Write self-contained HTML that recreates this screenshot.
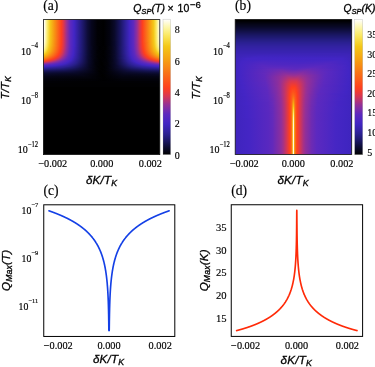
<!DOCTYPE html>
<html><head><meta charset="utf-8"><title>figure</title>
<style>
html,body{margin:0;padding:0;background:#fff;}
body{width:375px;height:367px;overflow:hidden;font-family:"Liberation Sans",sans-serif;}
svg{display:block}
.s{font-family:"Liberation Serif",serif;fill:#000;stroke:#000;stroke-width:.16px}
.i{font-family:"Liberation Sans",sans-serif;font-style:italic;fill:#000;stroke:#000;stroke-width:.3px}
.n{font-family:"Liberation Sans",sans-serif;fill:#000;stroke:#000;stroke-width:.3px}
</style></head><body>
<svg width="375" height="367" viewBox="0 0 375 367">
<defs>
<filter id="gs" filterUnits="userSpaceOnUse" x="0" y="0" width="375" height="367" color-interpolation-filters="sRGB"><feColorMatrix type="saturate" values="0"/></filter>
<linearGradient id="a0" gradientUnits="userSpaceOnUse" x1="43" x2="161" y1="0" y2="0"><stop offset="0.0042" stop-color="#fff"/><stop offset="0.0127" stop-color="#fffdeb"/><stop offset="0.0297" stop-color="#fcf18f"/><stop offset="0.0381" stop-color="#fae967"/><stop offset="0.0551" stop-color="#f6d12b"/><stop offset="0.0636" stop-color="#f4c418"/><stop offset="0.0975" stop-color="#f79313"/><stop offset="0.1483" stop-color="#fe491c"/><stop offset="0.1568" stop-color="#fc3f21"/><stop offset="0.1737" stop-color="#de384a"/><stop offset="0.1992" stop-color="#9c3190"/><stop offset="0.2246" stop-color="#692ab6"/><stop offset="0.2331" stop-color="#5c29be"/><stop offset="0.2585" stop-color="#4726c4"/><stop offset="0.2669" stop-color="#4025c1"/><stop offset="0.3263" stop-color="#221b79"/><stop offset="0.3771" stop-color="#0e0d39"/><stop offset="0.411" stop-color="#06061d"/><stop offset="0.4619" stop-color="#010105"/><stop offset="0.5127" stop-color="#000001"/><stop offset="0.5636" stop-color="#03030f"/><stop offset="0.6059" stop-color="#0a0a2a"/><stop offset="0.6483" stop-color="#17145a"/><stop offset="0.6992" stop-color="#2f219b"/><stop offset="0.7331" stop-color="#4225c3"/><stop offset="0.7669" stop-color="#5e29bd"/><stop offset="0.7924" stop-color="#8d2f9d"/><stop offset="0.8008" stop-color="#a0318c"/><stop offset="0.8178" stop-color="#cf355c"/><stop offset="0.8347" stop-color="#f13b31"/><stop offset="0.8432" stop-color="#fe401f"/><stop offset="0.911" stop-color="#f6a313"/><stop offset="0.9364" stop-color="#f4c71a"/><stop offset="0.9449" stop-color="#f6d331"/><stop offset="0.9619" stop-color="#fbeb6f"/><stop offset="0.9788" stop-color="#fef9c4"/><stop offset="0.9873" stop-color="#fffef2"/><stop offset="0.9958" stop-color="#fff"/></linearGradient>
<linearGradient id="a1" gradientUnits="userSpaceOnUse" x1="43" x2="161" y1="0" y2="0"><stop offset="0.0042" stop-color="#fff"/><stop offset="0.0127" stop-color="#fefde8"/><stop offset="0.0297" stop-color="#fcf08d"/><stop offset="0.0381" stop-color="#fae865"/><stop offset="0.0551" stop-color="#f6d02a"/><stop offset="0.0636" stop-color="#f4c417"/><stop offset="0.0975" stop-color="#f79313"/><stop offset="0.1483" stop-color="#fe481d"/><stop offset="0.1568" stop-color="#fc3e22"/><stop offset="0.1737" stop-color="#dd374a"/><stop offset="0.1992" stop-color="#9b3090"/><stop offset="0.2246" stop-color="#692ab6"/><stop offset="0.2331" stop-color="#5c29be"/><stop offset="0.2585" stop-color="#4726c4"/><stop offset="0.2669" stop-color="#4025c1"/><stop offset="0.3263" stop-color="#221b79"/><stop offset="0.3771" stop-color="#0e0d39"/><stop offset="0.411" stop-color="#06061d"/><stop offset="0.4619" stop-color="#010105"/><stop offset="0.5127" stop-color="#000001"/><stop offset="0.5636" stop-color="#03030f"/><stop offset="0.6059" stop-color="#0a0a2a"/><stop offset="0.6483" stop-color="#17145a"/><stop offset="0.6992" stop-color="#2f219b"/><stop offset="0.7331" stop-color="#4125c3"/><stop offset="0.7669" stop-color="#5e29bd"/><stop offset="0.7924" stop-color="#8c2f9d"/><stop offset="0.8008" stop-color="#a0318c"/><stop offset="0.8178" stop-color="#ce355c"/><stop offset="0.8347" stop-color="#f03b31"/><stop offset="0.8432" stop-color="#fe401f"/><stop offset="0.911" stop-color="#f6a212"/><stop offset="0.9364" stop-color="#f4c619"/><stop offset="0.9449" stop-color="#f6d330"/><stop offset="0.9619" stop-color="#fbea6d"/><stop offset="0.9788" stop-color="#fef8c1"/><stop offset="0.9873" stop-color="#fffdf1"/><stop offset="0.9958" stop-color="#fff"/></linearGradient>
<linearGradient id="a2" gradientUnits="userSpaceOnUse" x1="43" x2="161" y1="0" y2="0"><stop offset="0.0042" stop-color="#fff"/><stop offset="0.0127" stop-color="#fefce5"/><stop offset="0.0212" stop-color="#fdf7b6"/><stop offset="0.0381" stop-color="#fae864"/><stop offset="0.0551" stop-color="#f5d029"/><stop offset="0.0636" stop-color="#f4c317"/><stop offset="0.0975" stop-color="#f79213"/><stop offset="0.1483" stop-color="#fe481d"/><stop offset="0.1568" stop-color="#fc3e22"/><stop offset="0.1737" stop-color="#dd374b"/><stop offset="0.1992" stop-color="#9b3091"/><stop offset="0.2246" stop-color="#692ab6"/><stop offset="0.2331" stop-color="#5c29be"/><stop offset="0.2585" stop-color="#4626c4"/><stop offset="0.2669" stop-color="#4025c1"/><stop offset="0.3263" stop-color="#211b79"/><stop offset="0.3771" stop-color="#0e0d39"/><stop offset="0.411" stop-color="#06061d"/><stop offset="0.4619" stop-color="#010105"/><stop offset="0.5127" stop-color="#000001"/><stop offset="0.5636" stop-color="#03030f"/><stop offset="0.6059" stop-color="#0a0a2a"/><stop offset="0.6483" stop-color="#17145a"/><stop offset="0.6992" stop-color="#2f219b"/><stop offset="0.7331" stop-color="#4125c3"/><stop offset="0.7669" stop-color="#5e29bd"/><stop offset="0.7924" stop-color="#8c2f9d"/><stop offset="0.8008" stop-color="#9f318d"/><stop offset="0.8178" stop-color="#ce355c"/><stop offset="0.8347" stop-color="#f03b32"/><stop offset="0.8432" stop-color="#fd401f"/><stop offset="0.911" stop-color="#f6a212"/><stop offset="0.9364" stop-color="#f4c619"/><stop offset="0.9449" stop-color="#f6d22f"/><stop offset="0.9619" stop-color="#faea6b"/><stop offset="0.9788" stop-color="#fdf8bf"/><stop offset="0.9873" stop-color="#fffdef"/><stop offset="0.9958" stop-color="#fff"/></linearGradient>
<linearGradient id="a3" gradientUnits="userSpaceOnUse" x1="43" x2="161" y1="0" y2="0"><stop offset="0.0042" stop-color="#fff"/><stop offset="0.0127" stop-color="#fefce2"/><stop offset="0.0212" stop-color="#fdf7b3"/><stop offset="0.0381" stop-color="#fae762"/><stop offset="0.0551" stop-color="#f5cf27"/><stop offset="0.0636" stop-color="#f4c317"/><stop offset="0.0975" stop-color="#f79214"/><stop offset="0.1483" stop-color="#fe481d"/><stop offset="0.1568" stop-color="#fc3e22"/><stop offset="0.1737" stop-color="#dd374b"/><stop offset="0.1992" stop-color="#9b3091"/><stop offset="0.2246" stop-color="#692ab6"/><stop offset="0.2331" stop-color="#5c29be"/><stop offset="0.2585" stop-color="#4626c4"/><stop offset="0.2669" stop-color="#4025c1"/><stop offset="0.3263" stop-color="#211b79"/><stop offset="0.3771" stop-color="#0e0d39"/><stop offset="0.411" stop-color="#06061c"/><stop offset="0.4619" stop-color="#010105"/><stop offset="0.5127" stop-color="#000001"/><stop offset="0.5636" stop-color="#03030f"/><stop offset="0.6059" stop-color="#0a0a2a"/><stop offset="0.6483" stop-color="#17145a"/><stop offset="0.6992" stop-color="#2f219b"/><stop offset="0.7331" stop-color="#4125c3"/><stop offset="0.7669" stop-color="#5e29bd"/><stop offset="0.7924" stop-color="#8c2f9d"/><stop offset="0.8008" stop-color="#9f318d"/><stop offset="0.8178" stop-color="#cd355d"/><stop offset="0.8347" stop-color="#f03b32"/><stop offset="0.8432" stop-color="#fd3f20"/><stop offset="0.911" stop-color="#f6a112"/><stop offset="0.9364" stop-color="#f4c518"/><stop offset="0.9449" stop-color="#f6d12d"/><stop offset="0.9619" stop-color="#fae969"/><stop offset="0.9788" stop-color="#fdf8bc"/><stop offset="0.9873" stop-color="#fffdec"/><stop offset="0.9958" stop-color="#fff"/></linearGradient>
<linearGradient id="a4" gradientUnits="userSpaceOnUse" x1="43" x2="161" y1="0" y2="0"><stop offset="0.0042" stop-color="#fff"/><stop offset="0.0127" stop-color="#fefcdf"/><stop offset="0.0212" stop-color="#fdf6b0"/><stop offset="0.0381" stop-color="#fae75f"/><stop offset="0.0551" stop-color="#f5ce26"/><stop offset="0.0636" stop-color="#f4c217"/><stop offset="0.0975" stop-color="#f79114"/><stop offset="0.1483" stop-color="#fe471d"/><stop offset="0.1568" stop-color="#fb3e23"/><stop offset="0.1737" stop-color="#dc374c"/><stop offset="0.1992" stop-color="#9a3091"/><stop offset="0.2246" stop-color="#692ab6"/><stop offset="0.2331" stop-color="#5c29bf"/><stop offset="0.2585" stop-color="#4626c4"/><stop offset="0.2669" stop-color="#4025c1"/><stop offset="0.3263" stop-color="#211b79"/><stop offset="0.3771" stop-color="#0e0d39"/><stop offset="0.411" stop-color="#06061c"/><stop offset="0.4619" stop-color="#010105"/><stop offset="0.5127" stop-color="#000001"/><stop offset="0.5636" stop-color="#03030f"/><stop offset="0.6059" stop-color="#0a0a2a"/><stop offset="0.6483" stop-color="#17145a"/><stop offset="0.6992" stop-color="#2f219b"/><stop offset="0.7331" stop-color="#4125c3"/><stop offset="0.7669" stop-color="#5e29be"/><stop offset="0.7924" stop-color="#8c2f9d"/><stop offset="0.8008" stop-color="#9e318d"/><stop offset="0.8178" stop-color="#cd355e"/><stop offset="0.8347" stop-color="#ef3b33"/><stop offset="0.8432" stop-color="#fd3f20"/><stop offset="0.911" stop-color="#f6a112"/><stop offset="0.9364" stop-color="#f4c418"/><stop offset="0.9449" stop-color="#f6d12b"/><stop offset="0.9619" stop-color="#fae967"/><stop offset="0.9788" stop-color="#fdf8b9"/><stop offset="0.9873" stop-color="#fefde8"/><stop offset="0.9958" stop-color="#fff"/></linearGradient>
<linearGradient id="a5" gradientUnits="userSpaceOnUse" x1="43" x2="161" y1="0" y2="0"><stop offset="0.0042" stop-color="#fffffe"/><stop offset="0.0127" stop-color="#fefbdb"/><stop offset="0.0212" stop-color="#fdf6ad"/><stop offset="0.0381" stop-color="#fae65e"/><stop offset="0.0551" stop-color="#f5ce24"/><stop offset="0.0636" stop-color="#f4c117"/><stop offset="0.0975" stop-color="#f79114"/><stop offset="0.1483" stop-color="#fe471d"/><stop offset="0.1568" stop-color="#fb3e23"/><stop offset="0.1737" stop-color="#dc374c"/><stop offset="0.1992" stop-color="#9a3092"/><stop offset="0.2246" stop-color="#682ab7"/><stop offset="0.2331" stop-color="#5c29bf"/><stop offset="0.2585" stop-color="#4626c4"/><stop offset="0.2669" stop-color="#4025c1"/><stop offset="0.3263" stop-color="#211b79"/><stop offset="0.3771" stop-color="#0e0d39"/><stop offset="0.411" stop-color="#06061c"/><stop offset="0.4619" stop-color="#010105"/><stop offset="0.5127" stop-color="#000001"/><stop offset="0.5636" stop-color="#03030f"/><stop offset="0.6059" stop-color="#0a0a2a"/><stop offset="0.6483" stop-color="#17145a"/><stop offset="0.6992" stop-color="#2f219b"/><stop offset="0.7331" stop-color="#4125c2"/><stop offset="0.7669" stop-color="#5e29be"/><stop offset="0.7924" stop-color="#8b2f9e"/><stop offset="0.8008" stop-color="#9e318e"/><stop offset="0.8178" stop-color="#cc355e"/><stop offset="0.8347" stop-color="#ef3b33"/><stop offset="0.8432" stop-color="#fd3f20"/><stop offset="0.911" stop-color="#f6a012"/><stop offset="0.9364" stop-color="#f4c417"/><stop offset="0.9449" stop-color="#f5d02a"/><stop offset="0.9619" stop-color="#fae865"/><stop offset="0.9788" stop-color="#fdf7b6"/><stop offset="0.9873" stop-color="#fefce5"/><stop offset="0.9958" stop-color="#fff"/></linearGradient>
<linearGradient id="a6" gradientUnits="userSpaceOnUse" x1="43" x2="161" y1="0" y2="0"><stop offset="0.0042" stop-color="#fffffd"/><stop offset="0.0127" stop-color="#fefbd8"/><stop offset="0.0212" stop-color="#fdf6aa"/><stop offset="0.0381" stop-color="#fae55c"/><stop offset="0.0551" stop-color="#f5cd23"/><stop offset="0.0636" stop-color="#f4c117"/><stop offset="0.0975" stop-color="#f79014"/><stop offset="0.1483" stop-color="#fe471d"/><stop offset="0.1568" stop-color="#fb3e23"/><stop offset="0.1737" stop-color="#dc374d"/><stop offset="0.1992" stop-color="#993092"/><stop offset="0.2246" stop-color="#682ab7"/><stop offset="0.2331" stop-color="#5b29bf"/><stop offset="0.2585" stop-color="#4626c4"/><stop offset="0.2669" stop-color="#4025c1"/><stop offset="0.3263" stop-color="#211b79"/><stop offset="0.3771" stop-color="#0e0d39"/><stop offset="0.411" stop-color="#06061c"/><stop offset="0.4619" stop-color="#010105"/><stop offset="0.5127" stop-color="#000001"/><stop offset="0.5636" stop-color="#03030f"/><stop offset="0.6059" stop-color="#09092a"/><stop offset="0.6483" stop-color="#171459"/><stop offset="0.6992" stop-color="#2f219b"/><stop offset="0.7331" stop-color="#4125c2"/><stop offset="0.7669" stop-color="#5d29be"/><stop offset="0.7924" stop-color="#8b2f9e"/><stop offset="0.8008" stop-color="#9d318e"/><stop offset="0.8178" stop-color="#cc355f"/><stop offset="0.8347" stop-color="#ef3b34"/><stop offset="0.8432" stop-color="#fd3f21"/><stop offset="0.9025" stop-color="#f79313"/><stop offset="0.9364" stop-color="#f4c317"/><stop offset="0.9449" stop-color="#f5cf28"/><stop offset="0.9619" stop-color="#fae862"/><stop offset="0.9788" stop-color="#fdf7b2"/><stop offset="0.9873" stop-color="#fefce1"/><stop offset="0.9958" stop-color="#fff"/></linearGradient>
<linearGradient id="a7" gradientUnits="userSpaceOnUse" x1="43" x2="161" y1="0" y2="0"><stop offset="0.0042" stop-color="#fffffb"/><stop offset="0.0127" stop-color="#fefad3"/><stop offset="0.0212" stop-color="#fdf5a6"/><stop offset="0.0381" stop-color="#f9e559"/><stop offset="0.0551" stop-color="#f5cc21"/><stop offset="0.0636" stop-color="#f4c017"/><stop offset="0.0975" stop-color="#f78f14"/><stop offset="0.1483" stop-color="#fe461d"/><stop offset="0.1568" stop-color="#fa3d24"/><stop offset="0.1737" stop-color="#db374d"/><stop offset="0.1992" stop-color="#993093"/><stop offset="0.2246" stop-color="#682ab7"/><stop offset="0.2331" stop-color="#5b29bf"/><stop offset="0.2585" stop-color="#4626c4"/><stop offset="0.2669" stop-color="#4025c1"/><stop offset="0.3263" stop-color="#211b79"/><stop offset="0.3771" stop-color="#0e0d39"/><stop offset="0.411" stop-color="#06061c"/><stop offset="0.4619" stop-color="#010105"/><stop offset="0.5127" stop-color="#000001"/><stop offset="0.5636" stop-color="#03030f"/><stop offset="0.6059" stop-color="#09092a"/><stop offset="0.6483" stop-color="#171459"/><stop offset="0.6992" stop-color="#2f219b"/><stop offset="0.7331" stop-color="#4125c2"/><stop offset="0.7669" stop-color="#5d29be"/><stop offset="0.7924" stop-color="#8b2f9e"/><stop offset="0.8008" stop-color="#9d318f"/><stop offset="0.8263" stop-color="#de3849"/><stop offset="0.8432" stop-color="#fc3f21"/><stop offset="0.8856" stop-color="#f97816"/><stop offset="0.9195" stop-color="#f5ab14"/><stop offset="0.9364" stop-color="#f4c217"/><stop offset="0.9449" stop-color="#f5ce26"/><stop offset="0.9619" stop-color="#fae75f"/><stop offset="0.9788" stop-color="#fdf6ae"/><stop offset="0.9873" stop-color="#fefbdd"/><stop offset="0.9958" stop-color="#fffffe"/></linearGradient>
<linearGradient id="a8" gradientUnits="userSpaceOnUse" x1="43" x2="161" y1="0" y2="0"><stop offset="0.0042" stop-color="#fffef8"/><stop offset="0.0212" stop-color="#fdf4a1"/><stop offset="0.0381" stop-color="#f9e356"/><stop offset="0.0551" stop-color="#f5cb1f"/><stop offset="0.0636" stop-color="#f4bf17"/><stop offset="0.0975" stop-color="#f78e14"/><stop offset="0.1483" stop-color="#fe461d"/><stop offset="0.1568" stop-color="#fa3d25"/><stop offset="0.1737" stop-color="#da374e"/><stop offset="0.1992" stop-color="#983093"/><stop offset="0.2246" stop-color="#672ab7"/><stop offset="0.2331" stop-color="#5b29bf"/><stop offset="0.2585" stop-color="#4626c4"/><stop offset="0.2669" stop-color="#4025c1"/><stop offset="0.3263" stop-color="#211b79"/><stop offset="0.3771" stop-color="#0e0d39"/><stop offset="0.411" stop-color="#06061c"/><stop offset="0.4619" stop-color="#010105"/><stop offset="0.5127" stop-color="#000001"/><stop offset="0.5636" stop-color="#03030f"/><stop offset="0.6059" stop-color="#09092a"/><stop offset="0.6483" stop-color="#171459"/><stop offset="0.6992" stop-color="#2f219b"/><stop offset="0.7331" stop-color="#4125c2"/><stop offset="0.7585" stop-color="#5528c0"/><stop offset="0.7669" stop-color="#5d29be"/><stop offset="0.7924" stop-color="#8a2f9f"/><stop offset="0.8008" stop-color="#9c318f"/><stop offset="0.8263" stop-color="#de374a"/><stop offset="0.8432" stop-color="#fc3e22"/><stop offset="0.8686" stop-color="#fb5f19"/><stop offset="0.9195" stop-color="#f6aa13"/><stop offset="0.9364" stop-color="#f4c117"/><stop offset="0.9449" stop-color="#f5cd24"/><stop offset="0.9619" stop-color="#fae65c"/><stop offset="0.9788" stop-color="#fdf5a9"/><stop offset="0.9873" stop-color="#fefbd7"/><stop offset="0.9958" stop-color="#fffffc"/></linearGradient>
<linearGradient id="a9" gradientUnits="userSpaceOnUse" x1="43" x2="161" y1="0" y2="0"><stop offset="0.0042" stop-color="#fffef3"/><stop offset="0.0212" stop-color="#fcf39b"/><stop offset="0.0297" stop-color="#fbec74"/><stop offset="0.0381" stop-color="#f9e252"/><stop offset="0.0551" stop-color="#f4c91d"/><stop offset="0.072" stop-color="#f5b215"/><stop offset="0.1059" stop-color="#f88115"/><stop offset="0.1483" stop-color="#fe451d"/><stop offset="0.1568" stop-color="#f93d26"/><stop offset="0.1737" stop-color="#d9374f"/><stop offset="0.1992" stop-color="#973094"/><stop offset="0.2246" stop-color="#672ab8"/><stop offset="0.2331" stop-color="#5b29bf"/><stop offset="0.2585" stop-color="#4626c4"/><stop offset="0.2669" stop-color="#4025c0"/><stop offset="0.3263" stop-color="#211b78"/><stop offset="0.3771" stop-color="#0e0d39"/><stop offset="0.411" stop-color="#06061c"/><stop offset="0.4619" stop-color="#010105"/><stop offset="0.5127" stop-color="#000001"/><stop offset="0.5636" stop-color="#03030f"/><stop offset="0.6059" stop-color="#09092a"/><stop offset="0.6483" stop-color="#171459"/><stop offset="0.6992" stop-color="#2f219a"/><stop offset="0.7331" stop-color="#4125c2"/><stop offset="0.7585" stop-color="#5528c0"/><stop offset="0.7669" stop-color="#5d29be"/><stop offset="0.7924" stop-color="#892e9f"/><stop offset="0.8008" stop-color="#9b3090"/><stop offset="0.8263" stop-color="#dd374b"/><stop offset="0.8432" stop-color="#fb3e23"/><stop offset="0.8602" stop-color="#fd531b"/><stop offset="0.9195" stop-color="#f6a813"/><stop offset="0.9364" stop-color="#f4c017"/><stop offset="0.9449" stop-color="#f5cc21"/><stop offset="0.9619" stop-color="#f9e458"/><stop offset="0.9788" stop-color="#fdf5a3"/><stop offset="0.9958" stop-color="#fffef9"/></linearGradient>
<linearGradient id="a10" gradientUnits="userSpaceOnUse" x1="43" x2="161" y1="0" y2="0"><stop offset="0.0042" stop-color="#fffdec"/><stop offset="0.0212" stop-color="#fcf294"/><stop offset="0.0297" stop-color="#fbea6d"/><stop offset="0.0466" stop-color="#f6d432"/><stop offset="0.0551" stop-color="#f4c81a"/><stop offset="0.089" stop-color="#f79913"/><stop offset="0.1483" stop-color="#fe441d"/><stop offset="0.1568" stop-color="#f83d27"/><stop offset="0.1737" stop-color="#d83751"/><stop offset="0.1992" stop-color="#963095"/><stop offset="0.2246" stop-color="#662ab8"/><stop offset="0.2415" stop-color="#5327c1"/><stop offset="0.2585" stop-color="#4626c4"/><stop offset="0.2669" stop-color="#4025c0"/><stop offset="0.3263" stop-color="#211b78"/><stop offset="0.3771" stop-color="#0e0d39"/><stop offset="0.411" stop-color="#06061c"/><stop offset="0.4619" stop-color="#010105"/><stop offset="0.5127" stop-color="#000001"/><stop offset="0.5636" stop-color="#03030f"/><stop offset="0.6059" stop-color="#09092a"/><stop offset="0.6483" stop-color="#171459"/><stop offset="0.6992" stop-color="#2f219a"/><stop offset="0.7331" stop-color="#4125c2"/><stop offset="0.7585" stop-color="#5528c0"/><stop offset="0.7669" stop-color="#5c29be"/><stop offset="0.7924" stop-color="#892ea0"/><stop offset="0.8008" stop-color="#9a3091"/><stop offset="0.8263" stop-color="#dc374c"/><stop offset="0.8432" stop-color="#fb3e24"/><stop offset="0.8517" stop-color="#fe461d"/><stop offset="0.9195" stop-color="#f6a713"/><stop offset="0.9364" stop-color="#f4be17"/><stop offset="0.9449" stop-color="#f5ca1e"/><stop offset="0.9619" stop-color="#f9e253"/><stop offset="0.9703" stop-color="#fbec75"/><stop offset="0.9873" stop-color="#fef9c7"/><stop offset="0.9958" stop-color="#fffef4"/></linearGradient>
<linearGradient id="a11" gradientUnits="userSpaceOnUse" x1="43" x2="161" y1="0" y2="0"><stop offset="0.0042" stop-color="#fefce1"/><stop offset="0.0212" stop-color="#fcf08b"/><stop offset="0.0297" stop-color="#fae966"/><stop offset="0.0466" stop-color="#f6d12d"/><stop offset="0.0551" stop-color="#f4c519"/><stop offset="0.089" stop-color="#f79713"/><stop offset="0.1483" stop-color="#fe431d"/><stop offset="0.1568" stop-color="#f73c29"/><stop offset="0.1737" stop-color="#d73652"/><stop offset="0.1992" stop-color="#953096"/><stop offset="0.2246" stop-color="#662ab9"/><stop offset="0.2415" stop-color="#5327c1"/><stop offset="0.2585" stop-color="#4525c4"/><stop offset="0.2669" stop-color="#4025c0"/><stop offset="0.3347" stop-color="#1d196e"/><stop offset="0.3856" stop-color="#0b0b30"/><stop offset="0.428" stop-color="#040413"/><stop offset="0.4788" stop-color="#000002"/><stop offset="0.5297" stop-color="#010103"/><stop offset="0.5805" stop-color="#060618"/><stop offset="0.6144" stop-color="#0c0b32"/><stop offset="0.6737" stop-color="#221b7a"/><stop offset="0.7331" stop-color="#4125c2"/><stop offset="0.75" stop-color="#4e27c2"/><stop offset="0.7669" stop-color="#5c29be"/><stop offset="0.7924" stop-color="#882ea0"/><stop offset="0.8008" stop-color="#993092"/><stop offset="0.8263" stop-color="#db374e"/><stop offset="0.8432" stop-color="#fa3d25"/><stop offset="0.8517" stop-color="#fe451d"/><stop offset="0.9195" stop-color="#f6a513"/><stop offset="0.9449" stop-color="#f4c81b"/><stop offset="0.9619" stop-color="#f8e04e"/><stop offset="0.9703" stop-color="#fbea6d"/><stop offset="0.9873" stop-color="#fdf8bd"/><stop offset="0.9958" stop-color="#fffdea"/></linearGradient>
<linearGradient id="a12" gradientUnits="userSpaceOnUse" x1="43" x2="161" y1="0" y2="0"><stop offset="0.0042" stop-color="#fefad4"/><stop offset="0.0212" stop-color="#fbee81"/><stop offset="0.0297" stop-color="#fae65d"/><stop offset="0.0466" stop-color="#f5cf27"/><stop offset="0.0551" stop-color="#f4c317"/><stop offset="0.089" stop-color="#f79413"/><stop offset="0.1483" stop-color="#fe421d"/><stop offset="0.1568" stop-color="#f53c2b"/><stop offset="0.1737" stop-color="#d53654"/><stop offset="0.1992" stop-color="#943097"/><stop offset="0.2246" stop-color="#652ab9"/><stop offset="0.2415" stop-color="#5327c1"/><stop offset="0.2585" stop-color="#4525c4"/><stop offset="0.2669" stop-color="#3f24bf"/><stop offset="0.3347" stop-color="#1d196d"/><stop offset="0.3856" stop-color="#0b0b30"/><stop offset="0.428" stop-color="#040413"/><stop offset="0.4788" stop-color="#000002"/><stop offset="0.5297" stop-color="#010103"/><stop offset="0.5805" stop-color="#060618"/><stop offset="0.6144" stop-color="#0c0b31"/><stop offset="0.6737" stop-color="#221b7a"/><stop offset="0.7331" stop-color="#4025c1"/><stop offset="0.75" stop-color="#4d27c2"/><stop offset="0.7669" stop-color="#5b29bf"/><stop offset="0.7924" stop-color="#872ea1"/><stop offset="0.8008" stop-color="#983094"/><stop offset="0.8263" stop-color="#d93750"/><stop offset="0.8432" stop-color="#f83d27"/><stop offset="0.8517" stop-color="#fe441d"/><stop offset="0.9195" stop-color="#f6a313"/><stop offset="0.9449" stop-color="#f4c518"/><stop offset="0.9534" stop-color="#f6d12c"/><stop offset="0.9703" stop-color="#fae864"/><stop offset="0.9873" stop-color="#fdf6b0"/><stop offset="0.9958" stop-color="#fefbdd"/></linearGradient>
<linearGradient id="a13" gradientUnits="userSpaceOnUse" x1="43" x2="161" y1="0" y2="0"><stop offset="0.0042" stop-color="#fef9c4"/><stop offset="0.0212" stop-color="#fbec75"/><stop offset="0.0297" stop-color="#f9e354"/><stop offset="0.0466" stop-color="#f5cb20"/><stop offset="0.0551" stop-color="#f4c017"/><stop offset="0.089" stop-color="#f79214"/><stop offset="0.1483" stop-color="#fe411e"/><stop offset="0.1653" stop-color="#e33942"/><stop offset="0.1737" stop-color="#d33657"/><stop offset="0.1992" stop-color="#922f99"/><stop offset="0.2246" stop-color="#632aba"/><stop offset="0.25" stop-color="#4b26c3"/><stop offset="0.2585" stop-color="#4525c4"/><stop offset="0.2754" stop-color="#3b23b5"/><stop offset="0.3347" stop-color="#1d196d"/><stop offset="0.3856" stop-color="#0b0b30"/><stop offset="0.428" stop-color="#040413"/><stop offset="0.4788" stop-color="#000002"/><stop offset="0.5297" stop-color="#010103"/><stop offset="0.5805" stop-color="#060618"/><stop offset="0.6144" stop-color="#0c0b31"/><stop offset="0.6737" stop-color="#221b7a"/><stop offset="0.7331" stop-color="#4025c1"/><stop offset="0.75" stop-color="#4d27c2"/><stop offset="0.7669" stop-color="#5b29bf"/><stop offset="0.7839" stop-color="#762cad"/><stop offset="0.8008" stop-color="#963096"/><stop offset="0.8263" stop-color="#d73653"/><stop offset="0.8432" stop-color="#f63c2a"/><stop offset="0.8517" stop-color="#fe431d"/><stop offset="0.9195" stop-color="#f6a012"/><stop offset="0.9449" stop-color="#f4c217"/><stop offset="0.9534" stop-color="#f5ce24"/><stop offset="0.9703" stop-color="#f9e55a"/><stop offset="0.9873" stop-color="#fdf4a2"/><stop offset="0.9958" stop-color="#fefacc"/></linearGradient>
<linearGradient id="a14" gradientUnits="userSpaceOnUse" x1="43" x2="161" y1="0" y2="0"><stop offset="0.0042" stop-color="#fdf6b0"/><stop offset="0.0212" stop-color="#fae966"/><stop offset="0.0381" stop-color="#f6d330"/><stop offset="0.0466" stop-color="#f4c71a"/><stop offset="0.0805" stop-color="#f69b13"/><stop offset="0.1483" stop-color="#fd3f20"/><stop offset="0.1737" stop-color="#d0355a"/><stop offset="0.1907" stop-color="#a43188"/><stop offset="0.1992" stop-color="#902f9a"/><stop offset="0.2246" stop-color="#622abb"/><stop offset="0.2585" stop-color="#4425c4"/><stop offset="0.2754" stop-color="#3a23b4"/><stop offset="0.3347" stop-color="#1d196d"/><stop offset="0.3856" stop-color="#0b0b30"/><stop offset="0.428" stop-color="#040413"/><stop offset="0.4788" stop-color="#000002"/><stop offset="0.5297" stop-color="#010103"/><stop offset="0.5805" stop-color="#060618"/><stop offset="0.6144" stop-color="#0c0b31"/><stop offset="0.6737" stop-color="#221b7a"/><stop offset="0.7331" stop-color="#4025c0"/><stop offset="0.7415" stop-color="#4626c4"/><stop offset="0.7669" stop-color="#5a28bf"/><stop offset="0.7839" stop-color="#742cae"/><stop offset="0.8008" stop-color="#943097"/><stop offset="0.8263" stop-color="#d43656"/><stop offset="0.8432" stop-color="#f33c2d"/><stop offset="0.8517" stop-color="#fe411e"/><stop offset="0.928" stop-color="#f6a813"/><stop offset="0.9449" stop-color="#f4be17"/><stop offset="0.9534" stop-color="#f4c91d"/><stop offset="0.9703" stop-color="#f9e04f"/><stop offset="0.9788" stop-color="#fbea6d"/><stop offset="0.9958" stop-color="#fdf8b9"/></linearGradient>
<linearGradient id="a15" gradientUnits="userSpaceOnUse" x1="43" x2="161" y1="0" y2="0"><stop offset="0.0042" stop-color="#fcf39b"/><stop offset="0.0212" stop-color="#f9e457"/><stop offset="0.0381" stop-color="#f5cd24"/><stop offset="0.0466" stop-color="#f4c217"/><stop offset="0.0805" stop-color="#f79613"/><stop offset="0.1398" stop-color="#fe471d"/><stop offset="0.1483" stop-color="#fb3e23"/><stop offset="0.1737" stop-color="#cc355e"/><stop offset="0.1907" stop-color="#a0318b"/><stop offset="0.1992" stop-color="#8e2f9c"/><stop offset="0.2246" stop-color="#6129bc"/><stop offset="0.2585" stop-color="#4425c4"/><stop offset="0.3093" stop-color="#291f8d"/><stop offset="0.3771" stop-color="#0e0d38"/><stop offset="0.411" stop-color="#06061c"/><stop offset="0.4619" stop-color="#010105"/><stop offset="0.5127" stop-color="#000001"/><stop offset="0.5636" stop-color="#03030f"/><stop offset="0.6059" stop-color="#09092a"/><stop offset="0.6483" stop-color="#171458"/><stop offset="0.6992" stop-color="#2e2199"/><stop offset="0.7331" stop-color="#4024c0"/><stop offset="0.7415" stop-color="#4525c4"/><stop offset="0.7754" stop-color="#632aba"/><stop offset="0.8008" stop-color="#912f9a"/><stop offset="0.8178" stop-color="#ba3371"/><stop offset="0.8263" stop-color="#d0365a"/><stop offset="0.8517" stop-color="#fd3f20"/><stop offset="0.928" stop-color="#f6a413"/><stop offset="0.9534" stop-color="#f4c518"/><stop offset="0.9619" stop-color="#f5d029"/><stop offset="0.9788" stop-color="#fae65d"/><stop offset="0.9958" stop-color="#fdf4a2"/></linearGradient>
<linearGradient id="a16" gradientUnits="userSpaceOnUse" x1="43" x2="161" y1="0" y2="0"><stop offset="0.0042" stop-color="#fbee82"/><stop offset="0.0127" stop-color="#fae761"/><stop offset="0.0297" stop-color="#f6d22e"/><stop offset="0.0381" stop-color="#f4c71a"/><stop offset="0.072" stop-color="#f69d12"/><stop offset="0.1398" stop-color="#fe441d"/><stop offset="0.1483" stop-color="#f83d27"/><stop offset="0.1653" stop-color="#db374e"/><stop offset="0.1907" stop-color="#9c318f"/><stop offset="0.2161" stop-color="#6d2bb3"/><stop offset="0.2246" stop-color="#5f29bd"/><stop offset="0.2585" stop-color="#4325c4"/><stop offset="0.3178" stop-color="#251d82"/><stop offset="0.3771" stop-color="#0e0d38"/><stop offset="0.411" stop-color="#06061c"/><stop offset="0.4619" stop-color="#010105"/><stop offset="0.5127" stop-color="#000001"/><stop offset="0.5636" stop-color="#03030f"/><stop offset="0.6059" stop-color="#090929"/><stop offset="0.6483" stop-color="#171458"/><stop offset="0.6992" stop-color="#2e2198"/><stop offset="0.7331" stop-color="#3f24bf"/><stop offset="0.7415" stop-color="#4425c4"/><stop offset="0.7754" stop-color="#6229bb"/><stop offset="0.8008" stop-color="#8e2f9c"/><stop offset="0.8093" stop-color="#a0318b"/><stop offset="0.8347" stop-color="#de374a"/><stop offset="0.8517" stop-color="#fb3d24"/><stop offset="0.8602" stop-color="#fe461d"/><stop offset="0.9364" stop-color="#f6aa13"/><stop offset="0.9534" stop-color="#f4bf17"/><stop offset="0.9619" stop-color="#f4c91d"/><stop offset="0.9788" stop-color="#f8df4c"/><stop offset="0.9873" stop-color="#fae967"/><stop offset="0.9958" stop-color="#fcf089"/></linearGradient>
<linearGradient id="a17" gradientUnits="userSpaceOnUse" x1="43" x2="161" y1="0" y2="0"><stop offset="0.0042" stop-color="#fae966"/><stop offset="0.0297" stop-color="#f5ca1e"/><stop offset="0.0381" stop-color="#f4c017"/><stop offset="0.072" stop-color="#f79613"/><stop offset="0.1398" stop-color="#fe401f"/><stop offset="0.1568" stop-color="#e53941"/><stop offset="0.1653" stop-color="#d63654"/><stop offset="0.1907" stop-color="#983094"/><stop offset="0.2246" stop-color="#5d29be"/><stop offset="0.2585" stop-color="#4325c4"/><stop offset="0.3178" stop-color="#241d81"/><stop offset="0.3771" stop-color="#0d0d38"/><stop offset="0.411" stop-color="#06061c"/><stop offset="0.4619" stop-color="#010105"/><stop offset="0.5127" stop-color="#000001"/><stop offset="0.5636" stop-color="#03030f"/><stop offset="0.6059" stop-color="#090929"/><stop offset="0.6483" stop-color="#171458"/><stop offset="0.6992" stop-color="#2d2198"/><stop offset="0.7415" stop-color="#4425c4"/><stop offset="0.7754" stop-color="#5f29bd"/><stop offset="0.8008" stop-color="#8b2f9e"/><stop offset="0.8093" stop-color="#9b3090"/><stop offset="0.8347" stop-color="#d93750"/><stop offset="0.8517" stop-color="#f63c2a"/><stop offset="0.8602" stop-color="#fe421e"/><stop offset="0.9364" stop-color="#f6a313"/><stop offset="0.9619" stop-color="#f4c217"/><stop offset="0.9703" stop-color="#f5cc22"/><stop offset="0.9873" stop-color="#f9e151"/><stop offset="0.9958" stop-color="#faea6c"/></linearGradient>
<linearGradient id="a18" gradientUnits="userSpaceOnUse" x1="43" x2="161" y1="0" y2="0"><stop offset="0.0042" stop-color="#f8df4b"/><stop offset="0.0212" stop-color="#f5cb1f"/><stop offset="0.0297" stop-color="#f4c117"/><stop offset="0.072" stop-color="#f78e14"/><stop offset="0.1314" stop-color="#fe451d"/><stop offset="0.1398" stop-color="#fb3e23"/><stop offset="0.1653" stop-color="#cf355b"/><stop offset="0.1907" stop-color="#933098"/><stop offset="0.2161" stop-color="#672ab8"/><stop offset="0.2246" stop-color="#5c29bf"/><stop offset="0.2585" stop-color="#4225c3"/><stop offset="0.3263" stop-color="#201a76"/><stop offset="0.3771" stop-color="#0d0d38"/><stop offset="0.411" stop-color="#06061c"/><stop offset="0.4619" stop-color="#010105"/><stop offset="0.5127" stop-color="#000001"/><stop offset="0.5636" stop-color="#03030f"/><stop offset="0.6059" stop-color="#090929"/><stop offset="0.6483" stop-color="#171457"/><stop offset="0.6992" stop-color="#2d2197"/><stop offset="0.7415" stop-color="#4325c4"/><stop offset="0.7754" stop-color="#5d29be"/><stop offset="0.8093" stop-color="#963095"/><stop offset="0.8347" stop-color="#d33657"/><stop offset="0.8602" stop-color="#fd3f21"/><stop offset="0.9195" stop-color="#f88615"/><stop offset="0.9534" stop-color="#f5af14"/><stop offset="0.9703" stop-color="#f4c318"/><stop offset="0.9788" stop-color="#f5cd23"/><stop offset="0.9958" stop-color="#f9e150"/></linearGradient>
<linearGradient id="a19" gradientUnits="userSpaceOnUse" x1="43" x2="161" y1="0" y2="0"><stop offset="0.0042" stop-color="#f6d22f"/><stop offset="0.0127" stop-color="#f4c91d"/><stop offset="0.0297" stop-color="#f5b615"/><stop offset="0.072" stop-color="#f88515"/><stop offset="0.1314" stop-color="#fe401f"/><stop offset="0.1568" stop-color="#d83751"/><stop offset="0.1822" stop-color="#9e318e"/><stop offset="0.1992" stop-color="#7f2da7"/><stop offset="0.2161" stop-color="#632aba"/><stop offset="0.25" stop-color="#4626c4"/><stop offset="0.2585" stop-color="#4125c2"/><stop offset="0.3263" stop-color="#201a75"/><stop offset="0.3856" stop-color="#0b0b2f"/><stop offset="0.4364" stop-color="#03030e"/><stop offset="0.4873" stop-color="#000001"/><stop offset="0.5381" stop-color="#010106"/><stop offset="0.589" stop-color="#07071d"/><stop offset="0.6229" stop-color="#0e0d39"/><stop offset="0.7076" stop-color="#31219f"/><stop offset="0.7415" stop-color="#4225c3"/><stop offset="0.7754" stop-color="#5b29bf"/><stop offset="0.7924" stop-color="#732caf"/><stop offset="0.8093" stop-color="#902f9a"/><stop offset="0.8263" stop-color="#b53376"/><stop offset="0.8432" stop-color="#db374d"/><stop offset="0.8602" stop-color="#f63c29"/><stop offset="0.8686" stop-color="#fe421e"/><stop offset="0.9534" stop-color="#f6a613"/><stop offset="0.9788" stop-color="#f4c117"/><stop offset="0.9873" stop-color="#f5cb1f"/><stop offset="0.9958" stop-color="#f6d433"/></linearGradient>
<linearGradient id="a20" gradientUnits="userSpaceOnUse" x1="43" x2="161" y1="0" y2="0"><stop offset="0.0042" stop-color="#f4c318"/><stop offset="0.0466" stop-color="#f79713"/><stop offset="0.1229" stop-color="#fe421e"/><stop offset="0.1314" stop-color="#f83d28"/><stop offset="0.1568" stop-color="#ce355c"/><stop offset="0.1822" stop-color="#953096"/><stop offset="0.2161" stop-color="#5f29bd"/><stop offset="0.25" stop-color="#4525c4"/><stop offset="0.2585" stop-color="#4025c0"/><stop offset="0.3178" stop-color="#231c7e"/><stop offset="0.3771" stop-color="#0d0d37"/><stop offset="0.411" stop-color="#06061c"/><stop offset="0.4619" stop-color="#010105"/><stop offset="0.5127" stop-color="#000001"/><stop offset="0.5636" stop-color="#03030f"/><stop offset="0.6059" stop-color="#090929"/><stop offset="0.6483" stop-color="#161456"/><stop offset="0.7076" stop-color="#30219d"/><stop offset="0.7415" stop-color="#4125c2"/><stop offset="0.7669" stop-color="#5227c1"/><stop offset="0.7839" stop-color="#6129bc"/><stop offset="0.8178" stop-color="#983093"/><stop offset="0.8432" stop-color="#d23658"/><stop offset="0.8686" stop-color="#fa3d25"/><stop offset="0.8771" stop-color="#fe441d"/><stop offset="0.9619" stop-color="#f6a313"/><stop offset="0.9958" stop-color="#f4c519"/></linearGradient>
<linearGradient id="a21" gradientUnits="userSpaceOnUse" x1="43" x2="161" y1="0" y2="0"><stop offset="0.0042" stop-color="#f5b315"/><stop offset="0.0551" stop-color="#f88015"/><stop offset="0.1144" stop-color="#fe421e"/><stop offset="0.1229" stop-color="#f83d27"/><stop offset="0.1483" stop-color="#d23658"/><stop offset="0.1737" stop-color="#9b3090"/><stop offset="0.2076" stop-color="#652ab9"/><stop offset="0.2246" stop-color="#5528c0"/><stop offset="0.25" stop-color="#4325c4"/><stop offset="0.3093" stop-color="#271e87"/><stop offset="0.3771" stop-color="#0d0c37"/><stop offset="0.411" stop-color="#06061c"/><stop offset="0.4619" stop-color="#010105"/><stop offset="0.5127" stop-color="#000001"/><stop offset="0.5636" stop-color="#03030f"/><stop offset="0.6059" stop-color="#090929"/><stop offset="0.6483" stop-color="#161355"/><stop offset="0.7076" stop-color="#2f219b"/><stop offset="0.7415" stop-color="#3f24bf"/><stop offset="0.75" stop-color="#4425c4"/><stop offset="0.7839" stop-color="#5d29be"/><stop offset="0.8178" stop-color="#8f2f9b"/><stop offset="0.8347" stop-color="#b1337a"/><stop offset="0.8517" stop-color="#d53654"/><stop offset="0.8771" stop-color="#fa3e24"/><stop offset="0.8856" stop-color="#fe441d"/><stop offset="0.9788" stop-color="#f6a513"/><stop offset="0.9958" stop-color="#f5b515"/></linearGradient>
<linearGradient id="a22" gradientUnits="userSpaceOnUse" x1="43" x2="161" y1="0" y2="0"><stop offset="0.0042" stop-color="#f6a013"/><stop offset="0.1059" stop-color="#fd401f"/><stop offset="0.1229" stop-color="#eb3a39"/><stop offset="0.1398" stop-color="#d23658"/><stop offset="0.1653" stop-color="#9e318d"/><stop offset="0.1822" stop-color="#832ea4"/><stop offset="0.2076" stop-color="#5f29bd"/><stop offset="0.25" stop-color="#4125c3"/><stop offset="0.3093" stop-color="#261e85"/><stop offset="0.3771" stop-color="#0d0c36"/><stop offset="0.4195" stop-color="#050517"/><stop offset="0.4703" stop-color="#010103"/><stop offset="0.5212" stop-color="#000002"/><stop offset="0.572" stop-color="#040413"/><stop offset="0.6144" stop-color="#0b0b30"/><stop offset="0.6822" stop-color="#231c7d"/><stop offset="0.7415" stop-color="#3e24bc"/><stop offset="0.75" stop-color="#4225c4"/><stop offset="0.7924" stop-color="#6129bc"/><stop offset="0.8263" stop-color="#923099"/><stop offset="0.8602" stop-color="#d53654"/><stop offset="0.8856" stop-color="#f83d27"/><stop offset="0.8941" stop-color="#fe421e"/><stop offset="0.9958" stop-color="#f6a213"/></linearGradient>
<linearGradient id="a23" gradientUnits="userSpaceOnUse" x1="43" x2="161" y1="0" y2="0"><stop offset="0.0042" stop-color="#f88a14"/><stop offset="0.089" stop-color="#fe421e"/><stop offset="0.0975" stop-color="#f93d25"/><stop offset="0.1314" stop-color="#cd355d"/><stop offset="0.1568" stop-color="#9d318f"/><stop offset="0.1822" stop-color="#782cac"/><stop offset="0.1992" stop-color="#6129bc"/><stop offset="0.2415" stop-color="#4425c4"/><stop offset="0.3008" stop-color="#291f8d"/><stop offset="0.3771" stop-color="#0d0c36"/><stop offset="0.4195" stop-color="#050517"/><stop offset="0.4703" stop-color="#010103"/><stop offset="0.5212" stop-color="#000002"/><stop offset="0.572" stop-color="#040413"/><stop offset="0.6144" stop-color="#0b0b2f"/><stop offset="0.6907" stop-color="#261e85"/><stop offset="0.75" stop-color="#4025c1"/><stop offset="0.7585" stop-color="#4525c4"/><stop offset="0.8008" stop-color="#632aba"/><stop offset="0.8347" stop-color="#922f99"/><stop offset="0.8771" stop-color="#dd374b"/><stop offset="0.9025" stop-color="#fb3e23"/><stop offset="0.9195" stop-color="#fe4a1c"/><stop offset="0.9958" stop-color="#f78b14"/></linearGradient>
<linearGradient id="a24" gradientUnits="userSpaceOnUse" x1="43" x2="161" y1="0" y2="0"><stop offset="0.0042" stop-color="#f97117"/><stop offset="0.0636" stop-color="#fe461d"/><stop offset="0.0805" stop-color="#f73d29"/><stop offset="0.1144" stop-color="#d0365a"/><stop offset="0.1483" stop-color="#973094"/><stop offset="0.1907" stop-color="#6129bc"/><stop offset="0.2331" stop-color="#4525c4"/><stop offset="0.2415" stop-color="#4125c2"/><stop offset="0.3093" stop-color="#241d80"/><stop offset="0.3856" stop-color="#0a0a2d"/><stop offset="0.4364" stop-color="#03030e"/><stop offset="0.4873" stop-color="#000001"/><stop offset="0.5381" stop-color="#010106"/><stop offset="0.589" stop-color="#06061d"/><stop offset="0.6229" stop-color="#0d0c37"/><stop offset="0.7161" stop-color="#2f219c"/><stop offset="0.7585" stop-color="#4225c3"/><stop offset="0.8008" stop-color="#5b29bf"/><stop offset="0.8263" stop-color="#782cab"/><stop offset="0.8517" stop-color="#9a3092"/><stop offset="0.8941" stop-color="#dd374a"/><stop offset="0.9195" stop-color="#f83d27"/><stop offset="0.9364" stop-color="#fe471d"/><stop offset="0.9958" stop-color="#f97217"/></linearGradient>
<linearGradient id="a25" gradientUnits="userSpaceOnUse" x1="43" x2="161" y1="0" y2="0"><stop offset="0.0042" stop-color="#fc571a"/><stop offset="0.0381" stop-color="#fd431f"/><stop offset="0.0551" stop-color="#f53c2b"/><stop offset="0.089" stop-color="#d43655"/><stop offset="0.1314" stop-color="#983094"/><stop offset="0.1822" stop-color="#5e29bd"/><stop offset="0.2331" stop-color="#4125c3"/><stop offset="0.3008" stop-color="#261e86"/><stop offset="0.3856" stop-color="#0a0a2c"/><stop offset="0.4364" stop-color="#03030e"/><stop offset="0.4873" stop-color="#000001"/><stop offset="0.5381" stop-color="#010106"/><stop offset="0.589" stop-color="#06061c"/><stop offset="0.6229" stop-color="#0d0c36"/><stop offset="0.7161" stop-color="#2e2198"/><stop offset="0.7669" stop-color="#4225c4"/><stop offset="0.8178" stop-color="#6029bc"/><stop offset="0.8686" stop-color="#9a3091"/><stop offset="0.911" stop-color="#d63653"/><stop offset="0.9449" stop-color="#f63d29"/><stop offset="0.9703" stop-color="#fe481d"/><stop offset="0.9958" stop-color="#fc581a"/></linearGradient>
<linearGradient id="a26" gradientUnits="userSpaceOnUse" x1="43" x2="161" y1="0" y2="0"><stop offset="0.0042" stop-color="#f93f25"/><stop offset="0.0381" stop-color="#e43942"/><stop offset="0.072" stop-color="#c33468"/><stop offset="0.1144" stop-color="#902f9a"/><stop offset="0.1653" stop-color="#5f29bd"/><stop offset="0.2161" stop-color="#4525c4"/><stop offset="0.2331" stop-color="#3e24bb"/><stop offset="0.3008" stop-color="#251d82"/><stop offset="0.3856" stop-color="#0a0a2c"/><stop offset="0.4364" stop-color="#03030e"/><stop offset="0.4873" stop-color="#000001"/><stop offset="0.5381" stop-color="#010106"/><stop offset="0.589" stop-color="#06061c"/><stop offset="0.6229" stop-color="#0d0c35"/><stop offset="0.7161" stop-color="#2c2094"/><stop offset="0.7754" stop-color="#4225c3"/><stop offset="0.8347" stop-color="#6129bc"/><stop offset="0.8856" stop-color="#922f98"/><stop offset="0.9449" stop-color="#d73752"/><stop offset="0.9873" stop-color="#f63d2a"/><stop offset="0.9958" stop-color="#fa4024"/></linearGradient>
<linearGradient id="a27" gradientUnits="userSpaceOnUse" x1="43" x2="161" y1="0" y2="0"><stop offset="0.0042" stop-color="#d43655"/><stop offset="0.0805" stop-color="#902f9a"/><stop offset="0.1483" stop-color="#5c29be"/><stop offset="0.2076" stop-color="#4225c3"/><stop offset="0.2839" stop-color="#291f8d"/><stop offset="0.3856" stop-color="#0a0a2b"/><stop offset="0.4449" stop-color="#02020a"/><stop offset="0.4958" stop-color="#000"/><stop offset="0.5466" stop-color="#020208"/><stop offset="0.6059" stop-color="#090926"/><stop offset="0.6568" stop-color="#161354"/><stop offset="0.7246" stop-color="#2c2095"/><stop offset="0.7924" stop-color="#4325c4"/><stop offset="0.8602" stop-color="#622aba"/><stop offset="0.928" stop-color="#993092"/><stop offset="0.9958" stop-color="#d53654"/></linearGradient>
<linearGradient id="a28" gradientUnits="userSpaceOnUse" x1="43" x2="161" y1="0" y2="0"><stop offset="0.0042" stop-color="#9d318e"/><stop offset="0.089" stop-color="#6a2ab5"/><stop offset="0.1314" stop-color="#5628c0"/><stop offset="0.1907" stop-color="#4225c2"/><stop offset="0.2754" stop-color="#291f8d"/><stop offset="0.3856" stop-color="#0a0a2a"/><stop offset="0.4449" stop-color="#02020a"/><stop offset="0.4958" stop-color="#000"/><stop offset="0.5466" stop-color="#020208"/><stop offset="0.6059" stop-color="#090925"/><stop offset="0.6653" stop-color="#171459"/><stop offset="0.7331" stop-color="#2c2094"/><stop offset="0.8093" stop-color="#4225c3"/><stop offset="0.8856" stop-color="#5d29bd"/><stop offset="0.9873" stop-color="#983092"/><stop offset="0.9958" stop-color="#9e318d"/></linearGradient>
<linearGradient id="a29" gradientUnits="userSpaceOnUse" x1="43" x2="161" y1="0" y2="0"><stop offset="0.0042" stop-color="#712bb1"/><stop offset="0.0805" stop-color="#5728c0"/><stop offset="0.1568" stop-color="#4325c3"/><stop offset="0.2076" stop-color="#3723ad"/><stop offset="0.2754" stop-color="#261e84"/><stop offset="0.3856" stop-color="#090929"/><stop offset="0.4449" stop-color="#02020a"/><stop offset="0.4958" stop-color="#000"/><stop offset="0.5466" stop-color="#020208"/><stop offset="0.6059" stop-color="#080825"/><stop offset="0.6737" stop-color="#18155c"/><stop offset="0.75" stop-color="#2d2197"/><stop offset="0.8347" stop-color="#4125c1"/><stop offset="0.8941" stop-color="#5127c1"/><stop offset="0.9703" stop-color="#682ab7"/><stop offset="0.9958" stop-color="#712bb0"/></linearGradient>
<linearGradient id="a30" gradientUnits="userSpaceOnUse" x1="43" x2="161" y1="0" y2="0"><stop offset="0.0042" stop-color="#5428c1"/><stop offset="0.1059" stop-color="#4325c2"/><stop offset="0.1653" stop-color="#3923b1"/><stop offset="0.25" stop-color="#281f8b"/><stop offset="0.3263" stop-color="#161355"/><stop offset="0.3941" stop-color="#080822"/><stop offset="0.4534" stop-color="#020207"/><stop offset="0.5042" stop-color="#000"/><stop offset="0.5551" stop-color="#02020b"/><stop offset="0.6229" stop-color="#0b0a2e"/><stop offset="0.7246" stop-color="#231c7c"/><stop offset="0.7839" stop-color="#30219d"/><stop offset="0.8771" stop-color="#4025c0"/><stop offset="0.9449" stop-color="#4c26c2"/><stop offset="0.9958" stop-color="#5428c0"/></linearGradient>
<linearGradient id="a31" gradientUnits="userSpaceOnUse" x1="43" x2="161" y1="0" y2="0"><stop offset="0.0042" stop-color="#4325c2"/><stop offset="0.089" stop-color="#3b23b5"/><stop offset="0.2161" stop-color="#2a208f"/><stop offset="0.3008" stop-color="#191660"/><stop offset="0.3941" stop-color="#080821"/><stop offset="0.4619" stop-color="#010105"/><stop offset="0.5127" stop-color="#000001"/><stop offset="0.5636" stop-color="#03030e"/><stop offset="0.6314" stop-color="#0c0b31"/><stop offset="0.7331" stop-color="#201b76"/><stop offset="0.8008" stop-color="#2d2196"/><stop offset="0.9449" stop-color="#3e24bc"/><stop offset="0.9958" stop-color="#4325c2"/></linearGradient>
<linearGradient id="a32" gradientUnits="userSpaceOnUse" x1="43" x2="161" y1="0" y2="0"><stop offset="0.0042" stop-color="#3723ac"/><stop offset="0.1653" stop-color="#2a2090"/><stop offset="0.2669" stop-color="#1c186a"/><stop offset="0.4025" stop-color="#06061c"/><stop offset="0.4703" stop-color="#010103"/><stop offset="0.5212" stop-color="#000002"/><stop offset="0.5805" stop-color="#050515"/><stop offset="0.6568" stop-color="#0f0e3e"/><stop offset="0.75" stop-color="#1f1a72"/><stop offset="0.8432" stop-color="#2b2092"/><stop offset="0.9958" stop-color="#3723ac"/></linearGradient>
<linearGradient id="a33" gradientUnits="userSpaceOnUse" x1="43" x2="161" y1="0" y2="0"><stop offset="0.0042" stop-color="#2c2095"/><stop offset="0.1483" stop-color="#241d80"/><stop offset="0.25" stop-color="#1a1763"/><stop offset="0.4364" stop-color="#03030d"/><stop offset="0.4873" stop-color="#000001"/><stop offset="0.5381" stop-color="#010105"/><stop offset="0.6314" stop-color="#0a0a2b"/><stop offset="0.75" stop-color="#1a1764"/><stop offset="0.8686" stop-color="#261d84"/><stop offset="0.9958" stop-color="#2d2095"/></linearGradient>
<linearGradient id="a34" gradientUnits="userSpaceOnUse" x1="43" x2="161" y1="0" y2="0"><stop offset="0.0042" stop-color="#231c7d"/><stop offset="0.1737" stop-color="#1c1868"/><stop offset="0.2839" stop-color="#13114a"/><stop offset="0.4534" stop-color="#020207"/><stop offset="0.5042" stop-color="#000"/><stop offset="0.5636" stop-color="#03030d"/><stop offset="0.75" stop-color="#161355"/><stop offset="0.8686" stop-color="#1e196f"/><stop offset="0.9958" stop-color="#231c7d"/></linearGradient>
<linearGradient id="a35" gradientUnits="userSpaceOnUse" x1="43" x2="161" y1="0" y2="0"><stop offset="0.0042" stop-color="#1b1766"/><stop offset="0.1907" stop-color="#151353"/><stop offset="0.3093" stop-color="#0d0d37"/><stop offset="0.4703" stop-color="#010103"/><stop offset="0.5212" stop-color="#000002"/><stop offset="0.6229" stop-color="#080821"/><stop offset="0.75" stop-color="#121048"/><stop offset="0.9025" stop-color="#19165f"/><stop offset="0.9958" stop-color="#1b1766"/></linearGradient>
<linearGradient id="a36" gradientUnits="userSpaceOnUse" x1="43" x2="161" y1="0" y2="0"><stop offset="0.0042" stop-color="#151251"/><stop offset="0.2161" stop-color="#100e40"/><stop offset="0.3602" stop-color="#080822"/><stop offset="0.4788" stop-color="#000001"/><stop offset="0.5297" stop-color="#010103"/><stop offset="0.7161" stop-color="#0d0c35"/><stop offset="0.8686" stop-color="#121149"/><stop offset="0.9958" stop-color="#151251"/></linearGradient>
<linearGradient id="a37" gradientUnits="userSpaceOnUse" x1="43" x2="161" y1="0" y2="0"><stop offset="0.0042" stop-color="#0f0e3f"/><stop offset="0.2415" stop-color="#0b0b31"/><stop offset="0.3771" stop-color="#06061b"/><stop offset="0.4873" stop-color="#000001"/><stop offset="0.5381" stop-color="#010105"/><stop offset="0.6822" stop-color="#090927"/><stop offset="0.8686" stop-color="#0e0d3a"/><stop offset="0.9958" stop-color="#0f0e3f"/></linearGradient>
<linearGradient id="a38" gradientUnits="userSpaceOnUse" x1="43" x2="161" y1="0" y2="0"><stop offset="0.0042" stop-color="#0b0b30"/><stop offset="0.2839" stop-color="#080824"/><stop offset="0.411" stop-color="#040410"/><stop offset="0.4958" stop-color="#000"/><stop offset="0.5636" stop-color="#02020b"/><stop offset="0.6907" stop-color="#080822"/><stop offset="0.9449" stop-color="#0b0b2f"/><stop offset="0.9958" stop-color="#0b0b30"/></linearGradient>
<linearGradient id="a39" gradientUnits="userSpaceOnUse" x1="43" x2="161" y1="0" y2="0"><stop offset="0.0042" stop-color="#090926"/><stop offset="0.3093" stop-color="#06061c"/><stop offset="0.4364" stop-color="#02020a"/><stop offset="0.5042" stop-color="#000"/><stop offset="0.6822" stop-color="#06061c"/><stop offset="0.9788" stop-color="#080825"/><stop offset="0.9958" stop-color="#090926"/></linearGradient>
<linearGradient id="a40" gradientUnits="userSpaceOnUse" x1="43" x2="161" y1="0" y2="0"><stop offset="0.0042" stop-color="#07071e"/><stop offset="0.3347" stop-color="#050516"/><stop offset="0.5042" stop-color="#000"/><stop offset="0.6737" stop-color="#050516"/><stop offset="0.9958" stop-color="#07071e"/></linearGradient>
<linearGradient id="a41" gradientUnits="userSpaceOnUse" x1="43" x2="161" y1="0" y2="0"><stop offset="0.0042" stop-color="#050517"/><stop offset="0.3602" stop-color="#040410"/><stop offset="0.5042" stop-color="#000"/><stop offset="0.6653" stop-color="#040412"/><stop offset="0.9958" stop-color="#050517"/></linearGradient>
<linearGradient id="a42" gradientUnits="userSpaceOnUse" x1="43" x2="161" y1="0" y2="0"><stop offset="0.0042" stop-color="#040412"/><stop offset="0.3856" stop-color="#03030c"/><stop offset="0.5127" stop-color="#000001"/><stop offset="0.6568" stop-color="#03030f"/><stop offset="0.9958" stop-color="#040412"/></linearGradient>
<linearGradient id="a43" gradientUnits="userSpaceOnUse" x1="43" x2="161" y1="0" y2="0"><stop offset="0.0042" stop-color="#03030e"/><stop offset="0.411" stop-color="#020209"/><stop offset="0.5127" stop-color="#000001"/><stop offset="0.6653" stop-color="#03030c"/><stop offset="0.9958" stop-color="#03030e"/></linearGradient>
<linearGradient id="a44" gradientUnits="userSpaceOnUse" x1="43" x2="161" y1="0" y2="0"><stop offset="0.0042" stop-color="#02020a"/><stop offset="0.4364" stop-color="#010105"/><stop offset="0.5127" stop-color="#000001"/><stop offset="0.6822" stop-color="#020209"/><stop offset="0.9958" stop-color="#02020a"/></linearGradient>
<linearGradient id="a45" gradientUnits="userSpaceOnUse" x1="43" x2="161" y1="0" y2="0"><stop offset="0.0042" stop-color="#010106"/><stop offset="0.4619" stop-color="#010102"/><stop offset="0.5381" stop-color="#010103"/><stop offset="0.9958" stop-color="#010106"/></linearGradient>
<linearGradient id="a46" gradientUnits="userSpaceOnUse" x1="43" x2="161" y1="0" y2="0"><stop offset="0.0042" stop-color="#010103"/><stop offset="0.572" stop-color="#010102"/><stop offset="0.9958" stop-color="#010103"/></linearGradient>
<linearGradient id="b0" gradientUnits="userSpaceOnUse" x1="235" x2="352" y1="0" y2="0"><stop offset="0.0043" stop-color="#3a23b4"/><stop offset="0.8761" stop-color="#3c24b7"/><stop offset="0.9957" stop-color="#3a23b4"/></linearGradient>
<linearGradient id="b1" gradientUnits="userSpaceOnUse" x1="235" x2="352" y1="0" y2="0"><stop offset="0.0043" stop-color="#3b24b6"/><stop offset="0.312" stop-color="#3d24b9"/><stop offset="0.9701" stop-color="#3c24b7"/><stop offset="0.9957" stop-color="#3b24b6"/></linearGradient>
<linearGradient id="b2" gradientUnits="userSpaceOnUse" x1="235" x2="352" y1="0" y2="0"><stop offset="0.0043" stop-color="#3c24b7"/><stop offset="0.235" stop-color="#3e24bd"/><stop offset="0.9444" stop-color="#3d24ba"/><stop offset="0.9957" stop-color="#3c24b7"/></linearGradient>
<linearGradient id="b3" gradientUnits="userSpaceOnUse" x1="235" x2="352" y1="0" y2="0"><stop offset="0.0043" stop-color="#3c24b8"/><stop offset="0.1923" stop-color="#4025c0"/><stop offset="0.9274" stop-color="#3f24bd"/><stop offset="0.9957" stop-color="#3c24b8"/></linearGradient>
<linearGradient id="b4" gradientUnits="userSpaceOnUse" x1="235" x2="352" y1="0" y2="0"><stop offset="0.0043" stop-color="#3d24ba"/><stop offset="0.1667" stop-color="#4125c3"/><stop offset="0.688" stop-color="#4025c2"/><stop offset="0.9188" stop-color="#4025c0"/><stop offset="0.9957" stop-color="#3d24b9"/></linearGradient>
<linearGradient id="b5" gradientUnits="userSpaceOnUse" x1="235" x2="352" y1="0" y2="0"><stop offset="0.0043" stop-color="#3d24bb"/><stop offset="0.1068" stop-color="#4325c5"/><stop offset="0.9103" stop-color="#4225c4"/><stop offset="0.9957" stop-color="#3d24bb"/></linearGradient>
<linearGradient id="b6" gradientUnits="userSpaceOnUse" x1="235" x2="352" y1="0" y2="0"><stop offset="0.0043" stop-color="#3e24bc"/><stop offset="0.0726" stop-color="#4325c5"/><stop offset="0.2778" stop-color="#4826c4"/><stop offset="0.6197" stop-color="#4525c4"/><stop offset="0.8761" stop-color="#4626c4"/><stop offset="0.9615" stop-color="#4125c2"/><stop offset="0.9957" stop-color="#3e24bc"/></linearGradient>
<linearGradient id="b7" gradientUnits="userSpaceOnUse" x1="235" x2="352" y1="0" y2="0"><stop offset="0.0043" stop-color="#3e24bc"/><stop offset="0.0641" stop-color="#4425c5"/><stop offset="0.2436" stop-color="#4b26c3"/><stop offset="0.5855" stop-color="#4626c4"/><stop offset="0.8419" stop-color="#4a26c3"/><stop offset="0.9615" stop-color="#4125c3"/><stop offset="0.9957" stop-color="#3e24bc"/></linearGradient>
<linearGradient id="b8" gradientUnits="userSpaceOnUse" x1="235" x2="352" y1="0" y2="0"><stop offset="0.0043" stop-color="#3e24bd"/><stop offset="0.0556" stop-color="#4425c5"/><stop offset="0.2265" stop-color="#4e27c2"/><stop offset="0.5769" stop-color="#4926c3"/><stop offset="0.8162" stop-color="#4d27c2"/><stop offset="0.9615" stop-color="#4225c4"/><stop offset="0.9957" stop-color="#3e24bc"/></linearGradient>
<linearGradient id="b9" gradientUnits="userSpaceOnUse" x1="235" x2="352" y1="0" y2="0"><stop offset="0.0043" stop-color="#3e24bd"/><stop offset="0.047" stop-color="#4325c5"/><stop offset="0.2179" stop-color="#5027c1"/><stop offset="0.5684" stop-color="#4b26c3"/><stop offset="0.7906" stop-color="#5027c1"/><stop offset="0.9701" stop-color="#4125c3"/><stop offset="0.9957" stop-color="#3e24bd"/></linearGradient>
<linearGradient id="b10" gradientUnits="userSpaceOnUse" x1="235" x2="352" y1="0" y2="0"><stop offset="0.0043" stop-color="#3e24bd"/><stop offset="0.047" stop-color="#4425c5"/><stop offset="0.2265" stop-color="#5327c1"/><stop offset="0.4402" stop-color="#4e27c2"/><stop offset="0.6282" stop-color="#5127c1"/><stop offset="0.8077" stop-color="#5227c1"/><stop offset="0.9701" stop-color="#4125c3"/><stop offset="0.9957" stop-color="#3e24bd"/></linearGradient>
<linearGradient id="b11" gradientUnits="userSpaceOnUse" x1="235" x2="352" y1="0" y2="0"><stop offset="0.0043" stop-color="#3f24bd"/><stop offset="0.047" stop-color="#4425c5"/><stop offset="0.235" stop-color="#5628c0"/><stop offset="0.4145" stop-color="#5327c1"/><stop offset="0.5684" stop-color="#5227c1"/><stop offset="0.7479" stop-color="#5628c0"/><stop offset="0.9359" stop-color="#4626c4"/><stop offset="0.9786" stop-color="#4025c1"/><stop offset="0.9957" stop-color="#3e24bd"/></linearGradient>
<linearGradient id="b12" gradientUnits="userSpaceOnUse" x1="235" x2="352" y1="0" y2="0"><stop offset="0.0043" stop-color="#3f24bd"/><stop offset="0.0385" stop-color="#4325c5"/><stop offset="0.2436" stop-color="#5828bf"/><stop offset="0.406" stop-color="#5728c0"/><stop offset="0.5427" stop-color="#5428c0"/><stop offset="0.7222" stop-color="#5a28bf"/><stop offset="0.9188" stop-color="#4926c3"/><stop offset="0.9701" stop-color="#4125c4"/><stop offset="0.9957" stop-color="#3e24bd"/></linearGradient>
<linearGradient id="b13" gradientUnits="userSpaceOnUse" x1="235" x2="352" y1="0" y2="0"><stop offset="0.0043" stop-color="#3f24be"/><stop offset="0.0385" stop-color="#4325c5"/><stop offset="0.2607" stop-color="#5b29bf"/><stop offset="0.406" stop-color="#5c29bf"/><stop offset="0.5342" stop-color="#5828c0"/><stop offset="0.688" stop-color="#5d29be"/><stop offset="0.9017" stop-color="#4b26c3"/><stop offset="0.9701" stop-color="#4225c4"/><stop offset="0.9957" stop-color="#3f24bd"/></linearGradient>
<linearGradient id="b14" gradientUnits="userSpaceOnUse" x1="235" x2="352" y1="0" y2="0"><stop offset="0.0043" stop-color="#3f24be"/><stop offset="0.0385" stop-color="#4325c5"/><stop offset="0.312" stop-color="#6129bc"/><stop offset="0.406" stop-color="#6229bb"/><stop offset="0.5171" stop-color="#5b29bf"/><stop offset="0.6538" stop-color="#642aba"/><stop offset="0.9359" stop-color="#4726c4"/><stop offset="0.9786" stop-color="#4125c2"/><stop offset="0.9957" stop-color="#3f24bd"/></linearGradient>
<linearGradient id="b15" gradientUnits="userSpaceOnUse" x1="235" x2="352" y1="0" y2="0"><stop offset="0.0043" stop-color="#3f24be"/><stop offset="0.0385" stop-color="#4325c5"/><stop offset="0.2949" stop-color="#632abb"/><stop offset="0.3889" stop-color="#6b2bb5"/><stop offset="0.5085" stop-color="#6029bc"/><stop offset="0.6197" stop-color="#6b2bb5"/><stop offset="0.8077" stop-color="#5728c0"/><stop offset="0.9701" stop-color="#4225c4"/><stop offset="0.9957" stop-color="#3f24bd"/></linearGradient>
<linearGradient id="b16" gradientUnits="userSpaceOnUse" x1="235" x2="352" y1="0" y2="0"><stop offset="0.0043" stop-color="#3f24be"/><stop offset="0.0385" stop-color="#4325c5"/><stop offset="0.2778" stop-color="#622abb"/><stop offset="0.3974" stop-color="#722caf"/><stop offset="0.5085" stop-color="#692ab6"/><stop offset="0.6026" stop-color="#722caf"/><stop offset="0.7222" stop-color="#6229bb"/><stop offset="0.9701" stop-color="#4225c4"/><stop offset="0.9957" stop-color="#3f24be"/></linearGradient>
<linearGradient id="b17" gradientUnits="userSpaceOnUse" x1="235" x2="352" y1="0" y2="0"><stop offset="0.0043" stop-color="#3f24be"/><stop offset="0.0385" stop-color="#4325c5"/><stop offset="0.2692" stop-color="#622abb"/><stop offset="0.406" stop-color="#7a2caa"/><stop offset="0.4744" stop-color="#732caf"/><stop offset="0.5256" stop-color="#742caf"/><stop offset="0.594" stop-color="#7a2caa"/><stop offset="0.7735" stop-color="#5b29bf"/><stop offset="0.9701" stop-color="#4225c4"/><stop offset="0.9957" stop-color="#3f24be"/></linearGradient>
<linearGradient id="b18" gradientUnits="userSpaceOnUse" x1="235" x2="352" y1="0" y2="0"><stop offset="0.0043" stop-color="#3f24be"/><stop offset="0.0385" stop-color="#4325c5"/><stop offset="0.2607" stop-color="#6229bb"/><stop offset="0.4145" stop-color="#812da5"/><stop offset="0.4744" stop-color="#7d2da8"/><stop offset="0.5171" stop-color="#7c2da9"/><stop offset="0.5769" stop-color="#822da4"/><stop offset="0.7051" stop-color="#692ab6"/><stop offset="0.7821" stop-color="#5b29bf"/><stop offset="0.9701" stop-color="#4225c4"/><stop offset="0.9957" stop-color="#3f24be"/></linearGradient>
<linearGradient id="b19" gradientUnits="userSpaceOnUse" x1="235" x2="352" y1="0" y2="0"><stop offset="0.0043" stop-color="#3f24be"/><stop offset="0.0385" stop-color="#4325c5"/><stop offset="0.2607" stop-color="#632abb"/><stop offset="0.4231" stop-color="#892e9f"/><stop offset="0.4744" stop-color="#862ea1"/><stop offset="0.5171" stop-color="#852ea2"/><stop offset="0.5684" stop-color="#8a2e9f"/><stop offset="0.7308" stop-color="#642aba"/><stop offset="0.8162" stop-color="#5628c0"/><stop offset="0.9701" stop-color="#4225c4"/><stop offset="0.9957" stop-color="#3f24be"/></linearGradient>
<linearGradient id="b20" gradientUnits="userSpaceOnUse" x1="235" x2="352" y1="0" y2="0"><stop offset="0.0043" stop-color="#3f24be"/><stop offset="0.0385" stop-color="#4325c5"/><stop offset="0.2521" stop-color="#6129bc"/><stop offset="0.4316" stop-color="#912f9a"/><stop offset="0.4744" stop-color="#902f9a"/><stop offset="0.5171" stop-color="#8f2f9b"/><stop offset="0.5598" stop-color="#922f99"/><stop offset="0.7735" stop-color="#5c29bf"/><stop offset="0.9701" stop-color="#4225c4"/><stop offset="0.9957" stop-color="#3f24be"/></linearGradient>
<linearGradient id="b21" gradientUnits="userSpaceOnUse" x1="235" x2="352" y1="0" y2="0"><stop offset="0.0043" stop-color="#3f24be"/><stop offset="0.047" stop-color="#4425c4"/><stop offset="0.2521" stop-color="#6129bc"/><stop offset="0.4487" stop-color="#9c3190"/><stop offset="0.5085" stop-color="#983094"/><stop offset="0.5513" stop-color="#9c3190"/><stop offset="0.765" stop-color="#5d29be"/><stop offset="0.9701" stop-color="#4125c4"/><stop offset="0.9957" stop-color="#3f24be"/></linearGradient>
<linearGradient id="b22" gradientUnits="userSpaceOnUse" x1="235" x2="352" y1="0" y2="0"><stop offset="0.0043" stop-color="#3f24be"/><stop offset="0.047" stop-color="#4425c5"/><stop offset="0.2521" stop-color="#6129bc"/><stop offset="0.4145" stop-color="#983094"/><stop offset="0.4573" stop-color="#a73284"/><stop offset="0.5085" stop-color="#a43188"/><stop offset="0.5427" stop-color="#a73285"/><stop offset="0.6368" stop-color="#842ea3"/><stop offset="0.765" stop-color="#5d29be"/><stop offset="0.9701" stop-color="#4125c4"/><stop offset="0.9957" stop-color="#3f24be"/></linearGradient>
<linearGradient id="b23" gradientUnits="userSpaceOnUse" x1="235" x2="352" y1="0" y2="0"><stop offset="0.0043" stop-color="#3f24be"/><stop offset="0.047" stop-color="#4425c5"/><stop offset="0.2521" stop-color="#6129bc"/><stop offset="0.3889" stop-color="#912f9a"/><stop offset="0.4573" stop-color="#b1337a"/><stop offset="0.4829" stop-color="#b1337a"/><stop offset="0.5085" stop-color="#b0327b"/><stop offset="0.5342" stop-color="#b23379"/><stop offset="0.5855" stop-color="#9c318f"/><stop offset="0.6538" stop-color="#7f2da6"/><stop offset="0.765" stop-color="#5d29be"/><stop offset="0.9701" stop-color="#4125c4"/><stop offset="0.9957" stop-color="#3f24be"/></linearGradient>
<linearGradient id="b24" gradientUnits="userSpaceOnUse" x1="235" x2="352" y1="0" y2="0"><stop offset="0.0043" stop-color="#3f24be"/><stop offset="0.047" stop-color="#4425c5"/><stop offset="0.2521" stop-color="#6029bc"/><stop offset="0.3803" stop-color="#8f2f9b"/><stop offset="0.4145" stop-color="#a2318a"/><stop offset="0.4658" stop-color="#bc346e"/><stop offset="0.5085" stop-color="#bc346f"/><stop offset="0.5342" stop-color="#bc346f"/><stop offset="0.594" stop-color="#9b3190"/><stop offset="0.6624" stop-color="#7d2da8"/><stop offset="0.765" stop-color="#5c29be"/><stop offset="0.9701" stop-color="#4125c3"/><stop offset="0.9957" stop-color="#3f24be"/></linearGradient>
<linearGradient id="b25" gradientUnits="userSpaceOnUse" x1="235" x2="352" y1="0" y2="0"><stop offset="0.0043" stop-color="#3f24be"/><stop offset="0.047" stop-color="#4325c5"/><stop offset="0.2607" stop-color="#622abb"/><stop offset="0.3718" stop-color="#8c2f9d"/><stop offset="0.3974" stop-color="#9a3092"/><stop offset="0.4658" stop-color="#c63465"/><stop offset="0.4915" stop-color="#c83563"/><stop offset="0.5256" stop-color="#c83563"/><stop offset="0.5684" stop-color="#b1327b"/><stop offset="0.6111" stop-color="#943098"/><stop offset="0.7222" stop-color="#672ab7"/><stop offset="0.7821" stop-color="#5a28bf"/><stop offset="0.9701" stop-color="#4125c3"/><stop offset="0.9957" stop-color="#3f24be"/></linearGradient>
<linearGradient id="b26" gradientUnits="userSpaceOnUse" x1="235" x2="352" y1="0" y2="0"><stop offset="0.0043" stop-color="#3f24be"/><stop offset="0.047" stop-color="#4325c5"/><stop offset="0.2607" stop-color="#6229bb"/><stop offset="0.3718" stop-color="#8d2f9c"/><stop offset="0.3974" stop-color="#9c3190"/><stop offset="0.4658" stop-color="#ce355c"/><stop offset="0.4915" stop-color="#d33657"/><stop offset="0.5256" stop-color="#d13659"/><stop offset="0.5684" stop-color="#b53376"/><stop offset="0.6111" stop-color="#953096"/><stop offset="0.7137" stop-color="#692ab6"/><stop offset="0.765" stop-color="#5c29bf"/><stop offset="0.9701" stop-color="#4125c3"/><stop offset="0.9957" stop-color="#3f24be"/></linearGradient>
<linearGradient id="b27" gradientUnits="userSpaceOnUse" x1="235" x2="352" y1="0" y2="0"><stop offset="0.0043" stop-color="#3f24be"/><stop offset="0.0556" stop-color="#4425c4"/><stop offset="0.2607" stop-color="#6129bc"/><stop offset="0.3632" stop-color="#892e9f"/><stop offset="0.3974" stop-color="#9e318e"/><stop offset="0.4658" stop-color="#d63654"/><stop offset="0.4915" stop-color="#db374d"/><stop offset="0.5256" stop-color="#d93750"/><stop offset="0.5598" stop-color="#c1346a"/><stop offset="0.6111" stop-color="#963096"/><stop offset="0.7051" stop-color="#6c2bb4"/><stop offset="0.765" stop-color="#5b29bf"/><stop offset="0.9701" stop-color="#4125c3"/><stop offset="0.9957" stop-color="#3f24be"/></linearGradient>
<linearGradient id="b28" gradientUnits="userSpaceOnUse" x1="235" x2="352" y1="0" y2="0"><stop offset="0.0043" stop-color="#3f24be"/><stop offset="0.0556" stop-color="#4425c5"/><stop offset="0.2607" stop-color="#6029bd"/><stop offset="0.3632" stop-color="#8a2e9f"/><stop offset="0.3889" stop-color="#983094"/><stop offset="0.4658" stop-color="#db374d"/><stop offset="0.4915" stop-color="#e23844"/><stop offset="0.5256" stop-color="#de3849"/><stop offset="0.5513" stop-color="#cd355d"/><stop offset="0.6111" stop-color="#973095"/><stop offset="0.6966" stop-color="#6e2bb2"/><stop offset="0.7564" stop-color="#5c29be"/><stop offset="0.9701" stop-color="#4125c3"/><stop offset="0.9957" stop-color="#3f24be"/></linearGradient>
<linearGradient id="b29" gradientUnits="userSpaceOnUse" x1="235" x2="352" y1="0" y2="0"><stop offset="0.0043" stop-color="#3f24be"/><stop offset="0.0556" stop-color="#4425c5"/><stop offset="0.2607" stop-color="#5f29bd"/><stop offset="0.3547" stop-color="#852ea2"/><stop offset="0.3889" stop-color="#993093"/><stop offset="0.4573" stop-color="#da374f"/><stop offset="0.4829" stop-color="#e7393d"/><stop offset="0.5171" stop-color="#e7393e"/><stop offset="0.5513" stop-color="#d13659"/><stop offset="0.6111" stop-color="#983094"/><stop offset="0.688" stop-color="#712bb0"/><stop offset="0.7564" stop-color="#5c29bf"/><stop offset="0.9615" stop-color="#4225c4"/><stop offset="0.9957" stop-color="#3f24be"/></linearGradient>
<linearGradient id="b30" gradientUnits="userSpaceOnUse" x1="235" x2="352" y1="0" y2="0"><stop offset="0.0043" stop-color="#3f24be"/><stop offset="0.0556" stop-color="#4325c5"/><stop offset="0.2692" stop-color="#6129bc"/><stop offset="0.3632" stop-color="#892e9f"/><stop offset="0.3889" stop-color="#993093"/><stop offset="0.4402" stop-color="#cd355d"/><stop offset="0.4744" stop-color="#e93a3b"/><stop offset="0.4915" stop-color="#ef3b33"/><stop offset="0.5171" stop-color="#ed3a36"/><stop offset="0.5513" stop-color="#d53655"/><stop offset="0.6026" stop-color="#9f318d"/><stop offset="0.6282" stop-color="#8d2f9c"/><stop offset="0.7137" stop-color="#662ab8"/><stop offset="0.765" stop-color="#5a28bf"/><stop offset="0.9615" stop-color="#4225c4"/><stop offset="0.9957" stop-color="#3f24be"/></linearGradient>
<linearGradient id="b31" gradientUnits="userSpaceOnUse" x1="235" x2="352" y1="0" y2="0"><stop offset="0.0043" stop-color="#3f24be"/><stop offset="0.0641" stop-color="#4425c4"/><stop offset="0.2692" stop-color="#6029bd"/><stop offset="0.3632" stop-color="#892e9f"/><stop offset="0.3889" stop-color="#993093"/><stop offset="0.4316" stop-color="#c53465"/><stop offset="0.4573" stop-color="#e03846"/><stop offset="0.4829" stop-color="#f33c2e"/><stop offset="0.5085" stop-color="#f53c2b"/><stop offset="0.5256" stop-color="#ed3a36"/><stop offset="0.5598" stop-color="#ce355c"/><stop offset="0.6026" stop-color="#9f318c"/><stop offset="0.6282" stop-color="#8d2f9d"/><stop offset="0.7137" stop-color="#652ab9"/><stop offset="0.765" stop-color="#5928bf"/><stop offset="0.9615" stop-color="#4125c4"/><stop offset="0.9957" stop-color="#3f24be"/></linearGradient>
<linearGradient id="b32" gradientUnits="userSpaceOnUse" x1="235" x2="352" y1="0" y2="0"><stop offset="0.0043" stop-color="#3f24be"/><stop offset="0.0641" stop-color="#4425c5"/><stop offset="0.2692" stop-color="#5f29bd"/><stop offset="0.3547" stop-color="#842ea3"/><stop offset="0.3889" stop-color="#993093"/><stop offset="0.4316" stop-color="#c73563"/><stop offset="0.4658" stop-color="#eb3a38"/><stop offset="0.4829" stop-color="#f83d27"/><stop offset="0.5" stop-color="#fc3d23"/><stop offset="0.5171" stop-color="#f73d28"/><stop offset="0.5598" stop-color="#d0355a"/><stop offset="0.6026" stop-color="#9f318c"/><stop offset="0.6282" stop-color="#8c2f9d"/><stop offset="0.7137" stop-color="#642ab9"/><stop offset="0.7735" stop-color="#5728c0"/><stop offset="0.9615" stop-color="#4125c3"/><stop offset="0.9957" stop-color="#3f24be"/></linearGradient>
<linearGradient id="b33" gradientUnits="userSpaceOnUse" x1="235" x2="352" y1="0" y2="0"><stop offset="0.0043" stop-color="#3f24be"/><stop offset="0.0641" stop-color="#4425c5"/><stop offset="0.2692" stop-color="#5e29be"/><stop offset="0.3547" stop-color="#832ea4"/><stop offset="0.3889" stop-color="#993093"/><stop offset="0.4316" stop-color="#c83562"/><stop offset="0.4744" stop-color="#f73c29"/><stop offset="0.4829" stop-color="#fd3e20"/><stop offset="0.5085" stop-color="#ff401e"/><stop offset="0.5171" stop-color="#fc3e22"/><stop offset="0.5598" stop-color="#d23658"/><stop offset="0.6026" stop-color="#9f318c"/><stop offset="0.6197" stop-color="#912f99"/><stop offset="0.6966" stop-color="#6a2bb5"/><stop offset="0.7479" stop-color="#5b29bf"/><stop offset="0.9615" stop-color="#4125c3"/><stop offset="0.9957" stop-color="#3f24be"/></linearGradient>
<linearGradient id="b34" gradientUnits="userSpaceOnUse" x1="235" x2="352" y1="0" y2="0"><stop offset="0.0043" stop-color="#3f24be"/><stop offset="0.0641" stop-color="#4425c5"/><stop offset="0.2692" stop-color="#5d29be"/><stop offset="0.3547" stop-color="#822ea4"/><stop offset="0.3889" stop-color="#983094"/><stop offset="0.4316" stop-color="#c93561"/><stop offset="0.4744" stop-color="#fa3d24"/><stop offset="0.4829" stop-color="#ff411e"/><stop offset="0.5085" stop-color="#fe441d"/><stop offset="0.5171" stop-color="#ff401e"/><stop offset="0.5342" stop-color="#ef3b33"/><stop offset="0.5684" stop-color="#c73564"/><stop offset="0.6111" stop-color="#973095"/><stop offset="0.6795" stop-color="#702bb1"/><stop offset="0.7393" stop-color="#5c29bf"/><stop offset="0.9615" stop-color="#4125c3"/><stop offset="0.9957" stop-color="#3f24be"/></linearGradient>
<linearGradient id="b35" gradientUnits="userSpaceOnUse" x1="235" x2="352" y1="0" y2="0"><stop offset="0.0043" stop-color="#3f24be"/><stop offset="0.0726" stop-color="#4425c4"/><stop offset="0.2778" stop-color="#5f29bd"/><stop offset="0.3632" stop-color="#872ea1"/><stop offset="0.3889" stop-color="#983094"/><stop offset="0.4231" stop-color="#be346c"/><stop offset="0.4573" stop-color="#e93a3b"/><stop offset="0.4744" stop-color="#fd3e20"/><stop offset="0.4915" stop-color="#fe481d"/><stop offset="0.5085" stop-color="#fe471d"/><stop offset="0.5256" stop-color="#fc3e22"/><stop offset="0.5684" stop-color="#c83563"/><stop offset="0.6026" stop-color="#9f318d"/><stop offset="0.6197" stop-color="#902f9a"/><stop offset="0.6966" stop-color="#682ab7"/><stop offset="0.7393" stop-color="#5b29bf"/><stop offset="0.9615" stop-color="#4125c3"/><stop offset="0.9957" stop-color="#3f24be"/></linearGradient>
<linearGradient id="b36" gradientUnits="userSpaceOnUse" x1="235" x2="352" y1="0" y2="0"><stop offset="0.0043" stop-color="#3f24be"/><stop offset="0.0726" stop-color="#4425c5"/><stop offset="0.2778" stop-color="#5e29be"/><stop offset="0.3547" stop-color="#812da5"/><stop offset="0.3889" stop-color="#973095"/><stop offset="0.4231" stop-color="#be346c"/><stop offset="0.4658" stop-color="#f63c2a"/><stop offset="0.4744" stop-color="#fe401e"/><stop offset="0.4915" stop-color="#fd4c1c"/><stop offset="0.5085" stop-color="#fd4b1c"/><stop offset="0.5256" stop-color="#fe3f20"/><stop offset="0.5684" stop-color="#c83562"/><stop offset="0.6026" stop-color="#9e318e"/><stop offset="0.6197" stop-color="#902f9b"/><stop offset="0.688" stop-color="#6b2bb5"/><stop offset="0.7308" stop-color="#5c29be"/><stop offset="0.953" stop-color="#4225c4"/><stop offset="0.9957" stop-color="#3f24be"/></linearGradient>
<linearGradient id="b37" gradientUnits="userSpaceOnUse" x1="235" x2="352" y1="0" y2="0"><stop offset="0.0043" stop-color="#3f24be"/><stop offset="0.0726" stop-color="#4425c5"/><stop offset="0.2778" stop-color="#5e29be"/><stop offset="0.3547" stop-color="#802da6"/><stop offset="0.3889" stop-color="#973095"/><stop offset="0.4231" stop-color="#be346c"/><stop offset="0.4658" stop-color="#f83d27"/><stop offset="0.4744" stop-color="#ff421d"/><stop offset="0.4915" stop-color="#fd501b"/><stop offset="0.5085" stop-color="#fd4f1c"/><stop offset="0.5256" stop-color="#fe401e"/><stop offset="0.5684" stop-color="#c83562"/><stop offset="0.6026" stop-color="#9d318e"/><stop offset="0.6197" stop-color="#8f2f9b"/><stop offset="0.688" stop-color="#6a2ab5"/><stop offset="0.7308" stop-color="#5c29bf"/><stop offset="0.953" stop-color="#4125c4"/><stop offset="0.9957" stop-color="#3f24be"/></linearGradient>
<linearGradient id="b38" gradientUnits="userSpaceOnUse" x1="235" x2="352" y1="0" y2="0"><stop offset="0.0043" stop-color="#3f24be"/><stop offset="0.0726" stop-color="#4425c5"/><stop offset="0.2778" stop-color="#5d29be"/><stop offset="0.3547" stop-color="#7f2da6"/><stop offset="0.3889" stop-color="#963096"/><stop offset="0.4231" stop-color="#be346c"/><stop offset="0.4573" stop-color="#ed3b35"/><stop offset="0.4658" stop-color="#fa3d25"/><stop offset="0.4744" stop-color="#fe441d"/><stop offset="0.4915" stop-color="#fc541b"/><stop offset="0.5" stop-color="#fc561b"/><stop offset="0.5171" stop-color="#fd4b1c"/><stop offset="0.5256" stop-color="#ff421d"/><stop offset="0.5342" stop-color="#f73c28"/><stop offset="0.5769" stop-color="#bc346f"/><stop offset="0.6111" stop-color="#953097"/><stop offset="0.6795" stop-color="#6d2bb3"/><stop offset="0.7222" stop-color="#5d29be"/><stop offset="0.9444" stop-color="#4225c5"/><stop offset="0.9957" stop-color="#3f24be"/></linearGradient>
<linearGradient id="b39" gradientUnits="userSpaceOnUse" x1="235" x2="352" y1="0" y2="0"><stop offset="0.0043" stop-color="#3f24be"/><stop offset="0.0812" stop-color="#4425c4"/><stop offset="0.2778" stop-color="#5d29be"/><stop offset="0.3462" stop-color="#7a2caa"/><stop offset="0.3889" stop-color="#953096"/><stop offset="0.4231" stop-color="#be346d"/><stop offset="0.4573" stop-color="#ee3b34"/><stop offset="0.4658" stop-color="#fb3d23"/><stop offset="0.4829" stop-color="#fd501b"/><stop offset="0.4915" stop-color="#fc581a"/><stop offset="0.5" stop-color="#fb5b1a"/><stop offset="0.5171" stop-color="#fd4e1c"/><stop offset="0.5256" stop-color="#fe431d"/><stop offset="0.5342" stop-color="#f83d27"/><stop offset="0.5684" stop-color="#c83562"/><stop offset="0.6026" stop-color="#9c3190"/><stop offset="0.6282" stop-color="#882ea0"/><stop offset="0.7051" stop-color="#6129bc"/><stop offset="0.8419" stop-color="#4c26c3"/><stop offset="0.953" stop-color="#4125c3"/><stop offset="0.9957" stop-color="#3f24be"/></linearGradient>
<linearGradient id="b40" gradientUnits="userSpaceOnUse" x1="235" x2="352" y1="0" y2="0"><stop offset="0.0043" stop-color="#3f24be"/><stop offset="0.0812" stop-color="#4425c5"/><stop offset="0.2778" stop-color="#5c29be"/><stop offset="0.3376" stop-color="#742cae"/><stop offset="0.3889" stop-color="#953097"/><stop offset="0.4231" stop-color="#be346d"/><stop offset="0.4573" stop-color="#ef3b33"/><stop offset="0.4658" stop-color="#fc3e22"/><stop offset="0.4829" stop-color="#fd521b"/><stop offset="0.4915" stop-color="#fb5c1a"/><stop offset="0.5" stop-color="#fb6119"/><stop offset="0.5171" stop-color="#fd501b"/><stop offset="0.5256" stop-color="#fe451d"/><stop offset="0.5342" stop-color="#fa3d25"/><stop offset="0.5684" stop-color="#c83562"/><stop offset="0.6026" stop-color="#9b3190"/><stop offset="0.6368" stop-color="#822da4"/><stop offset="0.7051" stop-color="#6029bc"/><stop offset="0.859" stop-color="#4926c3"/><stop offset="0.953" stop-color="#4125c3"/><stop offset="0.9957" stop-color="#3f24be"/></linearGradient>
<linearGradient id="b41" gradientUnits="userSpaceOnUse" x1="235" x2="352" y1="0" y2="0"><stop offset="0.0043" stop-color="#3f24be"/><stop offset="0.0812" stop-color="#4425c5"/><stop offset="0.2778" stop-color="#5c29bf"/><stop offset="0.3291" stop-color="#6f2bb2"/><stop offset="0.3889" stop-color="#943097"/><stop offset="0.4145" stop-color="#b1337a"/><stop offset="0.4573" stop-color="#f03b32"/><stop offset="0.4658" stop-color="#fc3e21"/><stop offset="0.4915" stop-color="#fb6119"/><stop offset="0.5" stop-color="#fa6718"/><stop offset="0.5171" stop-color="#fd521b"/><stop offset="0.5256" stop-color="#fe461d"/><stop offset="0.5342" stop-color="#fa3d24"/><stop offset="0.5684" stop-color="#c83562"/><stop offset="0.6026" stop-color="#9b3091"/><stop offset="0.6453" stop-color="#7c2da9"/><stop offset="0.7137" stop-color="#5d29be"/><stop offset="0.9103" stop-color="#4425c4"/><stop offset="0.9872" stop-color="#3f24bf"/><stop offset="0.9957" stop-color="#3f24be"/></linearGradient>
<linearGradient id="b42" gradientUnits="userSpaceOnUse" x1="235" x2="352" y1="0" y2="0"><stop offset="0.0043" stop-color="#3f24be"/><stop offset="0.0897" stop-color="#4425c4"/><stop offset="0.2863" stop-color="#5d29be"/><stop offset="0.3547" stop-color="#7c2da8"/><stop offset="0.3889" stop-color="#933098"/><stop offset="0.4145" stop-color="#b1337a"/><stop offset="0.4487" stop-color="#e33942"/><stop offset="0.4658" stop-color="#fd3f20"/><stop offset="0.4915" stop-color="#fa6618"/><stop offset="0.5" stop-color="#fa6e17"/><stop offset="0.5256" stop-color="#fe471d"/><stop offset="0.5342" stop-color="#fb3e23"/><stop offset="0.5684" stop-color="#c83563"/><stop offset="0.6026" stop-color="#9a3092"/><stop offset="0.6538" stop-color="#762cad"/><stop offset="0.7137" stop-color="#5d29be"/><stop offset="0.9103" stop-color="#4425c4"/><stop offset="0.9957" stop-color="#3f24be"/></linearGradient>
<linearGradient id="b43" gradientUnits="userSpaceOnUse" x1="235" x2="352" y1="0" y2="0"><stop offset="0.0043" stop-color="#3f24be"/><stop offset="0.0897" stop-color="#4425c4"/><stop offset="0.2778" stop-color="#5b29bf"/><stop offset="0.3205" stop-color="#6a2ab6"/><stop offset="0.3803" stop-color="#8c2f9d"/><stop offset="0.3974" stop-color="#9b3091"/><stop offset="0.4316" stop-color="#ca3560"/><stop offset="0.4658" stop-color="#fd3f20"/><stop offset="0.4829" stop-color="#fc591a"/><stop offset="0.4915" stop-color="#fa6a18"/><stop offset="0.5" stop-color="#f97517"/><stop offset="0.5256" stop-color="#fe481d"/><stop offset="0.5342" stop-color="#fb3e23"/><stop offset="0.5684" stop-color="#c73563"/><stop offset="0.6026" stop-color="#993093"/><stop offset="0.6538" stop-color="#762cad"/><stop offset="0.7137" stop-color="#5c29be"/><stop offset="0.9103" stop-color="#4425c5"/><stop offset="0.9957" stop-color="#3f24be"/></linearGradient>
<linearGradient id="b44" gradientUnits="userSpaceOnUse" x1="235" x2="352" y1="0" y2="0"><stop offset="0.0043" stop-color="#3f24be"/><stop offset="0.0897" stop-color="#4425c5"/><stop offset="0.2778" stop-color="#5b29bf"/><stop offset="0.3205" stop-color="#692ab6"/><stop offset="0.3803" stop-color="#8c2f9d"/><stop offset="0.3974" stop-color="#9a3091"/><stop offset="0.4316" stop-color="#ca3560"/><stop offset="0.4658" stop-color="#fd4020"/><stop offset="0.4829" stop-color="#fc5b1a"/><stop offset="0.4915" stop-color="#f97017"/><stop offset="0.5" stop-color="#f87e16"/><stop offset="0.5171" stop-color="#fc571a"/><stop offset="0.5342" stop-color="#fc3e22"/><stop offset="0.5598" stop-color="#d63654"/><stop offset="0.5855" stop-color="#ad327e"/><stop offset="0.6026" stop-color="#993093"/><stop offset="0.6538" stop-color="#752cae"/><stop offset="0.7051" stop-color="#5e29be"/><stop offset="0.8846" stop-color="#4626c4"/><stop offset="0.9615" stop-color="#4025c1"/><stop offset="0.9957" stop-color="#3f24be"/></linearGradient>
<linearGradient id="b45" gradientUnits="userSpaceOnUse" x1="235" x2="352" y1="0" y2="0"><stop offset="0.0043" stop-color="#3f24be"/><stop offset="0.0897" stop-color="#4425c5"/><stop offset="0.2778" stop-color="#5a28bf"/><stop offset="0.3205" stop-color="#682ab7"/><stop offset="0.3803" stop-color="#8b2f9e"/><stop offset="0.3974" stop-color="#9a3092"/><stop offset="0.4316" stop-color="#ca3561"/><stop offset="0.4658" stop-color="#fd401f"/><stop offset="0.4829" stop-color="#fb5c1a"/><stop offset="0.4915" stop-color="#f97517"/><stop offset="0.5" stop-color="#f88615"/><stop offset="0.5171" stop-color="#fc591a"/><stop offset="0.5342" stop-color="#fc3e22"/><stop offset="0.5598" stop-color="#d53654"/><stop offset="0.5855" stop-color="#ad327e"/><stop offset="0.6026" stop-color="#983094"/><stop offset="0.6538" stop-color="#742cae"/><stop offset="0.7051" stop-color="#5d29be"/><stop offset="0.8846" stop-color="#4626c4"/><stop offset="0.9615" stop-color="#4025c1"/><stop offset="0.9957" stop-color="#3f24be"/></linearGradient>
<linearGradient id="b46" gradientUnits="userSpaceOnUse" x1="235" x2="352" y1="0" y2="0"><stop offset="0.0043" stop-color="#3f24be"/><stop offset="0.0983" stop-color="#4425c4"/><stop offset="0.2863" stop-color="#5c29bf"/><stop offset="0.3376" stop-color="#702bb1"/><stop offset="0.3889" stop-color="#912f99"/><stop offset="0.406" stop-color="#a33188"/><stop offset="0.4316" stop-color="#c93561"/><stop offset="0.4658" stop-color="#fe401f"/><stop offset="0.4829" stop-color="#fb5e19"/><stop offset="0.4915" stop-color="#f97a16"/><stop offset="0.5" stop-color="#f79014"/><stop offset="0.5171" stop-color="#fc5a1a"/><stop offset="0.5342" stop-color="#fc3e21"/><stop offset="0.5598" stop-color="#d53655"/><stop offset="0.5855" stop-color="#ac327f"/><stop offset="0.6026" stop-color="#973095"/><stop offset="0.6538" stop-color="#742cae"/><stop offset="0.7051" stop-color="#5d29be"/><stop offset="0.8846" stop-color="#4626c4"/><stop offset="0.9615" stop-color="#4025c1"/><stop offset="0.9957" stop-color="#3f24be"/></linearGradient>
<linearGradient id="b47" gradientUnits="userSpaceOnUse" x1="235" x2="352" y1="0" y2="0"><stop offset="0.0043" stop-color="#3f24be"/><stop offset="0.0983" stop-color="#4425c4"/><stop offset="0.2863" stop-color="#5b29bf"/><stop offset="0.3291" stop-color="#6b2bb5"/><stop offset="0.3889" stop-color="#912f9a"/><stop offset="0.406" stop-color="#a33189"/><stop offset="0.4316" stop-color="#c93562"/><stop offset="0.4658" stop-color="#fe401f"/><stop offset="0.4829" stop-color="#fb6019"/><stop offset="0.4915" stop-color="#f88015"/><stop offset="0.5" stop-color="#f69a13"/><stop offset="0.5085" stop-color="#f97716"/><stop offset="0.5171" stop-color="#fb5b1a"/><stop offset="0.5342" stop-color="#fc3f21"/><stop offset="0.5598" stop-color="#d53655"/><stop offset="0.5855" stop-color="#ac3280"/><stop offset="0.6026" stop-color="#973095"/><stop offset="0.6538" stop-color="#732caf"/><stop offset="0.7051" stop-color="#5d29be"/><stop offset="0.8846" stop-color="#4525c4"/><stop offset="0.9615" stop-color="#4025c1"/><stop offset="0.9957" stop-color="#3f24be"/></linearGradient>
<linearGradient id="b48" gradientUnits="userSpaceOnUse" x1="235" x2="352" y1="0" y2="0"><stop offset="0.0043" stop-color="#3f24be"/><stop offset="0.0983" stop-color="#4425c5"/><stop offset="0.2778" stop-color="#5928bf"/><stop offset="0.3205" stop-color="#662ab8"/><stop offset="0.3803" stop-color="#8a2e9f"/><stop offset="0.3974" stop-color="#983094"/><stop offset="0.4231" stop-color="#ba3371"/><stop offset="0.4573" stop-color="#f13b30"/><stop offset="0.4658" stop-color="#fe401f"/><stop offset="0.4744" stop-color="#fd4e1c"/><stop offset="0.4829" stop-color="#fb6119"/><stop offset="0.4915" stop-color="#f88515"/><stop offset="0.5" stop-color="#f6a313"/><stop offset="0.5085" stop-color="#f97b16"/><stop offset="0.5171" stop-color="#fb5c1a"/><stop offset="0.5256" stop-color="#fd4b1c"/><stop offset="0.5342" stop-color="#fc3f21"/><stop offset="0.5598" stop-color="#d43655"/><stop offset="0.5855" stop-color="#ab3280"/><stop offset="0.6026" stop-color="#963096"/><stop offset="0.6538" stop-color="#732caf"/><stop offset="0.7051" stop-color="#5c29be"/><stop offset="0.8846" stop-color="#4525c4"/><stop offset="0.9615" stop-color="#4025c1"/><stop offset="0.9957" stop-color="#3f24be"/></linearGradient>
<linearGradient id="b49" gradientUnits="userSpaceOnUse" x1="235" x2="352" y1="0" y2="0"><stop offset="0.0043" stop-color="#3f24be"/><stop offset="0.0983" stop-color="#4425c5"/><stop offset="0.2778" stop-color="#5928bf"/><stop offset="0.312" stop-color="#622abb"/><stop offset="0.3803" stop-color="#892e9f"/><stop offset="0.3974" stop-color="#973094"/><stop offset="0.4231" stop-color="#ba3371"/><stop offset="0.4573" stop-color="#f13b30"/><stop offset="0.4658" stop-color="#fe411f"/><stop offset="0.4744" stop-color="#fd4f1c"/><stop offset="0.4829" stop-color="#fb6219"/><stop offset="0.4915" stop-color="#f88a14"/><stop offset="0.5" stop-color="#f5ab14"/><stop offset="0.5085" stop-color="#f87f16"/><stop offset="0.5171" stop-color="#fb5d1a"/><stop offset="0.5256" stop-color="#fd4b1c"/><stop offset="0.5342" stop-color="#fc3f21"/><stop offset="0.5598" stop-color="#d43656"/><stop offset="0.5855" stop-color="#ab3281"/><stop offset="0.6026" stop-color="#963096"/><stop offset="0.6538" stop-color="#722cb0"/><stop offset="0.7051" stop-color="#5c29be"/><stop offset="0.8846" stop-color="#4525c4"/><stop offset="0.9615" stop-color="#4025c1"/><stop offset="0.9957" stop-color="#3f24be"/></linearGradient>
<linearGradient id="b50" gradientUnits="userSpaceOnUse" x1="235" x2="352" y1="0" y2="0"><stop offset="0.0043" stop-color="#3f24be"/><stop offset="0.0983" stop-color="#4425c5"/><stop offset="0.2778" stop-color="#5928bf"/><stop offset="0.3205" stop-color="#662ab9"/><stop offset="0.3803" stop-color="#892e9f"/><stop offset="0.3974" stop-color="#973095"/><stop offset="0.4231" stop-color="#b93372"/><stop offset="0.4573" stop-color="#f13b30"/><stop offset="0.4658" stop-color="#fe411f"/><stop offset="0.4744" stop-color="#fd4f1c"/><stop offset="0.4829" stop-color="#fb6319"/><stop offset="0.4915" stop-color="#f78f14"/><stop offset="0.5" stop-color="#f5b415"/><stop offset="0.5085" stop-color="#f88315"/><stop offset="0.5171" stop-color="#fb5e19"/><stop offset="0.5256" stop-color="#fd4c1c"/><stop offset="0.5342" stop-color="#fd3f21"/><stop offset="0.5598" stop-color="#d43656"/><stop offset="0.5855" stop-color="#aa3281"/><stop offset="0.6026" stop-color="#953096"/><stop offset="0.6538" stop-color="#722bb0"/><stop offset="0.7051" stop-color="#5c29bf"/><stop offset="0.8846" stop-color="#4525c4"/><stop offset="0.9701" stop-color="#4025c0"/><stop offset="0.9957" stop-color="#3f24be"/></linearGradient>
<linearGradient id="b51" gradientUnits="userSpaceOnUse" x1="235" x2="352" y1="0" y2="0"><stop offset="0.0043" stop-color="#3f24be"/><stop offset="0.1068" stop-color="#4425c4"/><stop offset="0.2863" stop-color="#5a28bf"/><stop offset="0.3205" stop-color="#652ab9"/><stop offset="0.3803" stop-color="#882ea0"/><stop offset="0.3974" stop-color="#963095"/><stop offset="0.4231" stop-color="#b93372"/><stop offset="0.4573" stop-color="#f13b30"/><stop offset="0.4658" stop-color="#fe411f"/><stop offset="0.4744" stop-color="#fd4f1c"/><stop offset="0.4829" stop-color="#fb6419"/><stop offset="0.4915" stop-color="#f79314"/><stop offset="0.5" stop-color="#f5bc16"/><stop offset="0.5085" stop-color="#f88615"/><stop offset="0.5171" stop-color="#fb5f19"/><stop offset="0.5256" stop-color="#fd4c1c"/><stop offset="0.5342" stop-color="#fd3f21"/><stop offset="0.5598" stop-color="#d43656"/><stop offset="0.5855" stop-color="#aa3282"/><stop offset="0.6026" stop-color="#953097"/><stop offset="0.6538" stop-color="#712bb0"/><stop offset="0.7051" stop-color="#5c29bf"/><stop offset="0.8846" stop-color="#4525c4"/><stop offset="0.9701" stop-color="#4025c0"/><stop offset="0.9957" stop-color="#3f24be"/></linearGradient>
<linearGradient id="b52" gradientUnits="userSpaceOnUse" x1="235" x2="352" y1="0" y2="0"><stop offset="0.0043" stop-color="#3f24be"/><stop offset="0.1068" stop-color="#4425c4"/><stop offset="0.2863" stop-color="#5a28bf"/><stop offset="0.3205" stop-color="#652ab9"/><stop offset="0.3803" stop-color="#882ea0"/><stop offset="0.3974" stop-color="#963096"/><stop offset="0.4231" stop-color="#b93372"/><stop offset="0.4573" stop-color="#f13b30"/><stop offset="0.4658" stop-color="#fe411f"/><stop offset="0.4744" stop-color="#fd4f1c"/><stop offset="0.4829" stop-color="#fa6519"/><stop offset="0.4915" stop-color="#f79714"/><stop offset="0.5" stop-color="#f4c419"/><stop offset="0.5085" stop-color="#f88a15"/><stop offset="0.5171" stop-color="#fb6019"/><stop offset="0.5256" stop-color="#fd4c1c"/><stop offset="0.5342" stop-color="#fd3f21"/><stop offset="0.5598" stop-color="#d33656"/><stop offset="0.5855" stop-color="#a93282"/><stop offset="0.6026" stop-color="#943097"/><stop offset="0.6538" stop-color="#712bb0"/><stop offset="0.6966" stop-color="#5d29be"/><stop offset="0.8675" stop-color="#4626c4"/><stop offset="0.953" stop-color="#4025c2"/><stop offset="0.9957" stop-color="#3f24be"/></linearGradient>
<linearGradient id="b53" gradientUnits="userSpaceOnUse" x1="235" x2="352" y1="0" y2="0"><stop offset="0.0043" stop-color="#3f24be"/><stop offset="0.1068" stop-color="#4425c4"/><stop offset="0.2863" stop-color="#5a28bf"/><stop offset="0.3205" stop-color="#642ab9"/><stop offset="0.3803" stop-color="#882ea0"/><stop offset="0.3974" stop-color="#963096"/><stop offset="0.4231" stop-color="#b83373"/><stop offset="0.4573" stop-color="#f13b30"/><stop offset="0.4658" stop-color="#fe411f"/><stop offset="0.4744" stop-color="#fd501b"/><stop offset="0.4829" stop-color="#fa6618"/><stop offset="0.4915" stop-color="#f79b14"/><stop offset="0.5" stop-color="#f5cb24"/><stop offset="0.5085" stop-color="#f78c15"/><stop offset="0.5171" stop-color="#fb6019"/><stop offset="0.5256" stop-color="#fd4c1c"/><stop offset="0.5342" stop-color="#fd3f21"/><stop offset="0.5598" stop-color="#d33657"/><stop offset="0.5855" stop-color="#a93282"/><stop offset="0.6026" stop-color="#943097"/><stop offset="0.6538" stop-color="#712bb1"/><stop offset="0.6966" stop-color="#5d29be"/><stop offset="0.8675" stop-color="#4626c4"/><stop offset="0.953" stop-color="#4025c2"/><stop offset="0.9957" stop-color="#3f24be"/></linearGradient>
<linearGradient id="b54" gradientUnits="userSpaceOnUse" x1="235" x2="352" y1="0" y2="0"><stop offset="0.0043" stop-color="#3f24be"/><stop offset="0.1068" stop-color="#4425c4"/><stop offset="0.2863" stop-color="#5a28bf"/><stop offset="0.3291" stop-color="#682ab7"/><stop offset="0.3889" stop-color="#8e2f9c"/><stop offset="0.406" stop-color="#9f318c"/><stop offset="0.4316" stop-color="#c63564"/><stop offset="0.4573" stop-color="#f13b30"/><stop offset="0.4658" stop-color="#fe411f"/><stop offset="0.4744" stop-color="#fd501b"/><stop offset="0.4829" stop-color="#fa6618"/><stop offset="0.4915" stop-color="#f69f15"/><stop offset="0.5" stop-color="#f6d22f"/><stop offset="0.5085" stop-color="#f78f15"/><stop offset="0.5171" stop-color="#fb6119"/><stop offset="0.5256" stop-color="#fd4c1c"/><stop offset="0.5342" stop-color="#fd3f21"/><stop offset="0.5598" stop-color="#d33657"/><stop offset="0.5855" stop-color="#a93283"/><stop offset="0.6026" stop-color="#943098"/><stop offset="0.6538" stop-color="#702bb1"/><stop offset="0.6966" stop-color="#5d29be"/><stop offset="0.859" stop-color="#4726c4"/><stop offset="0.9444" stop-color="#4125c2"/><stop offset="0.9957" stop-color="#3f24be"/></linearGradient>
<linearGradient id="b55" gradientUnits="userSpaceOnUse" x1="235" x2="352" y1="0" y2="0"><stop offset="0.0043" stop-color="#3f24be"/><stop offset="0.1068" stop-color="#4425c4"/><stop offset="0.2863" stop-color="#5a28bf"/><stop offset="0.3291" stop-color="#682ab7"/><stop offset="0.3889" stop-color="#8e2f9c"/><stop offset="0.406" stop-color="#9f318d"/><stop offset="0.4316" stop-color="#c63465"/><stop offset="0.4573" stop-color="#f13b31"/><stop offset="0.4658" stop-color="#fe411f"/><stop offset="0.4744" stop-color="#fd501b"/><stop offset="0.4829" stop-color="#fa6718"/><stop offset="0.4915" stop-color="#f6a215"/><stop offset="0.5" stop-color="#f7d93d"/><stop offset="0.5085" stop-color="#f79115"/><stop offset="0.5171" stop-color="#fb6119"/><stop offset="0.5256" stop-color="#fd4c1c"/><stop offset="0.5342" stop-color="#fd3f21"/><stop offset="0.5598" stop-color="#d33657"/><stop offset="0.5855" stop-color="#a83283"/><stop offset="0.6026" stop-color="#933098"/><stop offset="0.6538" stop-color="#702bb1"/><stop offset="0.6966" stop-color="#5d29be"/><stop offset="0.859" stop-color="#4726c4"/><stop offset="0.9444" stop-color="#4125c2"/><stop offset="0.9957" stop-color="#3f24be"/></linearGradient>
<linearGradient id="b56" gradientUnits="userSpaceOnUse" x1="235" x2="352" y1="0" y2="0"><stop offset="0.0043" stop-color="#3f24be"/><stop offset="0.1068" stop-color="#4425c5"/><stop offset="0.2863" stop-color="#5a28bf"/><stop offset="0.3205" stop-color="#642aba"/><stop offset="0.3803" stop-color="#872ea1"/><stop offset="0.3974" stop-color="#953097"/><stop offset="0.4231" stop-color="#b73374"/><stop offset="0.4573" stop-color="#f13b31"/><stop offset="0.4658" stop-color="#fe411f"/><stop offset="0.4744" stop-color="#fd501b"/><stop offset="0.4829" stop-color="#fa6718"/><stop offset="0.4915" stop-color="#f6a515"/><stop offset="0.5" stop-color="#f8df4c"/><stop offset="0.5085" stop-color="#f79315"/><stop offset="0.5171" stop-color="#fb6119"/><stop offset="0.5256" stop-color="#fd4d1c"/><stop offset="0.5342" stop-color="#fd3f21"/><stop offset="0.5598" stop-color="#d23658"/><stop offset="0.5855" stop-color="#a83284"/><stop offset="0.6026" stop-color="#933098"/><stop offset="0.6538" stop-color="#702bb1"/><stop offset="0.6966" stop-color="#5d29be"/><stop offset="0.859" stop-color="#4726c4"/><stop offset="0.9444" stop-color="#4125c2"/><stop offset="0.9957" stop-color="#3f24be"/></linearGradient>
<linearGradient id="b57" gradientUnits="userSpaceOnUse" x1="235" x2="352" y1="0" y2="0"><stop offset="0.0043" stop-color="#3f24be"/><stop offset="0.1068" stop-color="#4425c5"/><stop offset="0.2863" stop-color="#5a28bf"/><stop offset="0.3205" stop-color="#632aba"/><stop offset="0.3803" stop-color="#872ea1"/><stop offset="0.3974" stop-color="#953097"/><stop offset="0.4231" stop-color="#b73374"/><stop offset="0.4573" stop-color="#f13b31"/><stop offset="0.4658" stop-color="#fe411f"/><stop offset="0.4744" stop-color="#fd501b"/><stop offset="0.4829" stop-color="#fa6818"/><stop offset="0.4915" stop-color="#f6a716"/><stop offset="0.5" stop-color="#f9e45a"/><stop offset="0.5085" stop-color="#f79515"/><stop offset="0.5171" stop-color="#fb6219"/><stop offset="0.5256" stop-color="#fd4d1c"/><stop offset="0.5342" stop-color="#fc3f21"/><stop offset="0.5598" stop-color="#d23658"/><stop offset="0.5855" stop-color="#a83284"/><stop offset="0.6026" stop-color="#933098"/><stop offset="0.6538" stop-color="#6f2bb2"/><stop offset="0.6966" stop-color="#5d29be"/><stop offset="0.859" stop-color="#4726c4"/><stop offset="0.9444" stop-color="#4125c2"/><stop offset="0.9957" stop-color="#3f24be"/></linearGradient>
<linearGradient id="b58" gradientUnits="userSpaceOnUse" x1="235" x2="352" y1="0" y2="0"><stop offset="0.0043" stop-color="#3f24be"/><stop offset="0.1068" stop-color="#4425c5"/><stop offset="0.2863" stop-color="#5928bf"/><stop offset="0.3205" stop-color="#632aba"/><stop offset="0.3803" stop-color="#862ea1"/><stop offset="0.3974" stop-color="#943097"/><stop offset="0.4231" stop-color="#b73374"/><stop offset="0.4573" stop-color="#f13b31"/><stop offset="0.4658" stop-color="#fe411f"/><stop offset="0.4744" stop-color="#fd501b"/><stop offset="0.4829" stop-color="#fa6818"/><stop offset="0.4915" stop-color="#f6a918"/><stop offset="0.5" stop-color="#fae76a"/><stop offset="0.5085" stop-color="#f79715"/><stop offset="0.5171" stop-color="#fb6219"/><stop offset="0.5256" stop-color="#fd4d1c"/><stop offset="0.5342" stop-color="#fc3f21"/><stop offset="0.5598" stop-color="#d23658"/><stop offset="0.5855" stop-color="#a73284"/><stop offset="0.6026" stop-color="#933098"/><stop offset="0.6538" stop-color="#6f2bb2"/><stop offset="0.6966" stop-color="#5c29be"/><stop offset="0.859" stop-color="#4726c4"/><stop offset="0.9444" stop-color="#4125c2"/><stop offset="0.9957" stop-color="#3f24be"/></linearGradient>
<linearGradient id="b59" gradientUnits="userSpaceOnUse" x1="235" x2="352" y1="0" y2="0"><stop offset="0.0043" stop-color="#3f24be"/><stop offset="0.1068" stop-color="#4425c5"/><stop offset="0.2863" stop-color="#5928bf"/><stop offset="0.3205" stop-color="#632aba"/><stop offset="0.3803" stop-color="#862ea1"/><stop offset="0.3974" stop-color="#943097"/><stop offset="0.4231" stop-color="#b63375"/><stop offset="0.4573" stop-color="#f13b31"/><stop offset="0.4658" stop-color="#fe411f"/><stop offset="0.4744" stop-color="#fd501b"/><stop offset="0.4829" stop-color="#fa6818"/><stop offset="0.4915" stop-color="#f6ab1b"/><stop offset="0.5" stop-color="#fbeb78"/><stop offset="0.5085" stop-color="#f79815"/><stop offset="0.5171" stop-color="#fb6219"/><stop offset="0.5256" stop-color="#fd4d1c"/><stop offset="0.5342" stop-color="#fc3f21"/><stop offset="0.5598" stop-color="#d23658"/><stop offset="0.5855" stop-color="#a73284"/><stop offset="0.6026" stop-color="#933098"/><stop offset="0.6538" stop-color="#6f2bb2"/><stop offset="0.6966" stop-color="#5c29be"/><stop offset="0.859" stop-color="#4626c4"/><stop offset="0.9444" stop-color="#4125c2"/><stop offset="0.9957" stop-color="#3f24be"/></linearGradient>
<linearGradient id="b60" gradientUnits="userSpaceOnUse" x1="235" x2="352" y1="0" y2="0"><stop offset="0.0043" stop-color="#3f24be"/><stop offset="0.1068" stop-color="#4425c5"/><stop offset="0.2863" stop-color="#5928bf"/><stop offset="0.3205" stop-color="#632abb"/><stop offset="0.3803" stop-color="#862ea1"/><stop offset="0.3974" stop-color="#943097"/><stop offset="0.4231" stop-color="#b63375"/><stop offset="0.4573" stop-color="#f13b31"/><stop offset="0.4658" stop-color="#fe411f"/><stop offset="0.4744" stop-color="#fd501b"/><stop offset="0.4829" stop-color="#fa6918"/><stop offset="0.4915" stop-color="#f6ad1d"/><stop offset="0.5" stop-color="#fbee85"/><stop offset="0.5085" stop-color="#f79915"/><stop offset="0.5171" stop-color="#fb6219"/><stop offset="0.5256" stop-color="#fd4d1c"/><stop offset="0.5342" stop-color="#fc3f21"/><stop offset="0.5598" stop-color="#d23658"/><stop offset="0.5855" stop-color="#a73285"/><stop offset="0.6026" stop-color="#923099"/><stop offset="0.6538" stop-color="#6f2bb2"/><stop offset="0.6966" stop-color="#5c29be"/><stop offset="0.859" stop-color="#4626c4"/><stop offset="0.9444" stop-color="#4125c2"/><stop offset="0.9957" stop-color="#3f24be"/></linearGradient>
<linearGradient id="b61" gradientUnits="userSpaceOnUse" x1="235" x2="352" y1="0" y2="0"><stop offset="0.0043" stop-color="#3f24be"/><stop offset="0.1068" stop-color="#4425c5"/><stop offset="0.2863" stop-color="#5928bf"/><stop offset="0.3205" stop-color="#632abb"/><stop offset="0.3803" stop-color="#862ea2"/><stop offset="0.3974" stop-color="#943098"/><stop offset="0.4231" stop-color="#b63375"/><stop offset="0.4573" stop-color="#f03b31"/><stop offset="0.4658" stop-color="#fe411f"/><stop offset="0.4744" stop-color="#fd501b"/><stop offset="0.4829" stop-color="#fa6918"/><stop offset="0.4915" stop-color="#f6af1f"/><stop offset="0.5" stop-color="#fcf193"/><stop offset="0.5085" stop-color="#f79a15"/><stop offset="0.5171" stop-color="#fb6219"/><stop offset="0.5256" stop-color="#fd4d1c"/><stop offset="0.5342" stop-color="#fc3f21"/><stop offset="0.5598" stop-color="#d23658"/><stop offset="0.5855" stop-color="#a73285"/><stop offset="0.6026" stop-color="#923099"/><stop offset="0.6538" stop-color="#6f2bb2"/><stop offset="0.6966" stop-color="#5c29be"/><stop offset="0.859" stop-color="#4626c4"/><stop offset="0.9444" stop-color="#4125c2"/><stop offset="0.9957" stop-color="#3f24be"/></linearGradient>
<linearGradient id="b62" gradientUnits="userSpaceOnUse" x1="235" x2="352" y1="0" y2="0"><stop offset="0.0043" stop-color="#3f24be"/><stop offset="0.1068" stop-color="#4425c5"/><stop offset="0.2863" stop-color="#5928bf"/><stop offset="0.3205" stop-color="#632abb"/><stop offset="0.3803" stop-color="#862ea2"/><stop offset="0.3974" stop-color="#943098"/><stop offset="0.4231" stop-color="#b63375"/><stop offset="0.4573" stop-color="#f03b31"/><stop offset="0.4658" stop-color="#fe411f"/><stop offset="0.4744" stop-color="#fd501b"/><stop offset="0.4829" stop-color="#fa6918"/><stop offset="0.4915" stop-color="#f7b021"/><stop offset="0.5" stop-color="#fcf39f"/><stop offset="0.5085" stop-color="#f79b15"/><stop offset="0.5171" stop-color="#fb6219"/><stop offset="0.5256" stop-color="#fd4d1c"/><stop offset="0.5342" stop-color="#fc3f21"/><stop offset="0.5598" stop-color="#d13659"/><stop offset="0.5855" stop-color="#a73285"/><stop offset="0.6026" stop-color="#923099"/><stop offset="0.6538" stop-color="#6f2bb2"/><stop offset="0.6966" stop-color="#5c29be"/><stop offset="0.859" stop-color="#4626c4"/><stop offset="0.9444" stop-color="#4125c2"/><stop offset="0.9957" stop-color="#3f24be"/></linearGradient>
<linearGradient id="b63" gradientUnits="userSpaceOnUse" x1="235" x2="352" y1="0" y2="0"><stop offset="0.0043" stop-color="#3f24be"/><stop offset="0.1068" stop-color="#4425c5"/><stop offset="0.2863" stop-color="#5928bf"/><stop offset="0.3205" stop-color="#622abb"/><stop offset="0.3803" stop-color="#862ea2"/><stop offset="0.3974" stop-color="#943098"/><stop offset="0.4231" stop-color="#b63375"/><stop offset="0.4573" stop-color="#f03b31"/><stop offset="0.4658" stop-color="#fe411f"/><stop offset="0.4744" stop-color="#fd501b"/><stop offset="0.4829" stop-color="#fa6918"/><stop offset="0.4915" stop-color="#f7b122"/><stop offset="0.5" stop-color="#fdf4ac"/><stop offset="0.5085" stop-color="#f69c15"/><stop offset="0.5171" stop-color="#fb6319"/><stop offset="0.5256" stop-color="#fd4d1c"/><stop offset="0.5342" stop-color="#fc3f21"/><stop offset="0.5598" stop-color="#d13659"/><stop offset="0.5855" stop-color="#a63285"/><stop offset="0.6026" stop-color="#923099"/><stop offset="0.6538" stop-color="#6f2bb2"/><stop offset="0.6966" stop-color="#5c29be"/><stop offset="0.859" stop-color="#4626c4"/><stop offset="0.953" stop-color="#4025c1"/><stop offset="0.9957" stop-color="#3f24be"/></linearGradient>
<linearGradient id="b64" gradientUnits="userSpaceOnUse" x1="235" x2="352" y1="0" y2="0"><stop offset="0.0043" stop-color="#3f24be"/><stop offset="0.1154" stop-color="#4425c4"/><stop offset="0.2863" stop-color="#5928bf"/><stop offset="0.3205" stop-color="#622abb"/><stop offset="0.3803" stop-color="#862ea2"/><stop offset="0.3974" stop-color="#933098"/><stop offset="0.4231" stop-color="#b63375"/><stop offset="0.4573" stop-color="#f03b31"/><stop offset="0.4658" stop-color="#fe411f"/><stop offset="0.4744" stop-color="#fd501b"/><stop offset="0.4829" stop-color="#fa6918"/><stop offset="0.4915" stop-color="#f7b224"/><stop offset="0.5" stop-color="#fdf6b8"/><stop offset="0.5085" stop-color="#f69d15"/><stop offset="0.5171" stop-color="#fb6319"/><stop offset="0.5256" stop-color="#fd4d1c"/><stop offset="0.5342" stop-color="#fc3f21"/><stop offset="0.5598" stop-color="#d13659"/><stop offset="0.5855" stop-color="#a63285"/><stop offset="0.6026" stop-color="#922f99"/><stop offset="0.6538" stop-color="#6f2bb2"/><stop offset="0.6966" stop-color="#5c29be"/><stop offset="0.859" stop-color="#4626c4"/><stop offset="0.953" stop-color="#4025c1"/><stop offset="0.9957" stop-color="#3f24be"/></linearGradient>
<linearGradient id="b65" gradientUnits="userSpaceOnUse" x1="235" x2="352" y1="0" y2="0"><stop offset="0.0043" stop-color="#3f24be"/><stop offset="0.1154" stop-color="#4425c4"/><stop offset="0.2863" stop-color="#5928bf"/><stop offset="0.3205" stop-color="#622abb"/><stop offset="0.3803" stop-color="#852ea2"/><stop offset="0.3974" stop-color="#933098"/><stop offset="0.4231" stop-color="#b63375"/><stop offset="0.4573" stop-color="#f03b31"/><stop offset="0.4658" stop-color="#fe411f"/><stop offset="0.4744" stop-color="#fd501b"/><stop offset="0.4829" stop-color="#fa6918"/><stop offset="0.4915" stop-color="#f7b325"/><stop offset="0.5" stop-color="#fdf7c2"/><stop offset="0.5085" stop-color="#f69d15"/><stop offset="0.5171" stop-color="#fb6319"/><stop offset="0.5256" stop-color="#fd4d1c"/><stop offset="0.5342" stop-color="#fc3f21"/><stop offset="0.5598" stop-color="#d13659"/><stop offset="0.5855" stop-color="#a63285"/><stop offset="0.6026" stop-color="#922f99"/><stop offset="0.6538" stop-color="#6e2bb2"/><stop offset="0.6966" stop-color="#5c29be"/><stop offset="0.859" stop-color="#4626c4"/><stop offset="0.953" stop-color="#4025c1"/><stop offset="0.9957" stop-color="#3f24be"/></linearGradient>
<linearGradient id="b66" gradientUnits="userSpaceOnUse" x1="235" x2="352" y1="0" y2="0"><stop offset="0.0043" stop-color="#3f24be"/><stop offset="0.1154" stop-color="#4425c4"/><stop offset="0.2863" stop-color="#5928bf"/><stop offset="0.3205" stop-color="#622abb"/><stop offset="0.3803" stop-color="#852ea2"/><stop offset="0.3974" stop-color="#933098"/><stop offset="0.4231" stop-color="#b53376"/><stop offset="0.4573" stop-color="#f03b31"/><stop offset="0.4658" stop-color="#fe411f"/><stop offset="0.4744" stop-color="#fd501b"/><stop offset="0.4829" stop-color="#fa6918"/><stop offset="0.4915" stop-color="#f7b426"/><stop offset="0.5" stop-color="#fdf8c8"/><stop offset="0.5085" stop-color="#f69e15"/><stop offset="0.5171" stop-color="#fb6319"/><stop offset="0.5256" stop-color="#fd4d1c"/><stop offset="0.5342" stop-color="#fc3f21"/><stop offset="0.5598" stop-color="#d13659"/><stop offset="0.5855" stop-color="#a63285"/><stop offset="0.6026" stop-color="#922f99"/><stop offset="0.6538" stop-color="#6e2bb2"/><stop offset="0.6966" stop-color="#5c29be"/><stop offset="0.859" stop-color="#4626c4"/><stop offset="0.953" stop-color="#4025c1"/><stop offset="0.9957" stop-color="#3f24be"/></linearGradient>
<linearGradient id="b67" gradientUnits="userSpaceOnUse" x1="235" x2="352" y1="0" y2="0"><stop offset="0.0043" stop-color="#3f24be"/><stop offset="0.1154" stop-color="#4425c4"/><stop offset="0.2863" stop-color="#5928bf"/><stop offset="0.3205" stop-color="#622abb"/><stop offset="0.3803" stop-color="#852ea2"/><stop offset="0.3974" stop-color="#933098"/><stop offset="0.4231" stop-color="#b53376"/><stop offset="0.4573" stop-color="#f03b32"/><stop offset="0.4658" stop-color="#fe411f"/><stop offset="0.4744" stop-color="#fd501b"/><stop offset="0.4829" stop-color="#fa6a18"/><stop offset="0.4915" stop-color="#f7b527"/><stop offset="0.5" stop-color="#fef9cd"/><stop offset="0.5085" stop-color="#f69e15"/><stop offset="0.5171" stop-color="#fb6319"/><stop offset="0.5256" stop-color="#fd4d1c"/><stop offset="0.5342" stop-color="#fc3f21"/><stop offset="0.5598" stop-color="#d13659"/><stop offset="0.5855" stop-color="#a63285"/><stop offset="0.6026" stop-color="#922f99"/><stop offset="0.6538" stop-color="#6e2bb2"/><stop offset="0.6966" stop-color="#5c29bf"/><stop offset="0.859" stop-color="#4626c4"/><stop offset="0.953" stop-color="#4025c1"/><stop offset="0.9957" stop-color="#3f24be"/></linearGradient>
<linearGradient id="b68" gradientUnits="userSpaceOnUse" x1="235" x2="352" y1="0" y2="0"><stop offset="0.0043" stop-color="#3f24be"/><stop offset="0.1154" stop-color="#4425c4"/><stop offset="0.2863" stop-color="#5928bf"/><stop offset="0.3205" stop-color="#622abb"/><stop offset="0.3803" stop-color="#852ea2"/><stop offset="0.3974" stop-color="#933098"/><stop offset="0.4231" stop-color="#b53376"/><stop offset="0.4573" stop-color="#f03b32"/><stop offset="0.4658" stop-color="#fe411f"/><stop offset="0.4744" stop-color="#fd501b"/><stop offset="0.4829" stop-color="#fa6a18"/><stop offset="0.4915" stop-color="#f7b528"/><stop offset="0.5" stop-color="#fef9d1"/><stop offset="0.5085" stop-color="#f69f15"/><stop offset="0.5171" stop-color="#fb6319"/><stop offset="0.5256" stop-color="#fd4d1c"/><stop offset="0.5342" stop-color="#fc3f21"/><stop offset="0.5598" stop-color="#d13659"/><stop offset="0.5855" stop-color="#a63186"/><stop offset="0.6026" stop-color="#922f99"/><stop offset="0.6538" stop-color="#6e2bb2"/><stop offset="0.6966" stop-color="#5c29bf"/><stop offset="0.859" stop-color="#4626c4"/><stop offset="0.953" stop-color="#4025c1"/><stop offset="0.9957" stop-color="#3f24be"/></linearGradient>
<linearGradient id="b69" gradientUnits="userSpaceOnUse" x1="235" x2="352" y1="0" y2="0"><stop offset="0.0043" stop-color="#3f24be"/><stop offset="0.1154" stop-color="#4425c4"/><stop offset="0.2863" stop-color="#5928bf"/><stop offset="0.3205" stop-color="#622abb"/><stop offset="0.3803" stop-color="#852ea2"/><stop offset="0.3974" stop-color="#933098"/><stop offset="0.4231" stop-color="#b53376"/><stop offset="0.4573" stop-color="#f03b32"/><stop offset="0.4658" stop-color="#fe411f"/><stop offset="0.4744" stop-color="#fd501b"/><stop offset="0.4829" stop-color="#fa6a18"/><stop offset="0.4915" stop-color="#f7b628"/><stop offset="0.5" stop-color="#fefad5"/><stop offset="0.5085" stop-color="#f69f15"/><stop offset="0.5171" stop-color="#fb6319"/><stop offset="0.5256" stop-color="#fd4d1c"/><stop offset="0.5342" stop-color="#fc3f21"/><stop offset="0.5598" stop-color="#d13659"/><stop offset="0.5855" stop-color="#a63186"/><stop offset="0.6026" stop-color="#922f99"/><stop offset="0.6538" stop-color="#6e2bb2"/><stop offset="0.6966" stop-color="#5c29bf"/><stop offset="0.859" stop-color="#4626c4"/><stop offset="0.953" stop-color="#4025c1"/><stop offset="0.9957" stop-color="#3f24be"/></linearGradient>
<linearGradient id="b70" gradientUnits="userSpaceOnUse" x1="235" x2="352" y1="0" y2="0"><stop offset="0.0043" stop-color="#3f24be"/><stop offset="0.1154" stop-color="#4425c4"/><stop offset="0.2863" stop-color="#5928bf"/><stop offset="0.3205" stop-color="#622abb"/><stop offset="0.3803" stop-color="#852ea2"/><stop offset="0.3974" stop-color="#933098"/><stop offset="0.4145" stop-color="#a83283"/><stop offset="0.4402" stop-color="#d43656"/><stop offset="0.4658" stop-color="#fd411f"/><stop offset="0.4744" stop-color="#fd501b"/><stop offset="0.4829" stop-color="#fa6a18"/><stop offset="0.4915" stop-color="#f7b629"/><stop offset="0.5" stop-color="#fefada"/><stop offset="0.5085" stop-color="#f6a015"/><stop offset="0.5171" stop-color="#fb6319"/><stop offset="0.5256" stop-color="#fd4d1c"/><stop offset="0.5342" stop-color="#fc3f21"/><stop offset="0.5598" stop-color="#d13659"/><stop offset="0.5855" stop-color="#a63186"/><stop offset="0.6026" stop-color="#922f99"/><stop offset="0.6538" stop-color="#6e2bb2"/><stop offset="0.6966" stop-color="#5c29bf"/><stop offset="0.859" stop-color="#4626c4"/><stop offset="0.953" stop-color="#4025c1"/><stop offset="0.9957" stop-color="#3f24be"/></linearGradient>
<linearGradient id="b71" gradientUnits="userSpaceOnUse" x1="235" x2="352" y1="0" y2="0"><stop offset="0.0043" stop-color="#3f24be"/><stop offset="0.1154" stop-color="#4425c4"/><stop offset="0.2863" stop-color="#5928bf"/><stop offset="0.3205" stop-color="#6229bb"/><stop offset="0.3803" stop-color="#852ea2"/><stop offset="0.3974" stop-color="#933098"/><stop offset="0.4145" stop-color="#a83283"/><stop offset="0.4402" stop-color="#d43656"/><stop offset="0.4658" stop-color="#fd411f"/><stop offset="0.4744" stop-color="#fd501b"/><stop offset="0.4829" stop-color="#fa6a18"/><stop offset="0.4915" stop-color="#f7b82b"/><stop offset="0.5" stop-color="#fefbdd"/><stop offset="0.5085" stop-color="#f6a015"/><stop offset="0.5171" stop-color="#fb6319"/><stop offset="0.5256" stop-color="#fd4d1c"/><stop offset="0.5342" stop-color="#fc3f21"/><stop offset="0.5598" stop-color="#d13659"/><stop offset="0.5855" stop-color="#a63186"/><stop offset="0.6026" stop-color="#912f99"/><stop offset="0.6538" stop-color="#6e2bb3"/><stop offset="0.6966" stop-color="#5c29bf"/><stop offset="0.859" stop-color="#4626c4"/><stop offset="0.953" stop-color="#4025c1"/><stop offset="0.9957" stop-color="#3f24be"/></linearGradient>
<linearGradient id="b72" gradientUnits="userSpaceOnUse" x1="235" x2="352" y1="0" y2="0"><stop offset="0.0043" stop-color="#3f24be"/><stop offset="0.1154" stop-color="#4425c4"/><stop offset="0.2863" stop-color="#5928bf"/><stop offset="0.3205" stop-color="#6229bb"/><stop offset="0.3803" stop-color="#852ea2"/><stop offset="0.3974" stop-color="#933098"/><stop offset="0.4145" stop-color="#a83283"/><stop offset="0.4402" stop-color="#d43656"/><stop offset="0.4658" stop-color="#fd411f"/><stop offset="0.4744" stop-color="#fd501b"/><stop offset="0.4829" stop-color="#fa6a18"/><stop offset="0.4915" stop-color="#f7b82c"/><stop offset="0.5" stop-color="#fefbe0"/><stop offset="0.5085" stop-color="#f6a115"/><stop offset="0.5171" stop-color="#fb6319"/><stop offset="0.5256" stop-color="#fd4d1c"/><stop offset="0.5342" stop-color="#fc3f21"/><stop offset="0.5598" stop-color="#d1365a"/><stop offset="0.5855" stop-color="#a63186"/><stop offset="0.6026" stop-color="#912f99"/><stop offset="0.6538" stop-color="#6e2bb3"/><stop offset="0.6966" stop-color="#5c29bf"/><stop offset="0.859" stop-color="#4626c4"/><stop offset="0.953" stop-color="#4025c1"/><stop offset="0.9957" stop-color="#3f24be"/></linearGradient>
<clipPath id="clipa"><rect x="43.40" y="19.60" width="116.40" height="135.00"/></clipPath>
<clipPath id="clipb"><rect x="235.20" y="19.60" width="116.50" height="134.90"/></clipPath>
<linearGradient id="cba" x1="0" x2="0" y1="0" y2="1"><stop offset="0.0000" stop-color="#fff"/><stop offset="0.0250" stop-color="#fefbdc"/><stop offset="0.0500" stop-color="#fdf8b8"/><stop offset="0.0750" stop-color="#fcf398"/><stop offset="0.1000" stop-color="#fbed79"/><stop offset="0.1250" stop-color="#fae65c"/><stop offset="0.1500" stop-color="#f8dc45"/><stop offset="0.1750" stop-color="#f6d22e"/><stop offset="0.2000" stop-color="#f4c818"/><stop offset="0.2250" stop-color="#f4be16"/><stop offset="0.2500" stop-color="#f5b415"/><stop offset="0.2750" stop-color="#f6aa14"/><stop offset="0.3000" stop-color="#f6a012"/><stop offset="0.3250" stop-color="#f79413"/><stop offset="0.3500" stop-color="#f88914"/><stop offset="0.3750" stop-color="#f87d16"/><stop offset="0.4000" stop-color="#f97117"/><stop offset="0.4250" stop-color="#fa6618"/><stop offset="0.4500" stop-color="#fc5a1a"/><stop offset="0.4750" stop-color="#fd4e1c"/><stop offset="0.5000" stop-color="#fe431d"/><stop offset="0.5250" stop-color="#f53c2c"/><stop offset="0.5500" stop-color="#e43942"/><stop offset="0.5750" stop-color="#d13659"/><stop offset="0.6000" stop-color="#b63375"/><stop offset="0.6250" stop-color="#9b3090"/><stop offset="0.6500" stop-color="#862ea1"/><stop offset="0.6750" stop-color="#722cb0"/><stop offset="0.7000" stop-color="#5e29be"/><stop offset="0.7250" stop-color="#5428c0"/><stop offset="0.7500" stop-color="#4a26c3"/><stop offset="0.7750" stop-color="#4025c2"/><stop offset="0.8000" stop-color="#3923b1"/><stop offset="0.8250" stop-color="#3222a1"/><stop offset="0.8500" stop-color="#2a2090"/><stop offset="0.8750" stop-color="#221b79"/><stop offset="0.9000" stop-color="#1a1661"/><stop offset="0.9250" stop-color="#121047"/><stop offset="0.9500" stop-color="#0a0a2c"/><stop offset="0.9750" stop-color="#050516"/><stop offset="1.0000" stop-color="#000"/></linearGradient>
<linearGradient id="cbb" x1="0" x2="0" y1="0" y2="1"><stop offset="0.0000" stop-color="#fff"/><stop offset="0.0250" stop-color="#fefbdc"/><stop offset="0.0500" stop-color="#fdf8b8"/><stop offset="0.0750" stop-color="#fcf398"/><stop offset="0.1000" stop-color="#fbed79"/><stop offset="0.1250" stop-color="#fae65c"/><stop offset="0.1500" stop-color="#f8dc45"/><stop offset="0.1750" stop-color="#f6d22e"/><stop offset="0.2000" stop-color="#f4c818"/><stop offset="0.2250" stop-color="#f4be16"/><stop offset="0.2500" stop-color="#f5b415"/><stop offset="0.2750" stop-color="#f6aa14"/><stop offset="0.3000" stop-color="#f6a012"/><stop offset="0.3250" stop-color="#f79413"/><stop offset="0.3500" stop-color="#f88914"/><stop offset="0.3750" stop-color="#f87d16"/><stop offset="0.4000" stop-color="#f97117"/><stop offset="0.4250" stop-color="#fa6618"/><stop offset="0.4500" stop-color="#fc5a1a"/><stop offset="0.4750" stop-color="#fd4e1c"/><stop offset="0.5000" stop-color="#fe431d"/><stop offset="0.5250" stop-color="#f53c2c"/><stop offset="0.5500" stop-color="#e43942"/><stop offset="0.5750" stop-color="#d13659"/><stop offset="0.6000" stop-color="#b63375"/><stop offset="0.6250" stop-color="#9b3090"/><stop offset="0.6500" stop-color="#862ea1"/><stop offset="0.6750" stop-color="#722cb0"/><stop offset="0.7000" stop-color="#5e29be"/><stop offset="0.7250" stop-color="#5428c0"/><stop offset="0.7500" stop-color="#4a26c3"/><stop offset="0.7750" stop-color="#4025c2"/><stop offset="0.8000" stop-color="#3923b1"/><stop offset="0.8250" stop-color="#3222a1"/><stop offset="0.8500" stop-color="#2a2090"/><stop offset="0.8750" stop-color="#221b79"/><stop offset="0.9000" stop-color="#1a1661"/><stop offset="0.9250" stop-color="#121047"/><stop offset="0.9500" stop-color="#0a0a2c"/><stop offset="0.9750" stop-color="#050516"/><stop offset="1.0000" stop-color="#000"/></linearGradient>
</defs>
<rect width="375" height="367" fill="#fff"/>
<g clip-path="url(#clipa)">
<rect x="43" y="19" width="118" height="13" fill="url(#a0)"/>
<rect x="43" y="32" width="118" height="3" fill="url(#a1)"/>
<rect x="43" y="35" width="118" height="2" fill="url(#a2)"/>
<rect x="43" y="37" width="118" height="2" fill="url(#a3)"/>
<rect x="43" y="39" width="118" height="1" fill="url(#a4)"/>
<rect x="43" y="40" width="118" height="1" fill="url(#a5)"/>
<rect x="43" y="41" width="118" height="1" fill="url(#a6)"/>
<rect x="43" y="42" width="118" height="1" fill="url(#a7)"/>
<rect x="43" y="43" width="118" height="1" fill="url(#a8)"/>
<rect x="43" y="44" width="118" height="1" fill="url(#a9)"/>
<rect x="43" y="45" width="118" height="1" fill="url(#a10)"/>
<rect x="43" y="46" width="118" height="1" fill="url(#a11)"/>
<rect x="43" y="47" width="118" height="1" fill="url(#a12)"/>
<rect x="43" y="48" width="118" height="1" fill="url(#a13)"/>
<rect x="43" y="49" width="118" height="1" fill="url(#a14)"/>
<rect x="43" y="50" width="118" height="1" fill="url(#a15)"/>
<rect x="43" y="51" width="118" height="1" fill="url(#a16)"/>
<rect x="43" y="52" width="118" height="1" fill="url(#a17)"/>
<rect x="43" y="53" width="118" height="1" fill="url(#a18)"/>
<rect x="43" y="54" width="118" height="1" fill="url(#a19)"/>
<rect x="43" y="55" width="118" height="1" fill="url(#a20)"/>
<rect x="43" y="56" width="118" height="1" fill="url(#a21)"/>
<rect x="43" y="57" width="118" height="1" fill="url(#a22)"/>
<rect x="43" y="58" width="118" height="1" fill="url(#a23)"/>
<rect x="43" y="59" width="118" height="1" fill="url(#a24)"/>
<rect x="43" y="60" width="118" height="1" fill="url(#a25)"/>
<rect x="43" y="61" width="118" height="1" fill="url(#a26)"/>
<rect x="43" y="62" width="118" height="1" fill="url(#a27)"/>
<rect x="43" y="63" width="118" height="1" fill="url(#a28)"/>
<rect x="43" y="64" width="118" height="1" fill="url(#a29)"/>
<rect x="43" y="65" width="118" height="1" fill="url(#a30)"/>
<rect x="43" y="66" width="118" height="1" fill="url(#a31)"/>
<rect x="43" y="67" width="118" height="1" fill="url(#a32)"/>
<rect x="43" y="68" width="118" height="1" fill="url(#a33)"/>
<rect x="43" y="69" width="118" height="1" fill="url(#a34)"/>
<rect x="43" y="70" width="118" height="1" fill="url(#a35)"/>
<rect x="43" y="71" width="118" height="1" fill="url(#a36)"/>
<rect x="43" y="72" width="118" height="1" fill="url(#a37)"/>
<rect x="43" y="73" width="118" height="1" fill="url(#a38)"/>
<rect x="43" y="74" width="118" height="1" fill="url(#a39)"/>
<rect x="43" y="75" width="118" height="1" fill="url(#a40)"/>
<rect x="43" y="76" width="118" height="1" fill="url(#a41)"/>
<rect x="43" y="77" width="118" height="1" fill="url(#a42)"/>
<rect x="43" y="78" width="118" height="1" fill="url(#a43)"/>
<rect x="43" y="79" width="118" height="2" fill="url(#a44)"/>
<rect x="43" y="81" width="118" height="2" fill="url(#a45)"/>
<rect x="43" y="83" width="118" height="4" fill="url(#a46)"/>
<rect x="43" y="87" width="118" height="68" fill="#000"/>
</g>
<g clip-path="url(#clipb)">
<rect x="235" y="19" width="117" height="2" fill="#000"/>
<rect x="235" y="21" width="117" height="1" fill="#010106"/>
<rect x="235" y="22" width="117" height="1" fill="#03030c"/>
<rect x="235" y="23" width="117" height="1" fill="#040413"/>
<rect x="235" y="24" width="117" height="1" fill="#060619"/>
<rect x="235" y="25" width="117" height="1" fill="#07071f"/>
<rect x="235" y="26" width="117" height="1" fill="#080825"/>
<rect x="235" y="27" width="117" height="1" fill="#0a0a2b"/>
<rect x="235" y="28" width="117" height="1" fill="#0c0b33"/>
<rect x="235" y="29" width="117" height="1" fill="#0e0d3a"/>
<rect x="235" y="30" width="117" height="1" fill="#100f41"/>
<rect x="235" y="31" width="117" height="1" fill="#121149"/>
<rect x="235" y="32" width="117" height="1" fill="#151250"/>
<rect x="235" y="33" width="117" height="1" fill="#171458"/>
<rect x="235" y="34" width="117" height="1" fill="#19165f"/>
<rect x="235" y="35" width="117" height="1" fill="#1b1767"/>
<rect x="235" y="36" width="117" height="1" fill="#1d196d"/>
<rect x="235" y="37" width="117" height="1" fill="#1f1a73"/>
<rect x="235" y="38" width="117" height="1" fill="#221b7a"/>
<rect x="235" y="39" width="117" height="1" fill="#241d80"/>
<rect x="235" y="40" width="117" height="1" fill="#261e86"/>
<rect x="235" y="41" width="117" height="1" fill="#281f8b"/>
<rect x="235" y="42" width="117" height="1" fill="#2a2091"/>
<rect x="235" y="43" width="117" height="1" fill="#2c2095"/>
<rect x="235" y="44" width="117" height="1" fill="#2e2199"/>
<rect x="235" y="45" width="117" height="1" fill="#30219d"/>
<rect x="235" y="46" width="117" height="1" fill="#3222a1"/>
<rect x="235" y="47" width="117" height="1" fill="#3322a4"/>
<rect x="235" y="48" width="117" height="1" fill="#3522a7"/>
<rect x="235" y="49" width="117" height="1" fill="#3622aa"/>
<rect x="235" y="50" width="117" height="1" fill="#3723ad"/>
<rect x="235" y="51" width="117" height="1" fill="#3823b0"/>
<rect x="235" y="52" width="117" height="1" fill="#3923b2"/>
<rect x="235" y="53" width="117" height="1" fill="url(#b0)"/>
<rect x="235" y="54" width="117" height="1" fill="url(#b1)"/>
<rect x="235" y="55" width="117" height="1" fill="url(#b2)"/>
<rect x="235" y="56" width="117" height="1" fill="url(#b3)"/>
<rect x="235" y="57" width="117" height="1" fill="url(#b4)"/>
<rect x="235" y="58" width="117" height="2" fill="url(#b5)"/>
<rect x="235" y="60" width="117" height="1" fill="url(#b6)"/>
<rect x="235" y="61" width="117" height="1" fill="url(#b7)"/>
<rect x="235" y="62" width="117" height="1" fill="url(#b8)"/>
<rect x="235" y="63" width="117" height="1" fill="url(#b9)"/>
<rect x="235" y="64" width="117" height="1" fill="url(#b10)"/>
<rect x="235" y="65" width="117" height="1" fill="url(#b11)"/>
<rect x="235" y="66" width="117" height="1" fill="url(#b12)"/>
<rect x="235" y="67" width="117" height="1" fill="url(#b13)"/>
<rect x="235" y="68" width="117" height="1" fill="url(#b14)"/>
<rect x="235" y="69" width="117" height="1" fill="url(#b15)"/>
<rect x="235" y="70" width="117" height="1" fill="url(#b16)"/>
<rect x="235" y="71" width="117" height="1" fill="url(#b17)"/>
<rect x="235" y="72" width="117" height="1" fill="url(#b18)"/>
<rect x="235" y="73" width="117" height="1" fill="url(#b19)"/>
<rect x="235" y="74" width="117" height="1" fill="url(#b20)"/>
<rect x="235" y="75" width="117" height="1" fill="url(#b21)"/>
<rect x="235" y="76" width="117" height="1" fill="url(#b22)"/>
<rect x="235" y="77" width="117" height="1" fill="url(#b23)"/>
<rect x="235" y="78" width="117" height="1" fill="url(#b24)"/>
<rect x="235" y="79" width="117" height="1" fill="url(#b25)"/>
<rect x="235" y="80" width="117" height="1" fill="url(#b26)"/>
<rect x="235" y="81" width="117" height="1" fill="url(#b27)"/>
<rect x="235" y="82" width="117" height="1" fill="url(#b28)"/>
<rect x="235" y="83" width="117" height="1" fill="url(#b29)"/>
<rect x="235" y="84" width="117" height="1" fill="url(#b30)"/>
<rect x="235" y="85" width="117" height="1" fill="url(#b31)"/>
<rect x="235" y="86" width="117" height="1" fill="url(#b32)"/>
<rect x="235" y="87" width="117" height="1" fill="url(#b33)"/>
<rect x="235" y="88" width="117" height="1" fill="url(#b34)"/>
<rect x="235" y="89" width="117" height="1" fill="url(#b35)"/>
<rect x="235" y="90" width="117" height="1" fill="url(#b36)"/>
<rect x="235" y="91" width="117" height="1" fill="url(#b37)"/>
<rect x="235" y="92" width="117" height="1" fill="url(#b38)"/>
<rect x="235" y="93" width="117" height="1" fill="url(#b39)"/>
<rect x="235" y="94" width="117" height="1" fill="url(#b40)"/>
<rect x="235" y="95" width="117" height="1" fill="url(#b41)"/>
<rect x="235" y="96" width="117" height="1" fill="url(#b42)"/>
<rect x="235" y="97" width="117" height="1" fill="url(#b43)"/>
<rect x="235" y="98" width="117" height="1" fill="url(#b44)"/>
<rect x="235" y="99" width="117" height="1" fill="url(#b45)"/>
<rect x="235" y="100" width="117" height="1" fill="url(#b46)"/>
<rect x="235" y="101" width="117" height="1" fill="url(#b47)"/>
<rect x="235" y="102" width="117" height="1" fill="url(#b48)"/>
<rect x="235" y="103" width="117" height="1" fill="url(#b49)"/>
<rect x="235" y="104" width="117" height="1" fill="url(#b50)"/>
<rect x="235" y="105" width="117" height="1" fill="url(#b51)"/>
<rect x="235" y="106" width="117" height="1" fill="url(#b52)"/>
<rect x="235" y="107" width="117" height="1" fill="url(#b53)"/>
<rect x="235" y="108" width="117" height="1" fill="url(#b54)"/>
<rect x="235" y="109" width="117" height="1" fill="url(#b55)"/>
<rect x="235" y="110" width="117" height="1" fill="url(#b56)"/>
<rect x="235" y="111" width="117" height="1" fill="url(#b57)"/>
<rect x="235" y="112" width="117" height="1" fill="url(#b58)"/>
<rect x="235" y="113" width="117" height="1" fill="url(#b59)"/>
<rect x="235" y="114" width="117" height="1" fill="url(#b60)"/>
<rect x="235" y="115" width="117" height="1" fill="url(#b61)"/>
<rect x="235" y="116" width="117" height="1" fill="url(#b62)"/>
<rect x="235" y="117" width="117" height="1" fill="url(#b63)"/>
<rect x="235" y="118" width="117" height="1" fill="url(#b64)"/>
<rect x="235" y="119" width="117" height="1" fill="url(#b65)"/>
<rect x="235" y="120" width="117" height="1" fill="url(#b66)"/>
<rect x="235" y="121" width="117" height="1" fill="url(#b67)"/>
<rect x="235" y="122" width="117" height="1" fill="url(#b68)"/>
<rect x="235" y="123" width="117" height="1" fill="url(#b69)"/>
<rect x="235" y="124" width="117" height="3" fill="url(#b70)"/>
<rect x="235" y="127" width="117" height="6" fill="url(#b71)"/>
<rect x="235" y="133" width="117" height="22" fill="url(#b72)"/>
</g>
<rect x="43.40" y="19.60" width="116.40" height="135.00" fill="none" stroke="#111" stroke-width="0.8"/>
<rect x="235.20" y="19.60" width="116.50" height="134.90" fill="none" stroke="#111" stroke-width="0.8"/>
<rect x="163.00" y="19.20" width="7.60" height="135.40" fill="url(#cba)"/>
<rect x="163.00" y="19.20" width="7.60" height="135.40" fill="none" stroke="#999" stroke-opacity="0.55" stroke-width="0.5"/>
<rect x="354.70" y="19.40" width="8.00" height="135.30" fill="url(#cbb)"/>
<rect x="354.70" y="19.40" width="8.00" height="135.30" fill="none" stroke="#999" stroke-opacity="0.55" stroke-width="0.5"/>
<rect x="43.75" y="204.80" width="131.05" height="131.65" fill="none" stroke="#000" stroke-width="1.0"/>
<rect x="231.25" y="204.75" width="131.35" height="131.65" fill="none" stroke="#000" stroke-width="1.0"/>
<polyline fill="none" stroke="#1440e6" stroke-width="1.65" stroke-linejoin="round" stroke-linecap="round" points="48.95,210.80 49.07,210.84 49.19,210.88 49.31,210.93 49.43,210.97 49.55,211.01 49.67,211.05 49.79,211.09 49.91,211.14 50.03,211.18 50.15,211.22 50.27,211.26 50.39,211.31 50.51,211.35 50.63,211.39 50.75,211.44 50.88,211.48 51.00,211.52 51.12,211.57 51.24,211.61 51.36,211.65 51.48,211.70 51.60,211.74 51.72,211.78 51.84,211.83 51.96,211.87 52.08,211.91 52.20,211.96 52.32,212.00 52.44,212.05 52.56,212.09 52.68,212.14 52.80,212.18 52.92,212.22 53.04,212.27 53.16,212.31 53.28,212.36 53.40,212.40 53.52,212.45 53.64,212.49 53.76,212.54 53.88,212.59 54.00,212.63 54.12,212.68 54.24,212.72 54.36,212.77 54.48,212.81 54.61,212.86 54.73,212.91 54.85,212.95 54.97,213.00 55.09,213.05 55.21,213.09 55.33,213.14 55.45,213.19 55.57,213.23 55.69,213.28 55.81,213.33 55.93,213.37 56.05,213.42 56.17,213.47 56.29,213.52 56.41,213.56 56.53,213.61 56.65,213.66 56.77,213.71 56.89,213.75 57.01,213.80 57.13,213.85 57.25,213.90 57.37,213.95 57.49,214.00 57.61,214.04 57.73,214.09 57.85,214.14 57.97,214.19 58.09,214.24 58.21,214.29 58.33,214.34 58.46,214.39 58.58,214.44 58.70,214.49 58.82,214.54 58.94,214.59 59.06,214.64 59.18,214.69 59.30,214.74 59.42,214.79 59.54,214.84 59.66,214.89 59.78,214.94 59.90,214.99 60.02,215.04 60.14,215.09 60.26,215.15 60.38,215.20 60.50,215.25 60.62,215.30 60.74,215.35 60.86,215.40 60.98,215.46 61.10,215.51 61.22,215.56 61.34,215.61 61.46,215.67 61.58,215.72 61.70,215.77 61.82,215.83 61.94,215.88 62.06,215.93 62.19,215.99 62.31,216.04 62.43,216.09 62.55,216.15 62.67,216.20 62.79,216.25 62.91,216.31 63.03,216.36 63.15,216.42 63.27,216.47 63.39,216.53 63.51,216.58 63.63,216.64 63.75,216.69 63.87,216.75 63.99,216.80 64.11,216.86 64.23,216.92 64.35,216.97 64.47,217.03 64.59,217.08 64.71,217.14 64.83,217.20 64.95,217.25 65.07,217.31 65.19,217.37 65.31,217.43 65.43,217.48 65.55,217.54 65.67,217.60 65.79,217.66 65.92,217.71 66.04,217.77 66.16,217.83 66.28,217.89 66.40,217.95 66.52,218.01 66.64,218.07 66.76,218.13 66.88,218.18 67.00,218.24 67.12,218.30 67.24,218.36 67.36,218.42 67.48,218.48 67.60,218.54 67.72,218.61 67.84,218.67 67.96,218.73 68.08,218.79 68.20,218.85 68.32,218.91 68.44,218.97 68.56,219.03 68.68,219.10 68.80,219.16 68.92,219.22 69.04,219.28 69.16,219.35 69.28,219.41 69.40,219.47 69.52,219.54 69.65,219.60 69.77,219.66 69.89,219.73 70.01,219.79 70.13,219.86 70.25,219.92 70.37,219.99 70.49,220.05 70.61,220.12 70.73,220.18 70.85,220.25 70.97,220.31 71.09,220.38 71.21,220.44 71.33,220.51 71.45,220.58 71.57,220.64 71.69,220.71 71.81,220.78 71.93,220.85 72.05,220.91 72.17,220.98 72.29,221.05 72.41,221.12 72.53,221.19 72.65,221.25 72.77,221.32 72.89,221.39 73.01,221.46 73.13,221.53 73.25,221.60 73.38,221.67 73.50,221.74 73.62,221.81 73.74,221.88 73.86,221.96 73.98,222.03 74.10,222.10 74.22,222.17 74.34,222.24 74.46,222.32 74.58,222.39 74.70,222.46 74.82,222.53 74.94,222.61 75.06,222.68 75.18,222.75 75.30,222.83 75.42,222.90 75.54,222.98 75.66,223.05 75.78,223.13 75.90,223.20 76.02,223.28 76.14,223.36 76.26,223.43 76.38,223.51 76.50,223.59 76.62,223.66 76.74,223.74 76.86,223.82 76.98,223.90 77.10,223.97 77.23,224.05 77.35,224.13 77.47,224.21 77.59,224.29 77.71,224.37 77.83,224.45 77.95,224.53 78.07,224.61 78.19,224.69 78.31,224.77 78.43,224.86 78.55,224.94 78.67,225.02 78.79,225.10 78.91,225.19 79.03,225.27 79.15,225.35 79.27,225.44 79.39,225.52 79.51,225.61 79.63,225.69 79.75,225.78 79.87,225.86 79.99,225.95 80.11,226.04 80.23,226.12 80.35,226.21 80.47,226.30 80.59,226.39 80.71,226.47 80.83,226.56 80.96,226.65 81.08,226.74 81.20,226.83 81.32,226.92 81.44,227.01 81.56,227.10 81.68,227.19 81.80,227.29 81.92,227.38 82.04,227.47 82.16,227.56 82.28,227.66 82.40,227.75 82.52,227.85 82.64,227.94 82.76,228.04 82.88,228.13 83.00,228.23 83.12,228.32 83.24,228.42 83.36,228.52 83.48,228.62 83.60,228.71 83.72,228.81 83.84,228.91 83.96,229.01 84.08,229.11 84.20,229.21 84.32,229.31 84.44,229.42 84.56,229.52 84.69,229.62 84.81,229.72 84.93,229.83 85.05,229.93 85.17,230.04 85.29,230.14 85.41,230.25 85.53,230.35 85.65,230.46 85.77,230.57 85.89,230.68 86.01,230.79 86.13,230.89 86.25,231.00 86.37,231.11 86.49,231.23 86.61,231.34 86.73,231.45 86.85,231.56 86.97,231.68 87.09,231.79 87.21,231.90 87.33,232.02 87.45,232.13 87.57,232.25 87.69,232.37 87.81,232.49 87.93,232.60 88.05,232.72 88.17,232.84 88.29,232.96 88.42,233.09 88.54,233.21 88.66,233.33 88.78,233.45 88.90,233.58 89.02,233.70 89.14,233.83 89.26,233.95 89.38,234.08 89.50,234.21 89.62,234.34 89.74,234.47 89.86,234.60 89.98,234.73 90.10,234.86 90.22,234.99 90.34,235.13 90.46,235.26 90.58,235.40 90.70,235.53 90.82,235.67 90.94,235.81 91.06,235.95 91.18,236.09 91.30,236.23 91.42,236.37 91.54,236.51 91.66,236.66 91.78,236.80 91.90,236.95 92.02,237.09 92.15,237.24 92.27,237.39 92.39,237.54 92.51,237.69 92.63,237.84 92.75,238.00 92.87,238.15 92.99,238.31 93.11,238.46 93.23,238.62 93.35,238.78 93.47,238.94 93.59,239.10 93.71,239.27 93.83,239.43 93.95,239.59 94.07,239.76 94.19,239.93 94.31,240.10 94.43,240.27 94.55,240.44 94.67,240.62 94.79,240.79 94.91,240.97 95.03,241.15 95.15,241.33 95.27,241.51 95.39,241.69 95.51,241.87 95.63,242.06 95.75,242.25 95.87,242.44 96.00,242.63 96.12,242.82 96.24,243.02 96.36,243.21 96.48,243.41 96.60,243.61 96.72,243.82 96.84,244.02 96.96,244.23 97.08,244.43 97.20,244.64 97.32,244.86 97.44,245.07 97.56,245.29 97.68,245.51 97.80,245.73 97.92,245.95 98.04,246.18 98.16,246.41 98.28,246.64 98.40,246.88 98.52,247.11 98.64,247.35 98.76,247.60 98.88,247.84 99.00,248.09 99.12,248.34 99.24,248.59 99.36,248.85 99.48,249.11 99.60,249.38 99.73,249.64 99.85,249.91 99.97,250.19 100.09,250.47 100.21,250.75 100.33,251.03 100.45,251.32 100.57,251.62 100.69,251.91 100.81,252.22 100.93,252.52 101.05,252.83 101.17,253.15 101.29,253.47 101.41,253.80 101.53,254.13 101.65,254.46 101.77,254.81 101.89,255.15 102.01,255.51 102.13,255.87 102.25,256.23 102.37,256.60 102.49,256.98 102.61,257.37 102.73,257.76 102.85,258.16 102.97,258.57 103.09,258.99 103.21,259.41 103.33,259.85 103.46,260.29 103.58,260.75 103.70,261.21 103.82,261.68 103.94,262.17 104.06,262.66 104.18,263.17 104.30,263.69 104.42,264.23 104.54,264.78 104.66,265.34 104.78,265.92 104.90,266.51 105.02,267.13 105.14,267.76 105.26,268.41 105.38,269.08 105.50,269.78 105.62,270.50 105.74,271.24 105.86,272.01 105.98,272.82 106.10,273.65 106.22,274.52 106.34,275.43 106.46,276.37 106.58,277.37 106.70,278.41 106.82,279.51 106.94,280.66 107.06,281.89 107.19,283.19 107.31,284.58 107.43,286.07 107.55,287.68 107.67,289.42 107.79,291.31 107.91,293.40 108.03,295.72 108.15,298.33 108.27,301.31 108.39,304.79 108.51,308.98 108.63,314.22 108.75,321.23 108.87,330.60 108.99,330.60 109.11,330.60 109.23,330.60 109.35,321.23 109.47,314.22 109.59,308.98 109.71,304.79 109.83,301.31 109.95,298.33 110.07,295.72 110.19,293.40 110.31,291.31 110.43,289.42 110.55,287.68 110.67,286.07 110.79,284.58 110.91,283.19 111.04,281.89 111.16,280.66 111.28,279.51 111.40,278.41 111.52,277.37 111.64,276.37 111.76,275.43 111.88,274.52 112.00,273.65 112.12,272.82 112.24,272.01 112.36,271.24 112.48,270.50 112.60,269.78 112.72,269.08 112.84,268.41 112.96,267.76 113.08,267.13 113.20,266.51 113.32,265.92 113.44,265.34 113.56,264.78 113.68,264.23 113.80,263.69 113.92,263.17 114.04,262.66 114.16,262.17 114.28,261.68 114.40,261.21 114.52,260.75 114.64,260.29 114.77,259.85 114.89,259.41 115.01,258.99 115.13,258.57 115.25,258.16 115.37,257.76 115.49,257.37 115.61,256.98 115.73,256.60 115.85,256.23 115.97,255.87 116.09,255.51 116.21,255.15 116.33,254.81 116.45,254.46 116.57,254.13 116.69,253.80 116.81,253.47 116.93,253.15 117.05,252.83 117.17,252.52 117.29,252.22 117.41,251.91 117.53,251.62 117.65,251.32 117.77,251.03 117.89,250.75 118.01,250.47 118.13,250.19 118.25,249.91 118.37,249.64 118.50,249.38 118.62,249.11 118.74,248.85 118.86,248.59 118.98,248.34 119.10,248.09 119.22,247.84 119.34,247.60 119.46,247.35 119.58,247.11 119.70,246.88 119.82,246.64 119.94,246.41 120.06,246.18 120.18,245.95 120.30,245.73 120.42,245.51 120.54,245.29 120.66,245.07 120.78,244.86 120.90,244.64 121.02,244.43 121.14,244.23 121.26,244.02 121.38,243.82 121.50,243.61 121.62,243.41 121.74,243.21 121.86,243.02 121.98,242.82 122.10,242.63 122.23,242.44 122.35,242.25 122.47,242.06 122.59,241.87 122.71,241.69 122.83,241.51 122.95,241.33 123.07,241.15 123.19,240.97 123.31,240.79 123.43,240.62 123.55,240.44 123.67,240.27 123.79,240.10 123.91,239.93 124.03,239.76 124.15,239.59 124.27,239.43 124.39,239.27 124.51,239.10 124.63,238.94 124.75,238.78 124.87,238.62 124.99,238.46 125.11,238.31 125.23,238.15 125.35,238.00 125.47,237.84 125.59,237.69 125.71,237.54 125.83,237.39 125.95,237.24 126.08,237.09 126.20,236.95 126.32,236.80 126.44,236.66 126.56,236.51 126.68,236.37 126.80,236.23 126.92,236.09 127.04,235.95 127.16,235.81 127.28,235.67 127.40,235.53 127.52,235.40 127.64,235.26 127.76,235.13 127.88,234.99 128.00,234.86 128.12,234.73 128.24,234.60 128.36,234.47 128.48,234.34 128.60,234.21 128.72,234.08 128.84,233.95 128.96,233.83 129.08,233.70 129.20,233.58 129.32,233.45 129.44,233.33 129.56,233.21 129.68,233.09 129.81,232.96 129.93,232.84 130.05,232.72 130.17,232.60 130.29,232.49 130.41,232.37 130.53,232.25 130.65,232.13 130.77,232.02 130.89,231.90 131.01,231.79 131.13,231.68 131.25,231.56 131.37,231.45 131.49,231.34 131.61,231.23 131.73,231.11 131.85,231.00 131.97,230.89 132.09,230.79 132.21,230.68 132.33,230.57 132.45,230.46 132.57,230.35 132.69,230.25 132.81,230.14 132.93,230.04 133.05,229.93 133.17,229.83 133.29,229.72 133.41,229.62 133.54,229.52 133.66,229.42 133.78,229.31 133.90,229.21 134.02,229.11 134.14,229.01 134.26,228.91 134.38,228.81 134.50,228.71 134.62,228.62 134.74,228.52 134.86,228.42 134.98,228.32 135.10,228.23 135.22,228.13 135.34,228.04 135.46,227.94 135.58,227.85 135.70,227.75 135.82,227.66 135.94,227.56 136.06,227.47 136.18,227.38 136.30,227.29 136.42,227.19 136.54,227.10 136.66,227.01 136.78,226.92 136.90,226.83 137.02,226.74 137.14,226.65 137.27,226.56 137.39,226.47 137.51,226.39 137.63,226.30 137.75,226.21 137.87,226.12 137.99,226.04 138.11,225.95 138.23,225.86 138.35,225.78 138.47,225.69 138.59,225.61 138.71,225.52 138.83,225.44 138.95,225.35 139.07,225.27 139.19,225.19 139.31,225.10 139.43,225.02 139.55,224.94 139.67,224.86 139.79,224.77 139.91,224.69 140.03,224.61 140.15,224.53 140.27,224.45 140.39,224.37 140.51,224.29 140.63,224.21 140.75,224.13 140.87,224.05 141.00,223.97 141.12,223.90 141.24,223.82 141.36,223.74 141.48,223.66 141.60,223.59 141.72,223.51 141.84,223.43 141.96,223.36 142.08,223.28 142.20,223.20 142.32,223.13 142.44,223.05 142.56,222.98 142.68,222.90 142.80,222.83 142.92,222.75 143.04,222.68 143.16,222.61 143.28,222.53 143.40,222.46 143.52,222.39 143.64,222.32 143.76,222.24 143.88,222.17 144.00,222.10 144.12,222.03 144.24,221.96 144.36,221.88 144.48,221.81 144.60,221.74 144.72,221.67 144.85,221.60 144.97,221.53 145.09,221.46 145.21,221.39 145.33,221.32 145.45,221.25 145.57,221.19 145.69,221.12 145.81,221.05 145.93,220.98 146.05,220.91 146.17,220.85 146.29,220.78 146.41,220.71 146.53,220.64 146.65,220.58 146.77,220.51 146.89,220.44 147.01,220.38 147.13,220.31 147.25,220.25 147.37,220.18 147.49,220.12 147.61,220.05 147.73,219.99 147.85,219.92 147.97,219.86 148.09,219.79 148.21,219.73 148.33,219.66 148.45,219.60 148.58,219.54 148.70,219.47 148.82,219.41 148.94,219.35 149.06,219.28 149.18,219.22 149.30,219.16 149.42,219.10 149.54,219.03 149.66,218.97 149.78,218.91 149.90,218.85 150.02,218.79 150.14,218.73 150.26,218.67 150.38,218.61 150.50,218.54 150.62,218.48 150.74,218.42 150.86,218.36 150.98,218.30 151.10,218.24 151.22,218.18 151.34,218.13 151.46,218.07 151.58,218.01 151.70,217.95 151.82,217.89 151.94,217.83 152.06,217.77 152.18,217.71 152.31,217.66 152.43,217.60 152.55,217.54 152.67,217.48 152.79,217.43 152.91,217.37 153.03,217.31 153.15,217.25 153.27,217.20 153.39,217.14 153.51,217.08 153.63,217.03 153.75,216.97 153.87,216.92 153.99,216.86 154.11,216.80 154.23,216.75 154.35,216.69 154.47,216.64 154.59,216.58 154.71,216.53 154.83,216.47 154.95,216.42 155.07,216.36 155.19,216.31 155.31,216.25 155.43,216.20 155.55,216.15 155.67,216.09 155.79,216.04 155.91,215.99 156.04,215.93 156.16,215.88 156.28,215.83 156.40,215.77 156.52,215.72 156.64,215.67 156.76,215.61 156.88,215.56 157.00,215.51 157.12,215.46 157.24,215.40 157.36,215.35 157.48,215.30 157.60,215.25 157.72,215.20 157.84,215.15 157.96,215.09 158.08,215.04 158.20,214.99 158.32,214.94 158.44,214.89 158.56,214.84 158.68,214.79 158.80,214.74 158.92,214.69 159.04,214.64 159.16,214.59 159.28,214.54 159.40,214.49 159.52,214.44 159.64,214.39 159.77,214.34 159.89,214.29 160.01,214.24 160.13,214.19 160.25,214.14 160.37,214.09 160.49,214.04 160.61,214.00 160.73,213.95 160.85,213.90 160.97,213.85 161.09,213.80 161.21,213.75 161.33,213.71 161.45,213.66 161.57,213.61 161.69,213.56 161.81,213.52 161.93,213.47 162.05,213.42 162.17,213.37 162.29,213.33 162.41,213.28 162.53,213.23 162.65,213.19 162.77,213.14 162.89,213.09 163.01,213.05 163.13,213.00 163.25,212.95 163.37,212.91 163.49,212.86 163.62,212.81 163.74,212.77 163.86,212.72 163.98,212.68 164.10,212.63 164.22,212.59 164.34,212.54 164.46,212.49 164.58,212.45 164.70,212.40 164.82,212.36 164.94,212.31 165.06,212.27 165.18,212.22 165.30,212.18 165.42,212.14 165.54,212.09 165.66,212.05 165.78,212.00 165.90,211.96 166.02,211.91 166.14,211.87 166.26,211.83 166.38,211.78 166.50,211.74 166.62,211.70 166.74,211.65 166.86,211.61 166.98,211.57 167.10,211.52 167.22,211.48 167.35,211.44 167.47,211.39 167.59,211.35 167.71,211.31 167.83,211.26 167.95,211.22 168.07,211.18 168.19,211.14 168.31,211.09 168.43,211.05 168.55,211.01 168.67,210.97 168.79,210.93 168.91,210.88 169.03,210.84 169.15,210.80"/>
<polyline fill="none" stroke="#ff2a08" stroke-width="1.65" stroke-linejoin="round" stroke-linecap="round" points="236.60,330.60 236.70,330.57 236.80,330.55 236.90,330.52 237.00,330.50 237.10,330.47 237.20,330.44 237.30,330.42 237.40,330.39 237.50,330.36 237.60,330.34 237.70,330.31 237.81,330.29 237.91,330.26 238.01,330.23 238.11,330.21 238.21,330.18 238.31,330.15 238.41,330.12 238.51,330.10 238.61,330.07 238.71,330.04 238.81,330.02 238.91,329.99 239.01,329.96 239.11,329.93 239.21,329.91 239.31,329.88 239.41,329.85 239.51,329.82 239.61,329.80 239.71,329.77 239.81,329.74 239.91,329.71 240.02,329.68 240.12,329.66 240.22,329.63 240.32,329.60 240.42,329.57 240.52,329.54 240.62,329.52 240.72,329.49 240.82,329.46 240.92,329.43 241.02,329.40 241.12,329.37 241.22,329.34 241.32,329.31 241.42,329.29 241.52,329.26 241.62,329.23 241.72,329.20 241.82,329.17 241.92,329.14 242.02,329.11 242.12,329.08 242.23,329.05 242.33,329.02 242.43,328.99 242.53,328.96 242.63,328.93 242.73,328.90 242.83,328.87 242.93,328.84 243.03,328.81 243.13,328.78 243.23,328.75 243.33,328.72 243.43,328.69 243.53,328.66 243.63,328.63 243.73,328.60 243.83,328.57 243.93,328.54 244.03,328.51 244.13,328.48 244.23,328.45 244.33,328.42 244.44,328.39 244.54,328.35 244.64,328.32 244.74,328.29 244.84,328.26 244.94,328.23 245.04,328.20 245.14,328.17 245.24,328.13 245.34,328.10 245.44,328.07 245.54,328.04 245.64,328.01 245.74,327.97 245.84,327.94 245.94,327.91 246.04,327.88 246.14,327.85 246.24,327.81 246.34,327.78 246.44,327.75 246.54,327.71 246.65,327.68 246.75,327.65 246.85,327.62 246.95,327.58 247.05,327.55 247.15,327.52 247.25,327.48 247.35,327.45 247.45,327.42 247.55,327.38 247.65,327.35 247.75,327.32 247.85,327.28 247.95,327.25 248.05,327.21 248.15,327.18 248.25,327.15 248.35,327.11 248.45,327.08 248.55,327.04 248.65,327.01 248.75,326.97 248.85,326.94 248.96,326.91 249.06,326.87 249.16,326.84 249.26,326.80 249.36,326.77 249.46,326.73 249.56,326.70 249.66,326.66 249.76,326.62 249.86,326.59 249.96,326.55 250.06,326.52 250.16,326.48 250.26,326.45 250.36,326.41 250.46,326.37 250.56,326.34 250.66,326.30 250.76,326.27 250.86,326.23 250.96,326.19 251.06,326.16 251.17,326.12 251.27,326.08 251.37,326.05 251.47,326.01 251.57,325.97 251.67,325.93 251.77,325.90 251.87,325.86 251.97,325.82 252.07,325.79 252.17,325.75 252.27,325.71 252.37,325.67 252.47,325.63 252.57,325.60 252.67,325.56 252.77,325.52 252.87,325.48 252.97,325.44 253.07,325.40 253.17,325.37 253.27,325.33 253.38,325.29 253.48,325.25 253.58,325.21 253.68,325.17 253.78,325.13 253.88,325.09 253.98,325.05 254.08,325.01 254.18,324.97 254.28,324.93 254.38,324.89 254.48,324.85 254.58,324.81 254.68,324.77 254.78,324.73 254.88,324.69 254.98,324.65 255.08,324.61 255.18,324.57 255.28,324.53 255.38,324.49 255.48,324.45 255.59,324.41 255.69,324.37 255.79,324.32 255.89,324.28 255.99,324.24 256.09,324.20 256.19,324.16 256.29,324.12 256.39,324.07 256.49,324.03 256.59,323.99 256.69,323.95 256.79,323.90 256.89,323.86 256.99,323.82 257.09,323.78 257.19,323.73 257.29,323.69 257.39,323.65 257.49,323.60 257.59,323.56 257.69,323.52 257.80,323.47 257.90,323.43 258.00,323.38 258.10,323.34 258.20,323.30 258.30,323.25 258.40,323.21 258.50,323.16 258.60,323.12 258.70,323.07 258.80,323.03 258.90,322.98 259.00,322.94 259.10,322.89 259.20,322.85 259.30,322.80 259.40,322.75 259.50,322.71 259.60,322.66 259.70,322.62 259.80,322.57 259.90,322.52 260.00,322.48 260.11,322.43 260.21,322.38 260.31,322.33 260.41,322.29 260.51,322.24 260.61,322.19 260.71,322.14 260.81,322.10 260.91,322.05 261.01,322.00 261.11,321.95 261.21,321.90 261.31,321.86 261.41,321.81 261.51,321.76 261.61,321.71 261.71,321.66 261.81,321.61 261.91,321.56 262.01,321.51 262.11,321.46 262.21,321.41 262.32,321.36 262.42,321.31 262.52,321.26 262.62,321.21 262.72,321.16 262.82,321.11 262.92,321.06 263.02,321.01 263.12,320.96 263.22,320.90 263.32,320.85 263.42,320.80 263.52,320.75 263.62,320.70 263.72,320.65 263.82,320.59 263.92,320.54 264.02,320.49 264.12,320.43 264.22,320.38 264.32,320.33 264.42,320.27 264.53,320.22 264.63,320.17 264.73,320.11 264.83,320.06 264.93,320.00 265.03,319.95 265.13,319.89 265.23,319.84 265.33,319.78 265.43,319.73 265.53,319.67 265.63,319.62 265.73,319.56 265.83,319.51 265.93,319.45 266.03,319.39 266.13,319.34 266.23,319.28 266.33,319.22 266.43,319.17 266.53,319.11 266.63,319.05 266.74,318.99 266.84,318.93 266.94,318.88 267.04,318.82 267.14,318.76 267.24,318.70 267.34,318.64 267.44,318.58 267.54,318.52 267.64,318.46 267.74,318.40 267.84,318.34 267.94,318.28 268.04,318.22 268.14,318.16 268.24,318.10 268.34,318.04 268.44,317.98 268.54,317.92 268.64,317.85 268.74,317.79 268.84,317.73 268.95,317.67 269.05,317.60 269.15,317.54 269.25,317.48 269.35,317.41 269.45,317.35 269.55,317.29 269.65,317.22 269.75,317.16 269.85,317.09 269.95,317.03 270.05,316.96 270.15,316.90 270.25,316.83 270.35,316.77 270.45,316.70 270.55,316.63 270.65,316.57 270.75,316.50 270.85,316.43 270.95,316.36 271.05,316.30 271.16,316.23 271.26,316.16 271.36,316.09 271.46,316.02 271.56,315.95 271.66,315.88 271.76,315.81 271.86,315.74 271.96,315.67 272.06,315.60 272.16,315.53 272.26,315.46 272.36,315.39 272.46,315.32 272.56,315.24 272.66,315.17 272.76,315.10 272.86,315.02 272.96,314.95 273.06,314.88 273.16,314.80 273.26,314.73 273.36,314.65 273.47,314.58 273.57,314.50 273.67,314.43 273.77,314.35 273.87,314.28 273.97,314.20 274.07,314.12 274.17,314.04 274.27,313.97 274.37,313.89 274.47,313.81 274.57,313.73 274.67,313.65 274.77,313.57 274.87,313.49 274.97,313.41 275.07,313.33 275.17,313.25 275.27,313.17 275.37,313.09 275.47,313.00 275.57,312.92 275.68,312.84 275.78,312.76 275.88,312.67 275.98,312.59 276.08,312.50 276.18,312.42 276.28,312.33 276.38,312.25 276.48,312.16 276.58,312.07 276.68,311.99 276.78,311.90 276.88,311.81 276.98,311.72 277.08,311.63 277.18,311.54 277.28,311.45 277.38,311.36 277.48,311.27 277.58,311.18 277.68,311.09 277.78,311.00 277.89,310.90 277.99,310.81 278.09,310.72 278.19,310.62 278.29,310.53 278.39,310.43 278.49,310.33 278.59,310.24 278.69,310.14 278.79,310.04 278.89,309.95 278.99,309.85 279.09,309.75 279.19,309.65 279.29,309.55 279.39,309.45 279.49,309.34 279.59,309.24 279.69,309.14 279.79,309.04 279.89,308.93 279.99,308.83 280.10,308.72 280.20,308.62 280.30,308.51 280.40,308.40 280.50,308.29 280.60,308.19 280.70,308.08 280.80,307.97 280.90,307.86 281.00,307.75 281.10,307.63 281.20,307.52 281.30,307.41 281.40,307.29 281.50,307.18 281.60,307.06 281.70,306.95 281.80,306.83 281.90,306.71 282.00,306.59 282.10,306.47 282.20,306.35 282.31,306.23 282.41,306.11 282.51,305.98 282.61,305.86 282.71,305.74 282.81,305.61 282.91,305.48 283.01,305.36 283.11,305.23 283.21,305.10 283.31,304.97 283.41,304.84 283.51,304.70 283.61,304.57 283.71,304.44 283.81,304.30 283.91,304.16 284.01,304.03 284.11,303.89 284.21,303.75 284.31,303.61 284.41,303.47 284.51,303.32 284.62,303.18 284.72,303.03 284.82,302.89 284.92,302.74 285.02,302.59 285.12,302.44 285.22,302.29 285.32,302.13 285.42,301.98 285.52,301.82 285.62,301.67 285.72,301.51 285.82,301.35 285.92,301.18 286.02,301.02 286.12,300.86 286.22,300.69 286.32,300.52 286.42,300.35 286.52,300.18 286.62,300.01 286.72,299.83 286.83,299.66 286.93,299.48 287.03,299.30 287.13,299.12 287.23,298.94 287.33,298.75 287.43,298.56 287.53,298.37 287.63,298.18 287.73,297.99 287.83,297.79 287.93,297.59 288.03,297.39 288.13,297.19 288.23,296.99 288.33,296.78 288.43,296.57 288.53,296.36 288.63,296.14 288.73,295.92 288.83,295.70 288.93,295.48 289.04,295.25 289.14,295.02 289.24,294.79 289.34,294.56 289.44,294.32 289.54,294.08 289.64,293.83 289.74,293.58 289.84,293.33 289.94,293.07 290.04,292.81 290.14,292.55 290.24,292.28 290.34,292.01 290.44,291.74 290.54,291.46 290.64,291.17 290.74,290.88 290.84,290.59 290.94,290.29 291.04,289.98 291.14,289.67 291.25,289.36 291.35,289.04 291.45,288.71 291.55,288.38 291.65,288.04 291.75,287.69 291.85,287.34 291.95,286.98 292.05,286.61 292.15,286.23 292.25,285.85 292.35,285.46 292.45,285.05 292.55,284.64 292.65,284.22 292.75,283.79 292.85,283.35 292.95,282.89 293.05,282.43 293.15,281.95 293.25,281.46 293.35,280.95 293.46,280.43 293.56,279.90 293.66,279.34 293.76,278.77 293.86,278.18 293.96,277.57 294.06,276.94 294.16,276.28 294.26,275.60 294.36,274.89 294.46,274.15 294.56,273.38 294.66,272.57 294.76,271.72 294.86,270.83 294.96,269.90 295.06,268.91 295.16,267.86 295.26,266.74 295.36,265.55 295.46,264.28 295.56,262.90 295.66,261.41 295.77,259.78 295.87,257.98 295.97,255.98 296.07,253.72 296.17,251.13 296.27,248.09 296.37,244.40 296.47,239.75 296.57,233.39 296.67,223.35 296.77,210.40 296.83,210.40 296.93,223.35 297.03,233.39 297.13,239.75 297.23,244.40 297.33,248.09 297.43,251.13 297.53,253.72 297.63,255.98 297.73,257.98 297.83,259.78 297.94,261.41 298.04,262.90 298.14,264.28 298.24,265.55 298.34,266.74 298.44,267.86 298.54,268.91 298.64,269.90 298.74,270.83 298.84,271.72 298.94,272.57 299.04,273.38 299.14,274.15 299.24,274.89 299.34,275.60 299.44,276.28 299.54,276.94 299.64,277.57 299.74,278.18 299.84,278.77 299.94,279.34 300.04,279.90 300.14,280.43 300.25,280.95 300.35,281.46 300.45,281.95 300.55,282.43 300.65,282.89 300.75,283.35 300.85,283.79 300.95,284.22 301.05,284.64 301.15,285.05 301.25,285.46 301.35,285.85 301.45,286.23 301.55,286.61 301.65,286.98 301.75,287.34 301.85,287.69 301.95,288.04 302.05,288.38 302.15,288.71 302.25,289.04 302.35,289.36 302.46,289.67 302.56,289.98 302.66,290.29 302.76,290.59 302.86,290.88 302.96,291.17 303.06,291.46 303.16,291.74 303.26,292.01 303.36,292.28 303.46,292.55 303.56,292.81 303.66,293.07 303.76,293.33 303.86,293.58 303.96,293.83 304.06,294.08 304.16,294.32 304.26,294.56 304.36,294.79 304.46,295.02 304.56,295.25 304.67,295.48 304.77,295.70 304.87,295.92 304.97,296.14 305.07,296.36 305.17,296.57 305.27,296.78 305.37,296.99 305.47,297.19 305.57,297.39 305.67,297.59 305.77,297.79 305.87,297.99 305.97,298.18 306.07,298.37 306.17,298.56 306.27,298.75 306.37,298.94 306.47,299.12 306.57,299.30 306.67,299.48 306.77,299.66 306.88,299.83 306.98,300.01 307.08,300.18 307.18,300.35 307.28,300.52 307.38,300.69 307.48,300.86 307.58,301.02 307.68,301.18 307.78,301.35 307.88,301.51 307.98,301.67 308.08,301.82 308.18,301.98 308.28,302.13 308.38,302.29 308.48,302.44 308.58,302.59 308.68,302.74 308.78,302.89 308.88,303.03 308.98,303.18 309.09,303.32 309.19,303.47 309.29,303.61 309.39,303.75 309.49,303.89 309.59,304.03 309.69,304.16 309.79,304.30 309.89,304.44 309.99,304.57 310.09,304.70 310.19,304.84 310.29,304.97 310.39,305.10 310.49,305.23 310.59,305.36 310.69,305.48 310.79,305.61 310.89,305.74 310.99,305.86 311.09,305.98 311.19,306.11 311.29,306.23 311.40,306.35 311.50,306.47 311.60,306.59 311.70,306.71 311.80,306.83 311.90,306.95 312.00,307.06 312.10,307.18 312.20,307.29 312.30,307.41 312.40,307.52 312.50,307.63 312.60,307.75 312.70,307.86 312.80,307.97 312.90,308.08 313.00,308.19 313.10,308.29 313.20,308.40 313.30,308.51 313.40,308.62 313.50,308.72 313.61,308.83 313.71,308.93 313.81,309.04 313.91,309.14 314.01,309.24 314.11,309.34 314.21,309.45 314.31,309.55 314.41,309.65 314.51,309.75 314.61,309.85 314.71,309.95 314.81,310.04 314.91,310.14 315.01,310.24 315.11,310.33 315.21,310.43 315.31,310.53 315.41,310.62 315.51,310.72 315.61,310.81 315.71,310.90 315.82,311.00 315.92,311.09 316.02,311.18 316.12,311.27 316.22,311.36 316.32,311.45 316.42,311.54 316.52,311.63 316.62,311.72 316.72,311.81 316.82,311.90 316.92,311.99 317.02,312.07 317.12,312.16 317.22,312.25 317.32,312.33 317.42,312.42 317.52,312.50 317.62,312.59 317.72,312.67 317.82,312.76 317.92,312.84 318.03,312.92 318.13,313.00 318.23,313.09 318.33,313.17 318.43,313.25 318.53,313.33 318.63,313.41 318.73,313.49 318.83,313.57 318.93,313.65 319.03,313.73 319.13,313.81 319.23,313.89 319.33,313.97 319.43,314.04 319.53,314.12 319.63,314.20 319.73,314.28 319.83,314.35 319.93,314.43 320.03,314.50 320.13,314.58 320.24,314.65 320.34,314.73 320.44,314.80 320.54,314.88 320.64,314.95 320.74,315.02 320.84,315.10 320.94,315.17 321.04,315.24 321.14,315.32 321.24,315.39 321.34,315.46 321.44,315.53 321.54,315.60 321.64,315.67 321.74,315.74 321.84,315.81 321.94,315.88 322.04,315.95 322.14,316.02 322.24,316.09 322.34,316.16 322.44,316.23 322.55,316.30 322.65,316.36 322.75,316.43 322.85,316.50 322.95,316.57 323.05,316.63 323.15,316.70 323.25,316.77 323.35,316.83 323.45,316.90 323.55,316.96 323.65,317.03 323.75,317.09 323.85,317.16 323.95,317.22 324.05,317.29 324.15,317.35 324.25,317.41 324.35,317.48 324.45,317.54 324.55,317.60 324.65,317.67 324.76,317.73 324.86,317.79 324.96,317.85 325.06,317.92 325.16,317.98 325.26,318.04 325.36,318.10 325.46,318.16 325.56,318.22 325.66,318.28 325.76,318.34 325.86,318.40 325.96,318.46 326.06,318.52 326.16,318.58 326.26,318.64 326.36,318.70 326.46,318.76 326.56,318.82 326.66,318.88 326.76,318.93 326.86,318.99 326.97,319.05 327.07,319.11 327.17,319.17 327.27,319.22 327.37,319.28 327.47,319.34 327.57,319.39 327.67,319.45 327.77,319.51 327.87,319.56 327.97,319.62 328.07,319.67 328.17,319.73 328.27,319.78 328.37,319.84 328.47,319.89 328.57,319.95 328.67,320.00 328.77,320.06 328.87,320.11 328.97,320.17 329.07,320.22 329.18,320.27 329.28,320.33 329.38,320.38 329.48,320.43 329.58,320.49 329.68,320.54 329.78,320.59 329.88,320.65 329.98,320.70 330.08,320.75 330.18,320.80 330.28,320.85 330.38,320.90 330.48,320.96 330.58,321.01 330.68,321.06 330.78,321.11 330.88,321.16 330.98,321.21 331.08,321.26 331.18,321.31 331.28,321.36 331.39,321.41 331.49,321.46 331.59,321.51 331.69,321.56 331.79,321.61 331.89,321.66 331.99,321.71 332.09,321.76 332.19,321.81 332.29,321.86 332.39,321.90 332.49,321.95 332.59,322.00 332.69,322.05 332.79,322.10 332.89,322.14 332.99,322.19 333.09,322.24 333.19,322.29 333.29,322.33 333.39,322.38 333.49,322.43 333.60,322.48 333.70,322.52 333.80,322.57 333.90,322.62 334.00,322.66 334.10,322.71 334.20,322.75 334.30,322.80 334.40,322.85 334.50,322.89 334.60,322.94 334.70,322.98 334.80,323.03 334.90,323.07 335.00,323.12 335.10,323.16 335.20,323.21 335.30,323.25 335.40,323.30 335.50,323.34 335.60,323.38 335.70,323.43 335.80,323.47 335.91,323.52 336.01,323.56 336.11,323.60 336.21,323.65 336.31,323.69 336.41,323.73 336.51,323.78 336.61,323.82 336.71,323.86 336.81,323.90 336.91,323.95 337.01,323.99 337.11,324.03 337.21,324.07 337.31,324.12 337.41,324.16 337.51,324.20 337.61,324.24 337.71,324.28 337.81,324.32 337.91,324.37 338.01,324.41 338.12,324.45 338.22,324.49 338.32,324.53 338.42,324.57 338.52,324.61 338.62,324.65 338.72,324.69 338.82,324.73 338.92,324.77 339.02,324.81 339.12,324.85 339.22,324.89 339.32,324.93 339.42,324.97 339.52,325.01 339.62,325.05 339.72,325.09 339.82,325.13 339.92,325.17 340.02,325.21 340.12,325.25 340.22,325.29 340.33,325.33 340.43,325.37 340.53,325.40 340.63,325.44 340.73,325.48 340.83,325.52 340.93,325.56 341.03,325.60 341.13,325.63 341.23,325.67 341.33,325.71 341.43,325.75 341.53,325.79 341.63,325.82 341.73,325.86 341.83,325.90 341.93,325.93 342.03,325.97 342.13,326.01 342.23,326.05 342.33,326.08 342.43,326.12 342.54,326.16 342.64,326.19 342.74,326.23 342.84,326.27 342.94,326.30 343.04,326.34 343.14,326.37 343.24,326.41 343.34,326.45 343.44,326.48 343.54,326.52 343.64,326.55 343.74,326.59 343.84,326.62 343.94,326.66 344.04,326.70 344.14,326.73 344.24,326.77 344.34,326.80 344.44,326.84 344.54,326.87 344.64,326.91 344.75,326.94 344.85,326.97 344.95,327.01 345.05,327.04 345.15,327.08 345.25,327.11 345.35,327.15 345.45,327.18 345.55,327.21 345.65,327.25 345.75,327.28 345.85,327.32 345.95,327.35 346.05,327.38 346.15,327.42 346.25,327.45 346.35,327.48 346.45,327.52 346.55,327.55 346.65,327.58 346.75,327.62 346.85,327.65 346.95,327.68 347.06,327.71 347.16,327.75 347.26,327.78 347.36,327.81 347.46,327.85 347.56,327.88 347.66,327.91 347.76,327.94 347.86,327.97 347.96,328.01 348.06,328.04 348.16,328.07 348.26,328.10 348.36,328.13 348.46,328.17 348.56,328.20 348.66,328.23 348.76,328.26 348.86,328.29 348.96,328.32 349.06,328.35 349.16,328.39 349.27,328.42 349.37,328.45 349.47,328.48 349.57,328.51 349.67,328.54 349.77,328.57 349.87,328.60 349.97,328.63 350.07,328.66 350.17,328.69 350.27,328.72 350.37,328.75 350.47,328.78 350.57,328.81 350.67,328.84 350.77,328.87 350.87,328.90 350.97,328.93 351.07,328.96 351.17,328.99 351.27,329.02 351.37,329.05 351.48,329.08 351.58,329.11 351.68,329.14 351.78,329.17 351.88,329.20 351.98,329.23 352.08,329.26 352.18,329.29 352.28,329.31 352.38,329.34 352.48,329.37 352.58,329.40 352.68,329.43 352.78,329.46 352.88,329.49 352.98,329.52 353.08,329.54 353.18,329.57 353.28,329.60 353.38,329.63 353.48,329.66 353.58,329.68 353.69,329.71 353.79,329.74 353.89,329.77 353.99,329.80 354.09,329.82 354.19,329.85 354.29,329.88 354.39,329.91 354.49,329.93 354.59,329.96 354.69,329.99 354.79,330.02 354.89,330.04 354.99,330.07 355.09,330.10 355.19,330.12 355.29,330.15 355.39,330.18 355.49,330.21 355.59,330.23 355.69,330.26 355.79,330.29 355.90,330.31 356.00,330.34 356.10,330.36 356.20,330.39 356.30,330.42 356.40,330.44 356.50,330.47 356.60,330.50 356.70,330.52 356.80,330.55 356.90,330.57 357.00,330.60"/>
<g filter="url(#gs)">
<text transform="translate(43.30 10.00) scale(1 1.040)" font-size="13.60" text-anchor="start" class="s">(a)</text>
<text transform="translate(235.10 10.00) scale(1 1.040)" font-size="13.60" text-anchor="start" class="s">(b)</text>
<text transform="translate(43.50 194.80) scale(1 1.040)" font-size="13.60" text-anchor="start" class="s">(c)</text>
<text transform="translate(231.30 194.80) scale(1 1.040)" font-size="13.60" text-anchor="start" class="s">(d)</text>
<text transform="translate(52.70 167.30) scale(1 1.100)" font-size="10.30" text-anchor="middle" class="s">−0.002</text>
<text transform="translate(101.70 167.30) scale(1 1.100)" font-size="10.30" text-anchor="middle" class="s">0.000</text>
<text transform="translate(150.30 167.30) scale(1 1.100)" font-size="10.30" text-anchor="middle" class="s">0.002</text>
<text transform="translate(244.30 167.30) scale(1 1.100)" font-size="10.30" text-anchor="middle" class="s">−0.002</text>
<text transform="translate(293.20 167.30) scale(1 1.100)" font-size="10.30" text-anchor="middle" class="s">0.000</text>
<text transform="translate(341.90 167.30) scale(1 1.100)" font-size="10.30" text-anchor="middle" class="s">0.002</text>
<text x="58.20" y="349.00" font-size="10.30" text-anchor="middle" class="s">−0.002</text>
<text x="109.00" y="349.00" font-size="10.30" text-anchor="middle" class="s">0.000</text>
<text x="160.20" y="349.00" font-size="10.30" text-anchor="middle" class="s">0.002</text>
<text x="245.60" y="349.00" font-size="10.30" text-anchor="middle" class="s">−0.002</text>
<text x="296.50" y="349.00" font-size="10.30" text-anchor="middle" class="s">0.000</text>
<text x="347.40" y="349.00" font-size="10.30" text-anchor="middle" class="s">0.002</text>
<text transform="translate(38.10 54.60) scale(1 1.100)" font-size="10.00" text-anchor="end" class="s">10<tspan dy="-5.6" font-size="6.60">−4</tspan></text>
<text transform="translate(38.10 104.00) scale(1 1.100)" font-size="10.00" text-anchor="end" class="s">10<tspan dy="-5.6" font-size="6.60">−8</tspan></text>
<text transform="translate(38.10 153.00) scale(1 1.100)" font-size="10.00" text-anchor="end" class="s">10<tspan dy="-5.6" font-size="6.60">−12</tspan></text>
<text transform="translate(229.90 54.60) scale(1 1.100)" font-size="10.00" text-anchor="end" class="s">10<tspan dy="-5.6" font-size="6.60">−4</tspan></text>
<text transform="translate(229.90 104.00) scale(1 1.100)" font-size="10.00" text-anchor="end" class="s">10<tspan dy="-5.6" font-size="6.60">−8</tspan></text>
<text transform="translate(229.90 153.00) scale(1 1.100)" font-size="10.00" text-anchor="end" class="s">10<tspan dy="-5.6" font-size="6.60">−12</tspan></text>
<text transform="translate(38.20 213.80) scale(1 1.100)" font-size="9.80" text-anchor="end" class="s">10<tspan dy="-6.1" font-size="6.47">−7</tspan></text>
<text transform="translate(38.20 262.20) scale(1 1.100)" font-size="9.80" text-anchor="end" class="s">10<tspan dy="-6.1" font-size="6.47">−9</tspan></text>
<text transform="translate(38.20 309.80) scale(1 1.100)" font-size="9.80" text-anchor="end" class="s">10<tspan dy="-6.1" font-size="6.47">−11</tspan></text>
<text x="226.60" y="231.40" font-size="10.60" text-anchor="end" class="s">35</text>
<text x="226.60" y="254.00" font-size="10.60" text-anchor="end" class="s">30</text>
<text x="226.60" y="276.40" font-size="10.60" text-anchor="end" class="s">25</text>
<text x="226.60" y="299.00" font-size="10.60" text-anchor="end" class="s">20</text>
<text x="226.60" y="321.80" font-size="10.60" text-anchor="end" class="s">15</text>
<text transform="translate(174.80 33.00) scale(1 1.070)" font-size="10.00" text-anchor="start" class="s">8</text>
<text transform="translate(174.80 64.50) scale(1 1.070)" font-size="10.00" text-anchor="start" class="s">6</text>
<text transform="translate(174.80 96.00) scale(1 1.070)" font-size="10.00" text-anchor="start" class="s">4</text>
<text transform="translate(174.80 127.20) scale(1 1.070)" font-size="10.00" text-anchor="start" class="s">2</text>
<text transform="translate(174.80 158.60) scale(1 1.070)" font-size="10.00" text-anchor="start" class="s">0</text>
<text transform="translate(367.20 37.60) scale(1 1.070)" font-size="10.00" text-anchor="start" class="s">35</text>
<text transform="translate(367.20 57.70) scale(1 1.070)" font-size="10.00" text-anchor="start" class="s">30</text>
<text transform="translate(367.20 77.10) scale(1 1.070)" font-size="10.00" text-anchor="start" class="s">25</text>
<text transform="translate(367.20 96.70) scale(1 1.070)" font-size="10.00" text-anchor="start" class="s">20</text>
<text transform="translate(367.20 116.40) scale(1 1.070)" font-size="10.00" text-anchor="start" class="s">15</text>
<text transform="translate(367.20 136.10) scale(1 1.070)" font-size="10.00" text-anchor="start" class="s">10</text>
<text transform="translate(367.20 155.50) scale(1 1.070)" font-size="10.00" text-anchor="start" class="s">5</text>
<text x="101.70" y="183.60" font-size="11.60" text-anchor="middle" letter-spacing="0.25" class="i">δK/T<tspan dy="2.0" font-size="8.82">K</tspan></text>
<text x="293.20" y="183.60" font-size="11.60" text-anchor="middle" letter-spacing="0.25" class="i">δK/T<tspan dy="2.0" font-size="8.82">K</tspan></text>
<text x="108.70" y="363.30" font-size="11.60" text-anchor="middle" letter-spacing="0.25" class="i">δK/T<tspan dy="2.0" font-size="8.82">K</tspan></text>
<text x="296.40" y="363.50" font-size="11.60" text-anchor="middle" letter-spacing="0.25" class="i">δK/T<tspan dy="2.0" font-size="8.82">K</tspan></text>
<text transform="translate(8.60 87.70) rotate(-90)" font-size="11.20" text-anchor="middle" letter-spacing="0.2" class="i">T/T<tspan dy="2.2" font-size="8.29">K</tspan></text>
<text transform="translate(199.50 87.70) rotate(-90)" font-size="11.20" text-anchor="middle" letter-spacing="0.2" class="i">T/T<tspan dy="2.2" font-size="8.29">K</tspan></text>
<text transform="translate(9.80 270.30) rotate(-90)" font-size="11.60" text-anchor="middle" letter-spacing="0.2" class="i">Q<tspan dy="2.2" font-size="8.58">Max</tspan><tspan dy="-2.2" font-size="11.60">(T)</tspan></text>
<text transform="translate(207.60 270.30) rotate(-90)" font-size="11.60" text-anchor="middle" letter-spacing="0.2" class="i">Q<tspan dy="2.2" font-size="8.58">Max</tspan><tspan dy="-2.2" font-size="11.60">(K)</tspan></text>
<text x="133.2" y="12.0" font-size="10.5" class="i">Q<tspan dy="1.8" font-size="7.6">SP</tspan><tspan dy="-1.8" font-size="10.5">(T)</tspan></text>
<text x="167.6" y="12.0" font-size="10.5" class="n">×</text>
<text x="177.6" y="12.0" font-size="10.5" class="n">10<tspan dy="-3.9" dx="0.6" font-size="9.6">−6</tspan></text>
<text x="343.4" y="12.0" font-size="10.3" class="i">Q<tspan dy="1.8" font-size="7.6">SP</tspan><tspan dy="-1.8" font-size="10.5">(K)</tspan></text>
</g>
</svg>
</body></html>
